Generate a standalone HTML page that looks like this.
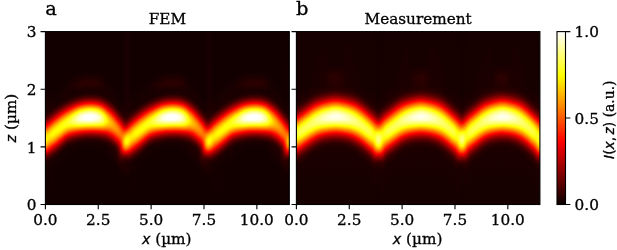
<!DOCTYPE html><html><head><meta charset="utf-8"><title>FEM vs Measurement</title><style>html,body{margin:0;padding:0;background:#fff}svg{display:block}text{font-family:"DejaVu Serif","Liberation Serif",serif;fill:#000;stroke:#000;stroke-width:.3px}.it{font-family:"DejaVu Sans","Liberation Sans",sans-serif;font-style:oblique}.sn{font-family:"DejaVu Sans","Liberation Sans",sans-serif}</style></head><body>
<svg width="617" height="250" viewBox="0 0 617 250">
<defs><linearGradient id="a0" x2="0" y2="1"><stop offset="0" stop-color="#040404"/><stop offset=".34" stop-color="#040404"/><stop offset=".473" stop-color="#090909"/><stop offset=".493" stop-color="#131313"/><stop offset=".51" stop-color="#242424"/><stop offset=".53" stop-color="#414141"/><stop offset=".585" stop-color="#a1a1a1"/><stop offset=".603" stop-color="#b4b4b4"/><stop offset=".62" stop-color="#bbb"/><stop offset=".634" stop-color="#b7b7b7"/><stop offset=".652" stop-color="#a4a4a4"/><stop offset=".669" stop-color="#878787"/><stop offset=".712" stop-color="#313131"/><stop offset=".73" stop-color="#191919"/><stop offset=".747" stop-color="#0b0b0b"/><stop offset=".764" stop-color="#060606"/><stop offset=".802" stop-color="#070707"/><stop offset=".851" stop-color="#030303"/><stop offset="1" stop-color="#030303"/></linearGradient>
<linearGradient id="a1" x2="0" y2="1"><stop offset="0" stop-color="#030303"/><stop offset=".328" stop-color="#030303"/><stop offset=".461" stop-color="#080808"/><stop offset=".478" stop-color="#111"/><stop offset=".496" stop-color="#212121"/><stop offset=".516" stop-color="#3f3f3f"/><stop offset=".571" stop-color="#9f9f9f"/><stop offset=".588" stop-color="#b2b2b2"/><stop offset=".605" stop-color="#b9b9b9"/><stop offset=".62" stop-color="#b5b5b5"/><stop offset=".637" stop-color="#a5a5a5"/><stop offset=".655" stop-color="#8b8b8b"/><stop offset=".707" stop-color="#2d2d2d"/><stop offset=".727" stop-color="#151515"/><stop offset=".744" stop-color="#090909"/><stop offset=".762" stop-color="#050505"/><stop offset=".848" stop-color="#030303"/><stop offset="1" stop-color="#030303"/></linearGradient>
<linearGradient id="a2" x2="0" y2="1"><stop offset="0" stop-color="#030303"/><stop offset=".314" stop-color="#030303"/><stop offset=".449" stop-color="#070707"/><stop offset=".47" stop-color="#121212"/><stop offset=".487" stop-color="#252525"/><stop offset=".507" stop-color="#444"/><stop offset=".559" stop-color="#a2a2a2"/><stop offset=".577" stop-color="#b6b6b6"/><stop offset=".594" stop-color="#bebebe"/><stop offset=".608" stop-color="#bababa"/><stop offset=".626" stop-color="#a9a9a9"/><stop offset=".643" stop-color="#8e8e8e"/><stop offset=".695" stop-color="#2f2f2f"/><stop offset=".715" stop-color="#171717"/><stop offset=".733" stop-color="#0a0a0a"/><stop offset=".756" stop-color="#050505"/><stop offset="1" stop-color="#030303"/></linearGradient>
<linearGradient id="a3" x2="0" y2="1"><stop offset="0" stop-color="#030303"/><stop offset=".302" stop-color="#030303"/><stop offset=".438" stop-color="#070707"/><stop offset=".461" stop-color="#151515"/><stop offset=".481" stop-color="#2c2c2c"/><stop offset=".499" stop-color="#494949"/><stop offset=".536" stop-color="#909090"/><stop offset=".553" stop-color="#ababab"/><stop offset=".571" stop-color="#bcbcbc"/><stop offset=".585" stop-color="#c0c0c0"/><stop offset=".6" stop-color="#bababa"/><stop offset=".614" stop-color="#acacac"/><stop offset=".632" stop-color="#919191"/><stop offset=".669" stop-color="#494949"/><stop offset=".686" stop-color="#2d2d2d"/><stop offset=".704" stop-color="#171717"/><stop offset=".724" stop-color="#090909"/><stop offset=".744" stop-color="#050505"/><stop offset=".825" stop-color="#030303"/><stop offset="1" stop-color="#030303"/></linearGradient>
<linearGradient id="a4" x2="0" y2="1"><stop offset="0" stop-color="#030303"/><stop offset=".293" stop-color="#030303"/><stop offset=".409" stop-color="#040404"/><stop offset=".429" stop-color="#080808"/><stop offset=".449" stop-color="#141414"/><stop offset=".47" stop-color="#2c2c2c"/><stop offset=".487" stop-color="#484848"/><stop offset=".525" stop-color="#909090"/><stop offset=".542" stop-color="#acacac"/><stop offset=".559" stop-color="#bdbdbd"/><stop offset=".574" stop-color="#c1c1c1"/><stop offset=".588" stop-color="#bcbcbc"/><stop offset=".603" stop-color="#adadad"/><stop offset=".62" stop-color="#929292"/><stop offset=".658" stop-color="#4a4a4a"/><stop offset=".675" stop-color="#2d2d2d"/><stop offset=".692" stop-color="#181818"/><stop offset=".712" stop-color="#0a0a0a"/><stop offset=".733" stop-color="#050505"/><stop offset=".814" stop-color="#030303"/><stop offset="1" stop-color="#030303"/></linearGradient>
<linearGradient id="a5" x2="0" y2="1"><stop offset="0" stop-color="#030303"/><stop offset=".285" stop-color="#030303"/><stop offset=".418" stop-color="#070707"/><stop offset=".438" stop-color="#131313"/><stop offset=".458" stop-color="#2a2a2a"/><stop offset=".475" stop-color="#464646"/><stop offset=".516" stop-color="#959595"/><stop offset=".533" stop-color="#b0b0b0"/><stop offset=".548" stop-color="#bdbdbd"/><stop offset=".562" stop-color="#c2c2c2"/><stop offset=".577" stop-color="#bdbdbd"/><stop offset=".591" stop-color="#aeaeae"/><stop offset=".608" stop-color="#929292"/><stop offset=".646" stop-color="#4a4a4a"/><stop offset=".663" stop-color="#2d2d2d"/><stop offset=".681" stop-color="#171717"/><stop offset=".701" stop-color="#090909"/><stop offset=".721" stop-color="#050505"/><stop offset=".802" stop-color="#030303"/><stop offset="1" stop-color="#030303"/></linearGradient>
<linearGradient id="a6" x2="0" y2="1"><stop offset="0" stop-color="#030303"/><stop offset=".276" stop-color="#030303"/><stop offset=".409" stop-color="#070707"/><stop offset=".429" stop-color="#131313"/><stop offset=".449" stop-color="#2c2c2c"/><stop offset=".467" stop-color="#494949"/><stop offset=".504" stop-color="#949494"/><stop offset=".522" stop-color="#afafaf"/><stop offset=".536" stop-color="#bebebe"/><stop offset=".551" stop-color="#c3c3c3"/><stop offset=".565" stop-color="#bebebe"/><stop offset=".579" stop-color="#afafaf"/><stop offset=".597" stop-color="#939393"/><stop offset=".632" stop-color="#4e4e4e"/><stop offset=".649" stop-color="#303030"/><stop offset=".666" stop-color="#191919"/><stop offset=".686" stop-color="#0a0a0a"/><stop offset=".707" stop-color="#050505"/><stop offset=".788" stop-color="#030303"/><stop offset="1" stop-color="#030303"/></linearGradient>
<linearGradient id="a7" x2="0" y2="1"><stop offset="0" stop-color="#030303"/><stop offset=".27" stop-color="#030303"/><stop offset=".4" stop-color="#070707"/><stop offset=".418" stop-color="#111"/><stop offset=".435" stop-color="#242424"/><stop offset=".455" stop-color="#454545"/><stop offset=".49" stop-color="#8c8c8c"/><stop offset=".507" stop-color="#ababab"/><stop offset=".525" stop-color="#bfbfbf"/><stop offset=".539" stop-color="#c5c5c5"/><stop offset=".553" stop-color="#c0c0c0"/><stop offset=".568" stop-color="#b0b0b0"/><stop offset=".585" stop-color="#939393"/><stop offset=".62" stop-color="#4d4d4d"/><stop offset=".637" stop-color="#2e2e2e"/><stop offset=".655" stop-color="#181818"/><stop offset=".675" stop-color="#090909"/><stop offset=".695" stop-color="#050505"/><stop offset=".773" stop-color="#030303"/><stop offset="1" stop-color="#030303"/></linearGradient>
<linearGradient id="a8" x2="0" y2="1"><stop offset="0" stop-color="#030303"/><stop offset=".264" stop-color="#030303"/><stop offset=".395" stop-color="#080808"/><stop offset=".415" stop-color="#151515"/><stop offset=".432" stop-color="#2c2c2c"/><stop offset=".449" stop-color="#4b4b4b"/><stop offset=".487" stop-color="#9a9a9a"/><stop offset=".501" stop-color="#b2b2b2"/><stop offset=".516" stop-color="#c2c2c2"/><stop offset=".53" stop-color="#c8c8c8"/><stop offset=".545" stop-color="#c2c2c2"/><stop offset=".559" stop-color="#b1b1b1"/><stop offset=".574" stop-color="#989898"/><stop offset=".608" stop-color="#4f4f4f"/><stop offset=".626" stop-color="#2f2f2f"/><stop offset=".643" stop-color="#181818"/><stop offset=".663" stop-color="#090909"/><stop offset=".681" stop-color="#050505"/><stop offset=".762" stop-color="#030303"/><stop offset="1" stop-color="#030303"/></linearGradient>
<linearGradient id="a9" x2="0" y2="1"><stop offset="0" stop-color="#030303"/><stop offset=".259" stop-color="#030303"/><stop offset=".322" stop-color="#070707"/><stop offset=".371" stop-color="#050505"/><stop offset=".389" stop-color="#080808"/><stop offset=".409" stop-color="#171717"/><stop offset=".426" stop-color="#2e2e2e"/><stop offset=".444" stop-color="#4f4f4f"/><stop offset=".478" stop-color="#9b9b9b"/><stop offset=".496" stop-color="#b9b9b9"/><stop offset=".51" stop-color="#c9c9c9"/><stop offset=".522" stop-color="#cdcdcd"/><stop offset=".536" stop-color="#c8c8c8"/><stop offset=".551" stop-color="#b7b7b7"/><stop offset=".565" stop-color="#9e9e9e"/><stop offset=".6" stop-color="#525252"/><stop offset=".617" stop-color="#313131"/><stop offset=".634" stop-color="#191919"/><stop offset=".655" stop-color="#090909"/><stop offset=".672" stop-color="#050505"/><stop offset=".75" stop-color="#030303"/><stop offset="1" stop-color="#030303"/></linearGradient>
<linearGradient id="a10" x2="0" y2="1"><stop offset="0" stop-color="#030303"/><stop offset=".25" stop-color="#030303"/><stop offset=".316" stop-color="#080808"/><stop offset=".366" stop-color="#050505"/><stop offset=".383" stop-color="#090909"/><stop offset=".403" stop-color="#181818"/><stop offset=".421" stop-color="#303030"/><stop offset=".438" stop-color="#535353"/><stop offset=".473" stop-color="#a2a2a2"/><stop offset=".487" stop-color="#bdbdbd"/><stop offset=".501" stop-color="#cfcfcf"/><stop offset=".516" stop-color="#d6d6d6"/><stop offset=".53" stop-color="#d0d0d0"/><stop offset=".545" stop-color="#bebebe"/><stop offset=".559" stop-color="#a4a4a4"/><stop offset=".594" stop-color="#555"/><stop offset=".611" stop-color="#323232"/><stop offset=".629" stop-color="#191919"/><stop offset=".649" stop-color="#090909"/><stop offset=".669" stop-color="#040404"/><stop offset=".736" stop-color="#030303"/><stop offset="1" stop-color="#030303"/></linearGradient>
<linearGradient id="a11" x2="0" y2="1"><stop offset="0" stop-color="#030303"/><stop offset=".244" stop-color="#030303"/><stop offset=".311" stop-color="#090909"/><stop offset=".36" stop-color="#050505"/><stop offset=".377" stop-color="#090909"/><stop offset=".395" stop-color="#151515"/><stop offset=".409" stop-color="#282828"/><stop offset=".429" stop-color="#4f4f4f"/><stop offset=".464" stop-color="#a2a2a2"/><stop offset=".478" stop-color="#c0c0c0"/><stop offset=".496" stop-color="#d8d8d8"/><stop offset=".51" stop-color="#e0e0e0"/><stop offset=".525" stop-color="#dadada"/><stop offset=".539" stop-color="#c8c8c8"/><stop offset=".553" stop-color="#adadad"/><stop offset=".591" stop-color="#535353"/><stop offset=".608" stop-color="#303030"/><stop offset=".626" stop-color="#171717"/><stop offset=".646" stop-color="#080808"/><stop offset=".712" stop-color="#030303"/><stop offset="1" stop-color="#030303"/></linearGradient>
<linearGradient id="a12" x2="0" y2="1"><stop offset="0" stop-color="#030303"/><stop offset=".238" stop-color="#030303"/><stop offset=".305" stop-color="#0a0a0a"/><stop offset=".354" stop-color="#060606"/><stop offset=".374" stop-color="#0a0a0a"/><stop offset=".395" stop-color="#1b1b1b"/><stop offset=".412" stop-color="#373737"/><stop offset=".429" stop-color="#5d5d5d"/><stop offset=".464" stop-color="#b4b4b4"/><stop offset=".478" stop-color="#d1d1d1"/><stop offset=".493" stop-color="#e4e4e4"/><stop offset=".507" stop-color="#ebebeb"/><stop offset=".519" stop-color="#e6e6e6"/><stop offset=".533" stop-color="#d4d4d4"/><stop offset=".551" stop-color="#b1b1b1"/><stop offset=".585" stop-color="#5a5a5a"/><stop offset=".603" stop-color="#353535"/><stop offset=".62" stop-color="#1a1a1a"/><stop offset=".64" stop-color="#090909"/><stop offset=".658" stop-color="#050505"/><stop offset=".701" stop-color="#030303"/><stop offset="1" stop-color="#030303"/></linearGradient>
<linearGradient id="a13" x2="0" y2="1"><stop offset="0" stop-color="#030303"/><stop offset=".233" stop-color="#030303"/><stop offset=".302" stop-color="#0b0b0b"/><stop offset=".351" stop-color="#060606"/><stop offset=".368" stop-color="#090909"/><stop offset=".386" stop-color="#161616"/><stop offset=".403" stop-color="#303030"/><stop offset=".421" stop-color="#555"/><stop offset=".455" stop-color="#b0b0b0"/><stop offset=".47" stop-color="#d1d1d1"/><stop offset=".487" stop-color="#ececec"/><stop offset=".501" stop-color="#f5f5f5"/><stop offset=".516" stop-color="#efefef"/><stop offset=".53" stop-color="#dcdcdc"/><stop offset=".545" stop-color="#bebebe"/><stop offset=".582" stop-color="#5c5c5c"/><stop offset=".6" stop-color="#353535"/><stop offset=".617" stop-color="#191919"/><stop offset=".637" stop-color="#090909"/><stop offset=".655" stop-color="#050505"/><stop offset=".701" stop-color="#030303"/><stop offset="1" stop-color="#030303"/></linearGradient>
<linearGradient id="a14" x2="0" y2="1"><stop offset="0" stop-color="#030303"/><stop offset=".236" stop-color="#030303"/><stop offset=".302" stop-color="#0c0c0c"/><stop offset=".348" stop-color="#060606"/><stop offset=".366" stop-color="#090909"/><stop offset=".383" stop-color="#171717"/><stop offset=".4" stop-color="#313131"/><stop offset=".418" stop-color="#585858"/><stop offset=".452" stop-color="#b5b5b5"/><stop offset=".467" stop-color="#d8d8d8"/><stop offset=".484" stop-color="#f4f4f4"/><stop offset=".499" stop-color="#fdfdfd"/><stop offset=".513" stop-color="#f7f7f7"/><stop offset=".527" stop-color="#e3e3e3"/><stop offset=".542" stop-color="#c3c3c3"/><stop offset=".579" stop-color="#5e5e5e"/><stop offset=".597" stop-color="#363636"/><stop offset=".614" stop-color="#1a1a1a"/><stop offset=".634" stop-color="#090909"/><stop offset=".652" stop-color="#050505"/><stop offset=".698" stop-color="#030303"/><stop offset="1" stop-color="#030303"/></linearGradient>
<linearGradient id="a15" x2="0" y2="1"><stop offset="0" stop-color="#030303"/><stop offset=".23" stop-color="#030303"/><stop offset=".296" stop-color="#0d0d0d"/><stop offset=".345" stop-color="#060606"/><stop offset=".366" stop-color="#0a0a0a"/><stop offset=".386" stop-color="#1e1e1e"/><stop offset=".403" stop-color="#3c3c3c"/><stop offset=".421" stop-color="#666"/><stop offset=".455" stop-color="#c6c6c6"/><stop offset=".47" stop-color="#e6e6e6"/><stop offset=".487" stop-color="#fdfdfd"/><stop offset=".501" stop-color="#fff"/><stop offset=".513" stop-color="#f9f9f9"/><stop offset=".53" stop-color="#ddd"/><stop offset=".545" stop-color="#bababa"/><stop offset=".579" stop-color="#5b5b5b"/><stop offset=".597" stop-color="#333"/><stop offset=".614" stop-color="#181818"/><stop offset=".632" stop-color="#090909"/><stop offset=".649" stop-color="#050505"/><stop offset=".695" stop-color="#030303"/><stop offset="1" stop-color="#030303"/></linearGradient>
<linearGradient id="a16" x2="0" y2="1"><stop offset="0" stop-color="#030303"/><stop offset=".233" stop-color="#030303"/><stop offset=".296" stop-color="#0d0d0d"/><stop offset=".342" stop-color="#060606"/><stop offset=".363" stop-color="#0a0a0a"/><stop offset=".383" stop-color="#1c1c1c"/><stop offset=".4" stop-color="#3a3a3a"/><stop offset=".418" stop-color="#646464"/><stop offset=".455" stop-color="#cdcdcd"/><stop offset=".473" stop-color="#f1f1f1"/><stop offset=".484" stop-color="#fff"/><stop offset=".507" stop-color="#fff"/><stop offset=".519" stop-color="#f3f3f3"/><stop offset=".533" stop-color="#d6d6d6"/><stop offset=".577" stop-color="#5f5f5f"/><stop offset=".594" stop-color="#363636"/><stop offset=".611" stop-color="#1a1a1a"/><stop offset=".629" stop-color="#0a0a0a"/><stop offset=".646" stop-color="#050505"/><stop offset=".686" stop-color="#030303"/><stop offset="1" stop-color="#030303"/></linearGradient>
<linearGradient id="a17" x2="0" y2="1"><stop offset="0" stop-color="#030303"/><stop offset=".233" stop-color="#030303"/><stop offset=".296" stop-color="#0d0d0d"/><stop offset=".342" stop-color="#060606"/><stop offset=".363" stop-color="#0a0a0a"/><stop offset=".383" stop-color="#1e1e1e"/><stop offset=".4" stop-color="#3c3c3c"/><stop offset=".418" stop-color="#676767"/><stop offset=".452" stop-color="#c9c9c9"/><stop offset=".47" stop-color="#efefef"/><stop offset=".481" stop-color="#fff"/><stop offset=".507" stop-color="#fff"/><stop offset=".516" stop-color="#f7f7f7"/><stop offset=".53" stop-color="#dcdcdc"/><stop offset=".545" stop-color="#b7b7b7"/><stop offset=".577" stop-color="#5d5d5d"/><stop offset=".594" stop-color="#353535"/><stop offset=".611" stop-color="#191919"/><stop offset=".629" stop-color="#0a0a0a"/><stop offset=".646" stop-color="#050505"/><stop offset=".689" stop-color="#030303"/><stop offset="1" stop-color="#030303"/></linearGradient>
<linearGradient id="a18" x2="0" y2="1"><stop offset="0" stop-color="#030303"/><stop offset=".233" stop-color="#030303"/><stop offset=".296" stop-color="#0d0d0d"/><stop offset=".342" stop-color="#060606"/><stop offset=".363" stop-color="#0a0a0a"/><stop offset=".383" stop-color="#1d1d1d"/><stop offset=".4" stop-color="#3c3c3c"/><stop offset=".418" stop-color="#676767"/><stop offset=".452" stop-color="#c8c8c8"/><stop offset=".47" stop-color="#eee"/><stop offset=".481" stop-color="#fefefe"/><stop offset=".507" stop-color="#fff"/><stop offset=".519" stop-color="#f2f2f2"/><stop offset=".533" stop-color="#d5d5d5"/><stop offset=".577" stop-color="#5d5d5d"/><stop offset=".594" stop-color="#353535"/><stop offset=".611" stop-color="#191919"/><stop offset=".629" stop-color="#0a0a0a"/><stop offset=".646" stop-color="#050505"/><stop offset=".689" stop-color="#030303"/><stop offset="1" stop-color="#030303"/></linearGradient>
<linearGradient id="a19" x2="0" y2="1"><stop offset="0" stop-color="#030303"/><stop offset=".233" stop-color="#030303"/><stop offset=".296" stop-color="#0d0d0d"/><stop offset=".342" stop-color="#060606"/><stop offset=".363" stop-color="#0a0a0a"/><stop offset=".383" stop-color="#1c1c1c"/><stop offset=".4" stop-color="#3a3a3a"/><stop offset=".418" stop-color="#646464"/><stop offset=".452" stop-color="#c4c4c4"/><stop offset=".47" stop-color="#eaeaea"/><stop offset=".484" stop-color="#fefefe"/><stop offset=".501" stop-color="#fff"/><stop offset=".513" stop-color="#f8f8f8"/><stop offset=".53" stop-color="#dadada"/><stop offset=".545" stop-color="#b6b6b6"/><stop offset=".579" stop-color="#565656"/><stop offset=".597" stop-color="#303030"/><stop offset=".611" stop-color="#191919"/><stop offset=".629" stop-color="#0a0a0a"/><stop offset=".646" stop-color="#050505"/><stop offset=".689" stop-color="#030303"/><stop offset="1" stop-color="#030303"/></linearGradient>
<linearGradient id="a20" x2="0" y2="1"><stop offset="0" stop-color="#030303"/><stop offset=".23" stop-color="#030303"/><stop offset=".296" stop-color="#0c0c0c"/><stop offset=".345" stop-color="#060606"/><stop offset=".366" stop-color="#0b0b0b"/><stop offset=".386" stop-color="#1e1e1e"/><stop offset=".403" stop-color="#3d3d3d"/><stop offset=".421" stop-color="#666"/><stop offset=".452" stop-color="#bdbdbd"/><stop offset=".47" stop-color="#e3e3e3"/><stop offset=".484" stop-color="#f7f7f7"/><stop offset=".499" stop-color="#fdfdfd"/><stop offset=".513" stop-color="#f5f5f5"/><stop offset=".53" stop-color="#d8d8d8"/><stop offset=".545" stop-color="#b6b6b6"/><stop offset=".579" stop-color="#585858"/><stop offset=".597" stop-color="#313131"/><stop offset=".614" stop-color="#171717"/><stop offset=".632" stop-color="#090909"/><stop offset=".649" stop-color="#050505"/><stop offset=".695" stop-color="#030303"/><stop offset="1" stop-color="#030303"/></linearGradient>
<linearGradient id="a21" x2="0" y2="1"><stop offset="0" stop-color="#030303"/><stop offset=".23" stop-color="#030303"/><stop offset=".299" stop-color="#0b0b0b"/><stop offset=".348" stop-color="#060606"/><stop offset=".366" stop-color="#090909"/><stop offset=".383" stop-color="#171717"/><stop offset=".397" stop-color="#2b2b2b"/><stop offset=".418" stop-color="#565656"/><stop offset=".452" stop-color="#b0b0b0"/><stop offset=".467" stop-color="#d1d1d1"/><stop offset=".484" stop-color="#ececec"/><stop offset=".499" stop-color="#f4f4f4"/><stop offset=".513" stop-color="#eee"/><stop offset=".527" stop-color="#dadada"/><stop offset=".542" stop-color="#bcbcbc"/><stop offset=".579" stop-color="#5a5a5a"/><stop offset=".597" stop-color="#343434"/><stop offset=".614" stop-color="#191919"/><stop offset=".634" stop-color="#080808"/><stop offset=".701" stop-color="#030303"/><stop offset="1" stop-color="#030303"/></linearGradient>
<linearGradient id="a22" x2="0" y2="1"><stop offset="0" stop-color="#030303"/><stop offset=".236" stop-color="#030303"/><stop offset=".302" stop-color="#0a0a0a"/><stop offset=".351" stop-color="#050505"/><stop offset=".368" stop-color="#080808"/><stop offset=".389" stop-color="#181818"/><stop offset=".406" stop-color="#323232"/><stop offset=".423" stop-color="#565656"/><stop offset=".461" stop-color="#b2b2b2"/><stop offset=".475" stop-color="#cecece"/><stop offset=".49" stop-color="#e1e1e1"/><stop offset=".504" stop-color="#e6e6e6"/><stop offset=".519" stop-color="#dedede"/><stop offset=".536" stop-color="#c5c5c5"/><stop offset=".551" stop-color="#a5a5a5"/><stop offset=".585" stop-color="#505050"/><stop offset=".603" stop-color="#2d2d2d"/><stop offset=".62" stop-color="#151515"/><stop offset=".637" stop-color="#080808"/><stop offset=".655" stop-color="#050505"/><stop offset=".71" stop-color="#030303"/><stop offset="1" stop-color="#030303"/></linearGradient>
<linearGradient id="a23" x2="0" y2="1"><stop offset="0" stop-color="#030303"/><stop offset=".241" stop-color="#030303"/><stop offset=".308" stop-color="#080808"/><stop offset=".357" stop-color="#050505"/><stop offset=".374" stop-color="#080808"/><stop offset=".395" stop-color="#171717"/><stop offset=".412" stop-color="#2f2f2f"/><stop offset=".429" stop-color="#515151"/><stop offset=".464" stop-color="#9f9f9f"/><stop offset=".481" stop-color="#bebebe"/><stop offset=".496" stop-color="#cecece"/><stop offset=".507" stop-color="#d2d2d2"/><stop offset=".522" stop-color="#cdcdcd"/><stop offset=".536" stop-color="#bcbcbc"/><stop offset=".551" stop-color="#a2a2a2"/><stop offset=".585" stop-color="#545454"/><stop offset=".603" stop-color="#323232"/><stop offset=".62" stop-color="#191919"/><stop offset=".64" stop-color="#090909"/><stop offset=".658" stop-color="#050505"/><stop offset=".736" stop-color="#030303"/><stop offset="1" stop-color="#030303"/></linearGradient>
<linearGradient id="a24" x2="0" y2="1"><stop offset="0" stop-color="#030303"/><stop offset=".25" stop-color="#030303"/><stop offset=".38" stop-color="#080808"/><stop offset=".4" stop-color="#141414"/><stop offset=".418" stop-color="#2a2a2a"/><stop offset=".435" stop-color="#474747"/><stop offset=".473" stop-color="#939393"/><stop offset=".487" stop-color="#aaa"/><stop offset=".501" stop-color="#b9b9b9"/><stop offset=".516" stop-color="#bdbdbd"/><stop offset=".527" stop-color="#b9b9b9"/><stop offset=".542" stop-color="#aaa"/><stop offset=".559" stop-color="#8e8e8e"/><stop offset=".591" stop-color="#4d4d4d"/><stop offset=".608" stop-color="#2e2e2e"/><stop offset=".626" stop-color="#181818"/><stop offset=".646" stop-color="#090909"/><stop offset=".663" stop-color="#050505"/><stop offset=".75" stop-color="#030303"/><stop offset="1" stop-color="#030303"/></linearGradient>
<linearGradient id="a25" x2="0" y2="1"><stop offset="0" stop-color="#030303"/><stop offset=".264" stop-color="#030303"/><stop offset=".389" stop-color="#070707"/><stop offset=".406" stop-color="#111"/><stop offset=".423" stop-color="#232323"/><stop offset=".441" stop-color="#3d3d3d"/><stop offset=".49" stop-color="#959595"/><stop offset=".507" stop-color="#a8a8a8"/><stop offset=".522" stop-color="#aeaeae"/><stop offset=".536" stop-color="#aaa"/><stop offset=".551" stop-color="#9c9c9c"/><stop offset=".568" stop-color="#828282"/><stop offset=".617" stop-color="#2b2b2b"/><stop offset=".637" stop-color="#131313"/><stop offset=".655" stop-color="#090909"/><stop offset=".762" stop-color="#030303"/><stop offset="1" stop-color="#030303"/></linearGradient>
<linearGradient id="a26" x2="0" y2="1"><stop offset="0" stop-color="#030303"/><stop offset=".276" stop-color="#030303"/><stop offset=".397" stop-color="#070707"/><stop offset=".415" stop-color="#0f0f0f"/><stop offset=".432" stop-color="#1f1f1f"/><stop offset=".449" stop-color="#373737"/><stop offset=".501" stop-color="#8d8d8d"/><stop offset=".519" stop-color="#9e9e9e"/><stop offset=".533" stop-color="#a3a3a3"/><stop offset=".548" stop-color="#9f9f9f"/><stop offset=".562" stop-color="#919191"/><stop offset=".577" stop-color="#7d7d7d"/><stop offset=".629" stop-color="#272727"/><stop offset=".646" stop-color="#141414"/><stop offset=".663" stop-color="#090909"/><stop offset=".77" stop-color="#030303"/><stop offset="1" stop-color="#030303"/></linearGradient>
<linearGradient id="a27" x2="0" y2="1"><stop offset="0" stop-color="#030303"/><stop offset=".296" stop-color="#030303"/><stop offset=".412" stop-color="#070707"/><stop offset=".432" stop-color="#111"/><stop offset=".452" stop-color="#262626"/><stop offset=".504" stop-color="#777"/><stop offset=".519" stop-color="#8b8b8b"/><stop offset=".533" stop-color="#979797"/><stop offset=".548" stop-color="#9b9b9b"/><stop offset=".562" stop-color="#969696"/><stop offset=".577" stop-color="#898989"/><stop offset=".64" stop-color="#282828"/><stop offset=".66" stop-color="#121212"/><stop offset=".678" stop-color="#090909"/><stop offset=".785" stop-color="#030303"/><stop offset="1" stop-color="#030303"/></linearGradient>
<linearGradient id="a28" x2="0" y2="1"><stop offset="0" stop-color="#030303"/><stop offset=".319" stop-color="#030303"/><stop offset=".426" stop-color="#070707"/><stop offset=".444" stop-color="#0e0e0e"/><stop offset=".461" stop-color="#1c1c1c"/><stop offset=".481" stop-color="#363636"/><stop offset=".53" stop-color="#818181"/><stop offset=".548" stop-color="#919191"/><stop offset=".562" stop-color="#969696"/><stop offset=".577" stop-color="#929292"/><stop offset=".591" stop-color="#868686"/><stop offset=".605" stop-color="#737373"/><stop offset=".655" stop-color="#282828"/><stop offset=".672" stop-color="#161616"/><stop offset=".689" stop-color="#0c0c0c"/><stop offset=".796" stop-color="#030303"/><stop offset="1" stop-color="#030303"/></linearGradient>
<linearGradient id="a29" x2="0" y2="1"><stop offset="0" stop-color="#030303"/><stop offset=".386" stop-color="#030303"/><stop offset=".444" stop-color="#070707"/><stop offset=".461" stop-color="#0e0e0e"/><stop offset=".478" stop-color="#1c1c1c"/><stop offset=".496" stop-color="#313131"/><stop offset=".548" stop-color="#7d7d7d"/><stop offset=".565" stop-color="#8c8c8c"/><stop offset=".579" stop-color="#909090"/><stop offset=".594" stop-color="#8b8b8b"/><stop offset=".608" stop-color="#7f7f7f"/><stop offset=".655" stop-color="#424242"/><stop offset=".672" stop-color="#303030"/><stop offset=".692" stop-color="#212121"/><stop offset=".718" stop-color="#171717"/><stop offset=".764" stop-color="#090909"/><stop offset=".796" stop-color="#040404"/><stop offset="1" stop-color="#030303"/></linearGradient>
<linearGradient id="a30" x2="0" y2="1"><stop offset="0" stop-color="#030303"/><stop offset=".392" stop-color="#030303"/><stop offset=".461" stop-color="#070707"/><stop offset=".481" stop-color="#0f0f0f"/><stop offset=".501" stop-color="#212121"/><stop offset=".553" stop-color="#676767"/><stop offset=".571" stop-color="#7b7b7b"/><stop offset=".588" stop-color="#878787"/><stop offset=".603" stop-color="#8a8a8a"/><stop offset=".626" stop-color="#848484"/><stop offset=".658" stop-color="#6e6e6e"/><stop offset=".681" stop-color="#575757"/><stop offset=".724" stop-color="#1f1f1f"/><stop offset=".75" stop-color="#0c0c0c"/><stop offset=".828" stop-color="#030303"/><stop offset="1" stop-color="#030303"/></linearGradient>
<linearGradient id="a31" x2="0" y2="1"><stop offset="0" stop-color="#040404"/><stop offset=".403" stop-color="#050505"/><stop offset=".481" stop-color="#090909"/><stop offset=".501" stop-color="#111"/><stop offset=".522" stop-color="#222"/><stop offset=".545" stop-color="#404040"/><stop offset=".6" stop-color="#959595"/><stop offset=".617" stop-color="#a7a7a7"/><stop offset=".634" stop-color="#afafaf"/><stop offset=".649" stop-color="#aaa"/><stop offset=".666" stop-color="#979797"/><stop offset=".678" stop-color="#838383"/><stop offset=".718" stop-color="#2c2c2c"/><stop offset=".733" stop-color="#171717"/><stop offset=".747" stop-color="#0c0c0c"/><stop offset=".842" stop-color="#030303"/><stop offset="1" stop-color="#030303"/></linearGradient>
<linearGradient id="a32" x2="0" y2="1"><stop offset="0" stop-color="#060606"/><stop offset=".444" stop-color="#070707"/><stop offset=".493" stop-color="#0b0b0b"/><stop offset=".513" stop-color="#161616"/><stop offset=".53" stop-color="#292929"/><stop offset=".551" stop-color="#494949"/><stop offset=".588" stop-color="#969696"/><stop offset=".603" stop-color="#afafaf"/><stop offset=".617" stop-color="#c1c1c1"/><stop offset=".632" stop-color="#c7c7c7"/><stop offset=".646" stop-color="#c0c0c0"/><stop offset=".66" stop-color="#aeaeae"/><stop offset=".675" stop-color="#919191"/><stop offset=".698" stop-color="#595959"/><stop offset=".715" stop-color="#343434"/><stop offset=".733" stop-color="#191919"/><stop offset=".747" stop-color="#0c0c0c"/><stop offset=".762" stop-color="#080808"/><stop offset=".796" stop-color="#090909"/><stop offset=".848" stop-color="#030303"/><stop offset="1" stop-color="#030303"/></linearGradient>
<linearGradient id="a33" x2="0" y2="1"><stop offset="0" stop-color="#050505"/><stop offset=".342" stop-color="#050505"/><stop offset=".452" stop-color="#060606"/><stop offset=".475" stop-color="#0a0a0a"/><stop offset=".496" stop-color="#141414"/><stop offset=".516" stop-color="#282828"/><stop offset=".536" stop-color="#474747"/><stop offset=".574" stop-color="#8c8c8c"/><stop offset=".591" stop-color="#a8a8a8"/><stop offset=".608" stop-color="#bababa"/><stop offset=".623" stop-color="#bebebe"/><stop offset=".637" stop-color="#b8b8b8"/><stop offset=".652" stop-color="#a9a9a9"/><stop offset=".669" stop-color="#8b8b8b"/><stop offset=".698" stop-color="#4e4e4e"/><stop offset=".715" stop-color="#2e2e2e"/><stop offset=".733" stop-color="#171717"/><stop offset=".747" stop-color="#0b0b0b"/><stop offset=".764" stop-color="#060606"/><stop offset=".802" stop-color="#070707"/><stop offset=".851" stop-color="#030303"/><stop offset="1" stop-color="#030303"/></linearGradient>
<linearGradient id="a34" x2="0" y2="1"><stop offset="0" stop-color="#030303"/><stop offset=".328" stop-color="#030303"/><stop offset=".461" stop-color="#080808"/><stop offset=".484" stop-color="#151515"/><stop offset=".504" stop-color="#2c2c2c"/><stop offset=".522" stop-color="#474747"/><stop offset=".559" stop-color="#8c8c8c"/><stop offset=".577" stop-color="#a5a5a5"/><stop offset=".594" stop-color="#b5b5b5"/><stop offset=".608" stop-color="#b9b9b9"/><stop offset=".623" stop-color="#b4b4b4"/><stop offset=".64" stop-color="#a2a2a2"/><stop offset=".658" stop-color="#878787"/><stop offset=".707" stop-color="#2e2e2e"/><stop offset=".727" stop-color="#151515"/><stop offset=".744" stop-color="#090909"/><stop offset=".762" stop-color="#050505"/><stop offset=".848" stop-color="#030303"/><stop offset="1" stop-color="#030303"/></linearGradient>
<linearGradient id="a35" x2="0" y2="1"><stop offset="0" stop-color="#030303"/><stop offset=".314" stop-color="#030303"/><stop offset=".449" stop-color="#070707"/><stop offset=".47" stop-color="#121212"/><stop offset=".487" stop-color="#242424"/><stop offset=".507" stop-color="#434343"/><stop offset=".559" stop-color="#a1a1a1"/><stop offset=".577" stop-color="#b6b6b6"/><stop offset=".594" stop-color="#bebebe"/><stop offset=".608" stop-color="#bababa"/><stop offset=".626" stop-color="#a9a9a9"/><stop offset=".643" stop-color="#8e8e8e"/><stop offset=".695" stop-color="#303030"/><stop offset=".715" stop-color="#171717"/><stop offset=".733" stop-color="#0a0a0a"/><stop offset=".756" stop-color="#050505"/><stop offset="1" stop-color="#030303"/></linearGradient>
<linearGradient id="a36" x2="0" y2="1"><stop offset="0" stop-color="#030303"/><stop offset=".305" stop-color="#030303"/><stop offset=".421" stop-color="#040404"/><stop offset=".441" stop-color="#080808"/><stop offset=".461" stop-color="#141414"/><stop offset=".481" stop-color="#2c2c2c"/><stop offset=".499" stop-color="#484848"/><stop offset=".536" stop-color="#909090"/><stop offset=".553" stop-color="#ababab"/><stop offset=".571" stop-color="#bcbcbc"/><stop offset=".585" stop-color="#c0c0c0"/><stop offset=".6" stop-color="#bbb"/><stop offset=".614" stop-color="#acacac"/><stop offset=".632" stop-color="#919191"/><stop offset=".669" stop-color="#4a4a4a"/><stop offset=".686" stop-color="#2d2d2d"/><stop offset=".704" stop-color="#181818"/><stop offset=".724" stop-color="#0a0a0a"/><stop offset=".744" stop-color="#050505"/><stop offset=".825" stop-color="#030303"/><stop offset="1" stop-color="#030303"/></linearGradient>
<linearGradient id="a37" x2="0" y2="1"><stop offset="0" stop-color="#030303"/><stop offset=".293" stop-color="#030303"/><stop offset=".429" stop-color="#080808"/><stop offset=".449" stop-color="#141414"/><stop offset=".47" stop-color="#2b2b2b"/><stop offset=".487" stop-color="#484848"/><stop offset=".527" stop-color="#959595"/><stop offset=".545" stop-color="#afafaf"/><stop offset=".559" stop-color="#bdbdbd"/><stop offset=".574" stop-color="#c1c1c1"/><stop offset=".588" stop-color="#bcbcbc"/><stop offset=".603" stop-color="#adadad"/><stop offset=".62" stop-color="#929292"/><stop offset=".658" stop-color="#4a4a4a"/><stop offset=".675" stop-color="#2e2e2e"/><stop offset=".692" stop-color="#181818"/><stop offset=".712" stop-color="#0a0a0a"/><stop offset=".733" stop-color="#050505"/><stop offset=".814" stop-color="#030303"/><stop offset="1" stop-color="#030303"/></linearGradient>
<linearGradient id="a38" x2="0" y2="1"><stop offset="0" stop-color="#030303"/><stop offset=".285" stop-color="#030303"/><stop offset=".418" stop-color="#070707"/><stop offset=".438" stop-color="#131313"/><stop offset=".458" stop-color="#2a2a2a"/><stop offset=".478" stop-color="#4b4b4b"/><stop offset=".516" stop-color="#949494"/><stop offset=".533" stop-color="#afafaf"/><stop offset=".548" stop-color="#bdbdbd"/><stop offset=".562" stop-color="#c2c2c2"/><stop offset=".577" stop-color="#bdbdbd"/><stop offset=".591" stop-color="#aeaeae"/><stop offset=".608" stop-color="#939393"/><stop offset=".646" stop-color="#4a4a4a"/><stop offset=".663" stop-color="#2d2d2d"/><stop offset=".681" stop-color="#181818"/><stop offset=".701" stop-color="#0a0a0a"/><stop offset=".721" stop-color="#050505"/><stop offset=".802" stop-color="#030303"/><stop offset="1" stop-color="#030303"/></linearGradient>
<linearGradient id="a39" x2="0" y2="1"><stop offset="0" stop-color="#030303"/><stop offset=".276" stop-color="#030303"/><stop offset=".409" stop-color="#070707"/><stop offset=".429" stop-color="#131313"/><stop offset=".449" stop-color="#2b2b2b"/><stop offset=".467" stop-color="#494949"/><stop offset=".504" stop-color="#939393"/><stop offset=".522" stop-color="#afafaf"/><stop offset=".536" stop-color="#bebebe"/><stop offset=".551" stop-color="#c3c3c3"/><stop offset=".565" stop-color="#bebebe"/><stop offset=".579" stop-color="#afafaf"/><stop offset=".597" stop-color="#939393"/><stop offset=".632" stop-color="#4e4e4e"/><stop offset=".649" stop-color="#303030"/><stop offset=".669" stop-color="#171717"/><stop offset=".689" stop-color="#090909"/><stop offset=".71" stop-color="#050505"/><stop offset=".79" stop-color="#030303"/><stop offset="1" stop-color="#030303"/></linearGradient>
<linearGradient id="a40" x2="0" y2="1"><stop offset="0" stop-color="#030303"/><stop offset=".27" stop-color="#030303"/><stop offset=".386" stop-color="#050505"/><stop offset=".403" stop-color="#080808"/><stop offset=".423" stop-color="#161616"/><stop offset=".441" stop-color="#2c2c2c"/><stop offset=".458" stop-color="#4b4b4b"/><stop offset=".496" stop-color="#979797"/><stop offset=".51" stop-color="#afafaf"/><stop offset=".525" stop-color="#bfbfbf"/><stop offset=".539" stop-color="#c5c5c5"/><stop offset=".553" stop-color="#c0c0c0"/><stop offset=".568" stop-color="#b0b0b0"/><stop offset=".585" stop-color="#949494"/><stop offset=".62" stop-color="#4d4d4d"/><stop offset=".637" stop-color="#2f2f2f"/><stop offset=".655" stop-color="#181818"/><stop offset=".675" stop-color="#0a0a0a"/><stop offset=".695" stop-color="#050505"/><stop offset=".773" stop-color="#030303"/><stop offset="1" stop-color="#030303"/></linearGradient>
<linearGradient id="a41" x2="0" y2="1"><stop offset="0" stop-color="#030303"/><stop offset=".264" stop-color="#030303"/><stop offset=".395" stop-color="#080808"/><stop offset=".415" stop-color="#151515"/><stop offset=".432" stop-color="#2c2c2c"/><stop offset=".449" stop-color="#4b4b4b"/><stop offset=".487" stop-color="#999"/><stop offset=".501" stop-color="#b2b2b2"/><stop offset=".516" stop-color="#c2c2c2"/><stop offset=".53" stop-color="#c8c8c8"/><stop offset=".545" stop-color="#c2c2c2"/><stop offset=".559" stop-color="#b1b1b1"/><stop offset=".574" stop-color="#989898"/><stop offset=".608" stop-color="#505050"/><stop offset=".626" stop-color="#303030"/><stop offset=".643" stop-color="#181818"/><stop offset=".663" stop-color="#090909"/><stop offset=".681" stop-color="#050505"/><stop offset=".762" stop-color="#030303"/><stop offset="1" stop-color="#030303"/></linearGradient>
<linearGradient id="a42" x2="0" y2="1"><stop offset="0" stop-color="#030303"/><stop offset=".259" stop-color="#030303"/><stop offset=".322" stop-color="#070707"/><stop offset=".371" stop-color="#050505"/><stop offset=".389" stop-color="#080808"/><stop offset=".409" stop-color="#171717"/><stop offset=".426" stop-color="#2e2e2e"/><stop offset=".444" stop-color="#4f4f4f"/><stop offset=".478" stop-color="#9b9b9b"/><stop offset=".496" stop-color="#b9b9b9"/><stop offset=".51" stop-color="#c9c9c9"/><stop offset=".522" stop-color="#cdcdcd"/><stop offset=".536" stop-color="#c8c8c8"/><stop offset=".551" stop-color="#b7b7b7"/><stop offset=".565" stop-color="#9e9e9e"/><stop offset=".6" stop-color="#525252"/><stop offset=".617" stop-color="#313131"/><stop offset=".634" stop-color="#191919"/><stop offset=".655" stop-color="#090909"/><stop offset=".672" stop-color="#050505"/><stop offset=".75" stop-color="#030303"/><stop offset="1" stop-color="#030303"/></linearGradient>
<linearGradient id="a43" x2="0" y2="1"><stop offset="0" stop-color="#030303"/><stop offset=".25" stop-color="#030303"/><stop offset=".316" stop-color="#080808"/><stop offset=".366" stop-color="#050505"/><stop offset=".383" stop-color="#090909"/><stop offset=".403" stop-color="#181818"/><stop offset=".421" stop-color="#303030"/><stop offset=".438" stop-color="#535353"/><stop offset=".473" stop-color="#a2a2a2"/><stop offset=".487" stop-color="#bdbdbd"/><stop offset=".501" stop-color="#cfcfcf"/><stop offset=".516" stop-color="#d6d6d6"/><stop offset=".53" stop-color="#d0d0d0"/><stop offset=".545" stop-color="#bebebe"/><stop offset=".559" stop-color="#a4a4a4"/><stop offset=".594" stop-color="#555"/><stop offset=".611" stop-color="#323232"/><stop offset=".629" stop-color="#191919"/><stop offset=".649" stop-color="#090909"/><stop offset=".669" stop-color="#040404"/><stop offset=".736" stop-color="#030303"/><stop offset="1" stop-color="#030303"/></linearGradient>
<linearGradient id="a44" x2="0" y2="1"><stop offset="0" stop-color="#030303"/><stop offset=".244" stop-color="#030303"/><stop offset=".311" stop-color="#090909"/><stop offset=".36" stop-color="#050505"/><stop offset=".377" stop-color="#090909"/><stop offset=".395" stop-color="#151515"/><stop offset=".409" stop-color="#282828"/><stop offset=".429" stop-color="#4f4f4f"/><stop offset=".464" stop-color="#a2a2a2"/><stop offset=".478" stop-color="#c0c0c0"/><stop offset=".496" stop-color="#d9d9d9"/><stop offset=".51" stop-color="#e0e0e0"/><stop offset=".525" stop-color="#dadada"/><stop offset=".539" stop-color="#c8c8c8"/><stop offset=".553" stop-color="#adadad"/><stop offset=".591" stop-color="#535353"/><stop offset=".608" stop-color="#303030"/><stop offset=".626" stop-color="#171717"/><stop offset=".646" stop-color="#080808"/><stop offset=".712" stop-color="#030303"/><stop offset="1" stop-color="#030303"/></linearGradient>
<linearGradient id="a45" x2="0" y2="1"><stop offset="0" stop-color="#030303"/><stop offset=".238" stop-color="#030303"/><stop offset=".305" stop-color="#0a0a0a"/><stop offset=".354" stop-color="#060606"/><stop offset=".374" stop-color="#0a0a0a"/><stop offset=".395" stop-color="#1b1b1b"/><stop offset=".412" stop-color="#373737"/><stop offset=".429" stop-color="#5d5d5d"/><stop offset=".464" stop-color="#b4b4b4"/><stop offset=".478" stop-color="#d1d1d1"/><stop offset=".493" stop-color="#e4e4e4"/><stop offset=".507" stop-color="#ebebeb"/><stop offset=".519" stop-color="#e6e6e6"/><stop offset=".533" stop-color="#d4d4d4"/><stop offset=".551" stop-color="#b1b1b1"/><stop offset=".585" stop-color="#5a5a5a"/><stop offset=".603" stop-color="#353535"/><stop offset=".62" stop-color="#1a1a1a"/><stop offset=".64" stop-color="#090909"/><stop offset=".658" stop-color="#050505"/><stop offset=".701" stop-color="#030303"/><stop offset="1" stop-color="#030303"/></linearGradient>
<linearGradient id="a46" x2="0" y2="1"><stop offset="0" stop-color="#030303"/><stop offset=".233" stop-color="#030303"/><stop offset=".302" stop-color="#0b0b0b"/><stop offset=".351" stop-color="#060606"/><stop offset=".368" stop-color="#090909"/><stop offset=".386" stop-color="#161616"/><stop offset=".403" stop-color="#303030"/><stop offset=".421" stop-color="#555"/><stop offset=".455" stop-color="#b0b0b0"/><stop offset=".47" stop-color="#d1d1d1"/><stop offset=".487" stop-color="#ededed"/><stop offset=".501" stop-color="#f5f5f5"/><stop offset=".516" stop-color="#efefef"/><stop offset=".53" stop-color="#dcdcdc"/><stop offset=".545" stop-color="#bdbdbd"/><stop offset=".582" stop-color="#5c5c5c"/><stop offset=".6" stop-color="#353535"/><stop offset=".617" stop-color="#191919"/><stop offset=".637" stop-color="#090909"/><stop offset=".655" stop-color="#050505"/><stop offset=".701" stop-color="#030303"/><stop offset="1" stop-color="#030303"/></linearGradient>
<linearGradient id="a47" x2="0" y2="1"><stop offset="0" stop-color="#030303"/><stop offset=".236" stop-color="#030303"/><stop offset=".302" stop-color="#0c0c0c"/><stop offset=".348" stop-color="#060606"/><stop offset=".366" stop-color="#090909"/><stop offset=".383" stop-color="#171717"/><stop offset=".4" stop-color="#313131"/><stop offset=".418" stop-color="#585858"/><stop offset=".452" stop-color="#b5b5b5"/><stop offset=".467" stop-color="#d8d8d8"/><stop offset=".484" stop-color="#f4f4f4"/><stop offset=".499" stop-color="#fdfdfd"/><stop offset=".513" stop-color="#f7f7f7"/><stop offset=".527" stop-color="#e3e3e3"/><stop offset=".542" stop-color="#c3c3c3"/><stop offset=".579" stop-color="#5e5e5e"/><stop offset=".597" stop-color="#363636"/><stop offset=".614" stop-color="#1a1a1a"/><stop offset=".634" stop-color="#090909"/><stop offset=".652" stop-color="#050505"/><stop offset=".698" stop-color="#030303"/><stop offset="1" stop-color="#030303"/></linearGradient>
<linearGradient id="a48" x2="0" y2="1"><stop offset="0" stop-color="#030303"/><stop offset=".23" stop-color="#030303"/><stop offset=".296" stop-color="#0d0d0d"/><stop offset=".345" stop-color="#060606"/><stop offset=".366" stop-color="#0a0a0a"/><stop offset=".386" stop-color="#1e1e1e"/><stop offset=".403" stop-color="#3c3c3c"/><stop offset=".421" stop-color="#676767"/><stop offset=".455" stop-color="#c6c6c6"/><stop offset=".47" stop-color="#e6e6e6"/><stop offset=".487" stop-color="#fdfdfd"/><stop offset=".501" stop-color="#fff"/><stop offset=".513" stop-color="#f9f9f9"/><stop offset=".53" stop-color="#ddd"/><stop offset=".545" stop-color="#bababa"/><stop offset=".579" stop-color="#5a5a5a"/><stop offset=".597" stop-color="#333"/><stop offset=".614" stop-color="#181818"/><stop offset=".632" stop-color="#090909"/><stop offset=".649" stop-color="#050505"/><stop offset=".695" stop-color="#030303"/><stop offset="1" stop-color="#030303"/></linearGradient>
<linearGradient id="a49" x2="0" y2="1"><stop offset="0" stop-color="#030303"/><stop offset=".233" stop-color="#030303"/><stop offset=".296" stop-color="#0d0d0d"/><stop offset=".342" stop-color="#060606"/><stop offset=".363" stop-color="#0a0a0a"/><stop offset=".383" stop-color="#1c1c1c"/><stop offset=".4" stop-color="#3a3a3a"/><stop offset=".418" stop-color="#646464"/><stop offset=".455" stop-color="#cdcdcd"/><stop offset=".473" stop-color="#f1f1f1"/><stop offset=".484" stop-color="#fff"/><stop offset=".507" stop-color="#fff"/><stop offset=".519" stop-color="#f3f3f3"/><stop offset=".533" stop-color="#d6d6d6"/><stop offset=".577" stop-color="#5f5f5f"/><stop offset=".594" stop-color="#363636"/><stop offset=".611" stop-color="#1a1a1a"/><stop offset=".629" stop-color="#0a0a0a"/><stop offset=".646" stop-color="#050505"/><stop offset=".686" stop-color="#030303"/><stop offset="1" stop-color="#030303"/></linearGradient>
<linearGradient id="a50" x2="0" y2="1"><stop offset="0" stop-color="#030303"/><stop offset=".233" stop-color="#030303"/><stop offset=".296" stop-color="#0d0d0d"/><stop offset=".342" stop-color="#060606"/><stop offset=".363" stop-color="#0a0a0a"/><stop offset=".383" stop-color="#1e1e1e"/><stop offset=".4" stop-color="#3c3c3c"/><stop offset=".418" stop-color="#676767"/><stop offset=".452" stop-color="#c9c9c9"/><stop offset=".47" stop-color="#efefef"/><stop offset=".481" stop-color="#fff"/><stop offset=".507" stop-color="#fff"/><stop offset=".516" stop-color="#f7f7f7"/><stop offset=".53" stop-color="#dcdcdc"/><stop offset=".545" stop-color="#b7b7b7"/><stop offset=".577" stop-color="#5d5d5d"/><stop offset=".594" stop-color="#353535"/><stop offset=".611" stop-color="#191919"/><stop offset=".629" stop-color="#0a0a0a"/><stop offset=".646" stop-color="#050505"/><stop offset=".689" stop-color="#030303"/><stop offset="1" stop-color="#030303"/></linearGradient>
<linearGradient id="a51" x2="0" y2="1"><stop offset="0" stop-color="#030303"/><stop offset=".233" stop-color="#030303"/><stop offset=".296" stop-color="#0d0d0d"/><stop offset=".342" stop-color="#060606"/><stop offset=".363" stop-color="#0a0a0a"/><stop offset=".383" stop-color="#1d1d1d"/><stop offset=".4" stop-color="#3c3c3c"/><stop offset=".418" stop-color="#676767"/><stop offset=".452" stop-color="#c8c8c8"/><stop offset=".47" stop-color="#eee"/><stop offset=".481" stop-color="#fefefe"/><stop offset=".507" stop-color="#fff"/><stop offset=".519" stop-color="#f2f2f2"/><stop offset=".533" stop-color="#d5d5d5"/><stop offset=".577" stop-color="#5d5d5d"/><stop offset=".594" stop-color="#353535"/><stop offset=".611" stop-color="#191919"/><stop offset=".629" stop-color="#0a0a0a"/><stop offset=".646" stop-color="#050505"/><stop offset=".689" stop-color="#030303"/><stop offset="1" stop-color="#030303"/></linearGradient>
<linearGradient id="a52" x2="0" y2="1"><stop offset="0" stop-color="#030303"/><stop offset=".233" stop-color="#030303"/><stop offset=".296" stop-color="#0d0d0d"/><stop offset=".342" stop-color="#060606"/><stop offset=".363" stop-color="#0a0a0a"/><stop offset=".383" stop-color="#1c1c1c"/><stop offset=".4" stop-color="#3a3a3a"/><stop offset=".418" stop-color="#646464"/><stop offset=".452" stop-color="#c4c4c4"/><stop offset=".47" stop-color="#eaeaea"/><stop offset=".484" stop-color="#fdfdfd"/><stop offset=".501" stop-color="#fff"/><stop offset=".513" stop-color="#f8f8f8"/><stop offset=".53" stop-color="#dadada"/><stop offset=".545" stop-color="#b6b6b6"/><stop offset=".579" stop-color="#565656"/><stop offset=".597" stop-color="#303030"/><stop offset=".611" stop-color="#191919"/><stop offset=".629" stop-color="#0a0a0a"/><stop offset=".646" stop-color="#050505"/><stop offset=".689" stop-color="#030303"/><stop offset="1" stop-color="#030303"/></linearGradient>
<linearGradient id="a53" x2="0" y2="1"><stop offset="0" stop-color="#030303"/><stop offset=".23" stop-color="#030303"/><stop offset=".296" stop-color="#0c0c0c"/><stop offset=".345" stop-color="#060606"/><stop offset=".366" stop-color="#0a0a0a"/><stop offset=".386" stop-color="#1e1e1e"/><stop offset=".403" stop-color="#3c3c3c"/><stop offset=".421" stop-color="#666"/><stop offset=".452" stop-color="#bcbcbc"/><stop offset=".47" stop-color="#e3e3e3"/><stop offset=".484" stop-color="#f7f7f7"/><stop offset=".499" stop-color="#fdfdfd"/><stop offset=".513" stop-color="#f4f4f4"/><stop offset=".53" stop-color="#d8d8d8"/><stop offset=".545" stop-color="#b6b6b6"/><stop offset=".579" stop-color="#585858"/><stop offset=".597" stop-color="#313131"/><stop offset=".614" stop-color="#171717"/><stop offset=".632" stop-color="#090909"/><stop offset=".649" stop-color="#050505"/><stop offset=".695" stop-color="#030303"/><stop offset="1" stop-color="#030303"/></linearGradient>
<linearGradient id="a54" x2="0" y2="1"><stop offset="0" stop-color="#030303"/><stop offset=".23" stop-color="#030303"/><stop offset=".299" stop-color="#0b0b0b"/><stop offset=".348" stop-color="#060606"/><stop offset=".366" stop-color="#090909"/><stop offset=".383" stop-color="#161616"/><stop offset=".397" stop-color="#2b2b2b"/><stop offset=".418" stop-color="#555"/><stop offset=".452" stop-color="#afafaf"/><stop offset=".467" stop-color="#d0d0d0"/><stop offset=".484" stop-color="#ebebeb"/><stop offset=".499" stop-color="#f4f4f4"/><stop offset=".513" stop-color="#eee"/><stop offset=".527" stop-color="#dadada"/><stop offset=".542" stop-color="#bcbcbc"/><stop offset=".579" stop-color="#5a5a5a"/><stop offset=".597" stop-color="#343434"/><stop offset=".614" stop-color="#191919"/><stop offset=".634" stop-color="#080808"/><stop offset=".701" stop-color="#030303"/><stop offset="1" stop-color="#030303"/></linearGradient>
<linearGradient id="a55" x2="0" y2="1"><stop offset="0" stop-color="#030303"/><stop offset=".238" stop-color="#030303"/><stop offset=".302" stop-color="#0a0a0a"/><stop offset=".351" stop-color="#050505"/><stop offset=".371" stop-color="#0a0a0a"/><stop offset=".392" stop-color="#1b1b1b"/><stop offset=".409" stop-color="#363636"/><stop offset=".426" stop-color="#5c5c5c"/><stop offset=".461" stop-color="#b1b1b1"/><stop offset=".475" stop-color="#cdcdcd"/><stop offset=".49" stop-color="#dfdfdf"/><stop offset=".504" stop-color="#e5e5e5"/><stop offset=".519" stop-color="#ddd"/><stop offset=".536" stop-color="#c4c4c4"/><stop offset=".551" stop-color="#a5a5a5"/><stop offset=".585" stop-color="#505050"/><stop offset=".605" stop-color="#292929"/><stop offset=".62" stop-color="#151515"/><stop offset=".637" stop-color="#090909"/><stop offset=".655" stop-color="#050505"/><stop offset=".712" stop-color="#030303"/><stop offset="1" stop-color="#030303"/></linearGradient>
<linearGradient id="a56" x2="0" y2="1"><stop offset="0" stop-color="#030303"/><stop offset=".241" stop-color="#030303"/><stop offset=".374" stop-color="#080808"/><stop offset=".392" stop-color="#141414"/><stop offset=".406" stop-color="#252525"/><stop offset=".426" stop-color="#4a4a4a"/><stop offset=".461" stop-color="#979797"/><stop offset=".475" stop-color="#b3b3b3"/><stop offset=".493" stop-color="#cacaca"/><stop offset=".507" stop-color="#d1d1d1"/><stop offset=".522" stop-color="#ccc"/><stop offset=".536" stop-color="#bbb"/><stop offset=".551" stop-color="#a1a1a1"/><stop offset=".585" stop-color="#545454"/><stop offset=".603" stop-color="#323232"/><stop offset=".62" stop-color="#191919"/><stop offset=".64" stop-color="#090909"/><stop offset=".658" stop-color="#050505"/><stop offset=".738" stop-color="#030303"/><stop offset="1" stop-color="#030303"/></linearGradient>
<linearGradient id="a57" x2="0" y2="1"><stop offset="0" stop-color="#030303"/><stop offset=".25" stop-color="#030303"/><stop offset=".38" stop-color="#070707"/><stop offset=".4" stop-color="#141414"/><stop offset=".418" stop-color="#292929"/><stop offset=".435" stop-color="#464646"/><stop offset=".473" stop-color="#919191"/><stop offset=".487" stop-color="#a8a8a8"/><stop offset=".501" stop-color="#b7b7b7"/><stop offset=".516" stop-color="#bcbcbc"/><stop offset=".527" stop-color="#b8b8b8"/><stop offset=".542" stop-color="#aaa"/><stop offset=".559" stop-color="#8e8e8e"/><stop offset=".594" stop-color="#484848"/><stop offset=".611" stop-color="#2a2a2a"/><stop offset=".629" stop-color="#151515"/><stop offset=".649" stop-color="#080808"/><stop offset=".753" stop-color="#030303"/><stop offset="1" stop-color="#030303"/></linearGradient>
<linearGradient id="a58" x2="0" y2="1"><stop offset="0" stop-color="#030303"/><stop offset=".264" stop-color="#030303"/><stop offset=".389" stop-color="#070707"/><stop offset=".409" stop-color="#131313"/><stop offset=".426" stop-color="#262626"/><stop offset=".444" stop-color="#414141"/><stop offset=".481" stop-color="#858585"/><stop offset=".496" stop-color="#9b9b9b"/><stop offset=".51" stop-color="#a9a9a9"/><stop offset=".525" stop-color="#adadad"/><stop offset=".539" stop-color="#a8a8a8"/><stop offset=".553" stop-color="#999"/><stop offset=".568" stop-color="#838383"/><stop offset=".617" stop-color="#2b2b2b"/><stop offset=".637" stop-color="#141414"/><stop offset=".655" stop-color="#090909"/><stop offset=".762" stop-color="#030303"/><stop offset="1" stop-color="#030303"/></linearGradient>
<linearGradient id="a59" x2="0" y2="1"><stop offset="0" stop-color="#030303"/><stop offset=".279" stop-color="#030303"/><stop offset=".4" stop-color="#070707"/><stop offset=".418" stop-color="#101010"/><stop offset=".435" stop-color="#212121"/><stop offset=".452" stop-color="#3a3a3a"/><stop offset=".501" stop-color="#8b8b8b"/><stop offset=".519" stop-color="#9d9d9d"/><stop offset=".533" stop-color="#a3a3a3"/><stop offset=".548" stop-color="#9f9f9f"/><stop offset=".562" stop-color="#929292"/><stop offset=".579" stop-color="#797979"/><stop offset=".629" stop-color="#282828"/><stop offset=".649" stop-color="#121212"/><stop offset=".666" stop-color="#080808"/><stop offset=".773" stop-color="#030303"/><stop offset="1" stop-color="#030303"/></linearGradient>
<linearGradient id="a60" x2="0" y2="1"><stop offset="0" stop-color="#030303"/><stop offset=".296" stop-color="#030303"/><stop offset=".412" stop-color="#070707"/><stop offset=".429" stop-color="#0e0e0e"/><stop offset=".447" stop-color="#1d1d1d"/><stop offset=".467" stop-color="#383838"/><stop offset=".516" stop-color="#858585"/><stop offset=".533" stop-color="#969696"/><stop offset=".548" stop-color="#9b9b9b"/><stop offset=".562" stop-color="#979797"/><stop offset=".577" stop-color="#8a8a8a"/><stop offset=".591" stop-color="#777"/><stop offset=".643" stop-color="#252525"/><stop offset=".66" stop-color="#131313"/><stop offset=".678" stop-color="#090909"/><stop offset=".788" stop-color="#030303"/><stop offset="1" stop-color="#030303"/></linearGradient>
<linearGradient id="a61" x2="0" y2="1"><stop offset="0" stop-color="#030303"/><stop offset=".325" stop-color="#030303"/><stop offset=".429" stop-color="#070707"/><stop offset=".449" stop-color="#111"/><stop offset=".47" stop-color="#242424"/><stop offset=".522" stop-color="#737373"/><stop offset=".536" stop-color="#858585"/><stop offset=".551" stop-color="#919191"/><stop offset=".565" stop-color="#959595"/><stop offset=".579" stop-color="#909090"/><stop offset=".594" stop-color="#838383"/><stop offset=".655" stop-color="#2a2a2a"/><stop offset=".672" stop-color="#181818"/><stop offset=".689" stop-color="#0d0d0d"/><stop offset=".796" stop-color="#030303"/><stop offset="1" stop-color="#030303"/></linearGradient>
<linearGradient id="a62" x2="0" y2="1"><stop offset="0" stop-color="#030303"/><stop offset=".357" stop-color="#030303"/><stop offset=".444" stop-color="#060606"/><stop offset=".461" stop-color="#0d0d0d"/><stop offset=".478" stop-color="#1a1a1a"/><stop offset=".499" stop-color="#323232"/><stop offset=".548" stop-color="#7a7a7a"/><stop offset=".565" stop-color="#8a8a8a"/><stop offset=".579" stop-color="#8f8f8f"/><stop offset=".594" stop-color="#8c8c8c"/><stop offset=".608" stop-color="#808080"/><stop offset=".655" stop-color="#454545"/><stop offset=".678" stop-color="#2e2e2e"/><stop offset=".704" stop-color="#1e1e1e"/><stop offset=".738" stop-color="#111"/><stop offset=".77" stop-color="#080808"/><stop offset=".805" stop-color="#040404"/><stop offset="1" stop-color="#030303"/></linearGradient>
<linearGradient id="a63" x2="0" y2="1"><stop offset="0" stop-color="#030303"/><stop offset=".386" stop-color="#030303"/><stop offset=".461" stop-color="#060606"/><stop offset=".481" stop-color="#0e0e0e"/><stop offset=".501" stop-color="#1f1f1f"/><stop offset=".519" stop-color="#333"/><stop offset=".556" stop-color="#686868"/><stop offset=".574" stop-color="#7c7c7c"/><stop offset=".588" stop-color="#868686"/><stop offset=".605" stop-color="#8b8b8b"/><stop offset=".632" stop-color="#858585"/><stop offset=".66" stop-color="#717171"/><stop offset=".681" stop-color="#5b5b5b"/><stop offset=".724" stop-color="#202020"/><stop offset=".736" stop-color="#141414"/><stop offset=".75" stop-color="#0c0c0c"/><stop offset=".831" stop-color="#030303"/><stop offset="1" stop-color="#030303"/></linearGradient>
<linearGradient id="a64" x2="0" y2="1"><stop offset="0" stop-color="#040404"/><stop offset=".409" stop-color="#050505"/><stop offset=".484" stop-color="#090909"/><stop offset=".504" stop-color="#121212"/><stop offset=".525" stop-color="#242424"/><stop offset=".548" stop-color="#434343"/><stop offset=".603" stop-color="#9b9b9b"/><stop offset=".62" stop-color="#adadad"/><stop offset=".634" stop-color="#b3b3b3"/><stop offset=".649" stop-color="#aeaeae"/><stop offset=".663" stop-color="#9f9f9f"/><stop offset=".678" stop-color="#858585"/><stop offset=".718" stop-color="#2d2d2d"/><stop offset=".733" stop-color="#171717"/><stop offset=".747" stop-color="#0c0c0c"/><stop offset=".842" stop-color="#030303"/><stop offset="1" stop-color="#030303"/></linearGradient>
<linearGradient id="a65" x2="0" y2="1"><stop offset="0" stop-color="#060606"/><stop offset=".444" stop-color="#070707"/><stop offset=".49" stop-color="#0b0b0b"/><stop offset=".51" stop-color="#151515"/><stop offset=".53" stop-color="#2a2a2a"/><stop offset=".551" stop-color="#4b4b4b"/><stop offset=".6" stop-color="#acacac"/><stop offset=".617" stop-color="#c1c1c1"/><stop offset=".632" stop-color="#c7c7c7"/><stop offset=".646" stop-color="#c0c0c0"/><stop offset=".66" stop-color="#adadad"/><stop offset=".675" stop-color="#909090"/><stop offset=".698" stop-color="#585858"/><stop offset=".715" stop-color="#343434"/><stop offset=".733" stop-color="#191919"/><stop offset=".747" stop-color="#0c0c0c"/><stop offset=".762" stop-color="#080808"/><stop offset=".799" stop-color="#080808"/><stop offset=".848" stop-color="#030303"/><stop offset="1" stop-color="#030303"/></linearGradient>
<linearGradient id="a66" x2="0" y2="1"><stop offset="0" stop-color="#040404"/><stop offset=".34" stop-color="#040404"/><stop offset=".473" stop-color="#090909"/><stop offset=".493" stop-color="#131313"/><stop offset=".513" stop-color="#272727"/><stop offset=".533" stop-color="#454545"/><stop offset=".571" stop-color="#898989"/><stop offset=".588" stop-color="#a5a5a5"/><stop offset=".605" stop-color="#b7b7b7"/><stop offset=".62" stop-color="#bdbdbd"/><stop offset=".634" stop-color="#b8b8b8"/><stop offset=".652" stop-color="#a6a6a6"/><stop offset=".669" stop-color="#888"/><stop offset=".712" stop-color="#313131"/><stop offset=".73" stop-color="#191919"/><stop offset=".747" stop-color="#0b0b0b"/><stop offset=".764" stop-color="#060606"/><stop offset=".851" stop-color="#030303"/><stop offset="1" stop-color="#030303"/></linearGradient>
<linearGradient id="a67" x2="0" y2="1"><stop offset="0" stop-color="#030303"/><stop offset=".325" stop-color="#030303"/><stop offset=".458" stop-color="#070707"/><stop offset=".478" stop-color="#111"/><stop offset=".496" stop-color="#232323"/><stop offset=".516" stop-color="#404040"/><stop offset=".553" stop-color="#858585"/><stop offset=".571" stop-color="#a0a0a0"/><stop offset=".588" stop-color="#b3b3b3"/><stop offset=".605" stop-color="#bababa"/><stop offset=".62" stop-color="#b5b5b5"/><stop offset=".637" stop-color="#a4a4a4"/><stop offset=".655" stop-color="#8a8a8a"/><stop offset=".689" stop-color="#494949"/><stop offset=".707" stop-color="#2c2c2c"/><stop offset=".724" stop-color="#171717"/><stop offset=".741" stop-color="#0a0a0a"/><stop offset=".764" stop-color="#050505"/><stop offset="1" stop-color="#030303"/></linearGradient>
<linearGradient id="a68" x2="0" y2="1"><stop offset="0" stop-color="#030303"/><stop offset=".314" stop-color="#030303"/><stop offset=".449" stop-color="#070707"/><stop offset=".47" stop-color="#131313"/><stop offset=".49" stop-color="#2a2a2a"/><stop offset=".507" stop-color="#464646"/><stop offset=".548" stop-color="#919191"/><stop offset=".565" stop-color="#acacac"/><stop offset=".579" stop-color="#b9b9b9"/><stop offset=".594" stop-color="#bebebe"/><stop offset=".608" stop-color="#b9b9b9"/><stop offset=".626" stop-color="#a8a8a8"/><stop offset=".643" stop-color="#8c8c8c"/><stop offset=".678" stop-color="#4b4b4b"/><stop offset=".695" stop-color="#2e2e2e"/><stop offset=".715" stop-color="#161616"/><stop offset=".733" stop-color="#0a0a0a"/><stop offset=".756" stop-color="#050505"/><stop offset="1" stop-color="#030303"/></linearGradient>
<linearGradient id="a69" x2="0" y2="1"><stop offset="0" stop-color="#030303"/><stop offset=".302" stop-color="#030303"/><stop offset=".438" stop-color="#070707"/><stop offset=".455" stop-color="#111"/><stop offset=".473" stop-color="#222"/><stop offset=".493" stop-color="#414141"/><stop offset=".533" stop-color="#8d8d8d"/><stop offset=".548" stop-color="#a5a5a5"/><stop offset=".565" stop-color="#b9b9b9"/><stop offset=".582" stop-color="#c0c0c0"/><stop offset=".597" stop-color="#bcbcbc"/><stop offset=".614" stop-color="#aaa"/><stop offset=".632" stop-color="#8f8f8f"/><stop offset=".666" stop-color="#4c4c4c"/><stop offset=".684" stop-color="#2f2f2f"/><stop offset=".704" stop-color="#161616"/><stop offset=".721" stop-color="#0a0a0a"/><stop offset=".744" stop-color="#050505"/><stop offset="1" stop-color="#030303"/></linearGradient>
<linearGradient id="a70" x2="0" y2="1"><stop offset="0" stop-color="#030303"/><stop offset=".29" stop-color="#030303"/><stop offset=".426" stop-color="#070707"/><stop offset=".447" stop-color="#131313"/><stop offset=".464" stop-color="#252525"/><stop offset=".484" stop-color="#454545"/><stop offset=".522" stop-color="#8d8d8d"/><stop offset=".536" stop-color="#a6a6a6"/><stop offset=".553" stop-color="#bababa"/><stop offset=".571" stop-color="#c1c1c1"/><stop offset=".585" stop-color="#bdbdbd"/><stop offset=".603" stop-color="#ababab"/><stop offset=".62" stop-color="#8f8f8f"/><stop offset=".655" stop-color="#4d4d4d"/><stop offset=".672" stop-color="#2f2f2f"/><stop offset=".692" stop-color="#161616"/><stop offset=".71" stop-color="#0a0a0a"/><stop offset=".736" stop-color="#050505"/><stop offset="1" stop-color="#030303"/></linearGradient>
<linearGradient id="a71" x2="0" y2="1"><stop offset="0" stop-color="#030303"/><stop offset=".285" stop-color="#030303"/><stop offset=".418" stop-color="#080808"/><stop offset=".438" stop-color="#141414"/><stop offset=".458" stop-color="#2c2c2c"/><stop offset=".475" stop-color="#494949"/><stop offset=".513" stop-color="#929292"/><stop offset=".53" stop-color="#aeaeae"/><stop offset=".545" stop-color="#bdbdbd"/><stop offset=".559" stop-color="#c2c2c2"/><stop offset=".574" stop-color="#bebebe"/><stop offset=".591" stop-color="#acacac"/><stop offset=".605" stop-color="#959595"/><stop offset=".643" stop-color="#4c4c4c"/><stop offset=".66" stop-color="#2f2f2f"/><stop offset=".678" stop-color="#191919"/><stop offset=".698" stop-color="#0a0a0a"/><stop offset=".718" stop-color="#050505"/><stop offset=".799" stop-color="#030303"/><stop offset="1" stop-color="#030303"/></linearGradient>
<linearGradient id="a72" x2="0" y2="1"><stop offset="0" stop-color="#030303"/><stop offset=".276" stop-color="#030303"/><stop offset=".409" stop-color="#080808"/><stop offset=".429" stop-color="#151515"/><stop offset=".449" stop-color="#2e2e2e"/><stop offset=".467" stop-color="#4c4c4c"/><stop offset=".501" stop-color="#919191"/><stop offset=".519" stop-color="#aeaeae"/><stop offset=".533" stop-color="#bdbdbd"/><stop offset=".548" stop-color="#c3c3c3"/><stop offset=".562" stop-color="#bfbfbf"/><stop offset=".577" stop-color="#b0b0b0"/><stop offset=".594" stop-color="#959595"/><stop offset=".632" stop-color="#4b4b4b"/><stop offset=".649" stop-color="#2d2d2d"/><stop offset=".666" stop-color="#181818"/><stop offset=".686" stop-color="#090909"/><stop offset=".707" stop-color="#050505"/><stop offset=".788" stop-color="#030303"/><stop offset="1" stop-color="#030303"/></linearGradient>
<linearGradient id="a73" x2="0" y2="1"><stop offset="0" stop-color="#030303"/><stop offset=".27" stop-color="#030303"/><stop offset=".4" stop-color="#080808"/><stop offset=".421" stop-color="#151515"/><stop offset=".441" stop-color="#2e2e2e"/><stop offset=".458" stop-color="#4e4e4e"/><stop offset=".493" stop-color="#959595"/><stop offset=".51" stop-color="#b1b1b1"/><stop offset=".525" stop-color="#c0c0c0"/><stop offset=".539" stop-color="#c5c5c5"/><stop offset=".553" stop-color="#bfbfbf"/><stop offset=".568" stop-color="#aeaeae"/><stop offset=".582" stop-color="#969696"/><stop offset=".617" stop-color="#4f4f4f"/><stop offset=".634" stop-color="#303030"/><stop offset=".652" stop-color="#191919"/><stop offset=".672" stop-color="#0a0a0a"/><stop offset=".692" stop-color="#050505"/><stop offset=".77" stop-color="#030303"/><stop offset="1" stop-color="#030303"/></linearGradient>
<linearGradient id="a74" x2="0" y2="1"><stop offset="0" stop-color="#030303"/><stop offset=".264" stop-color="#030303"/><stop offset=".328" stop-color="#070707"/><stop offset=".377" stop-color="#050505"/><stop offset=".395" stop-color="#080808"/><stop offset=".415" stop-color="#171717"/><stop offset=".432" stop-color="#2e2e2e"/><stop offset=".449" stop-color="#4d4d4d"/><stop offset=".484" stop-color="#979797"/><stop offset=".501" stop-color="#b5b5b5"/><stop offset=".516" stop-color="#c4c4c4"/><stop offset=".527" stop-color="#c8c8c8"/><stop offset=".542" stop-color="#c3c3c3"/><stop offset=".556" stop-color="#b4b4b4"/><stop offset=".571" stop-color="#9b9b9b"/><stop offset=".608" stop-color="#4d4d4d"/><stop offset=".626" stop-color="#2d2d2d"/><stop offset=".643" stop-color="#171717"/><stop offset=".663" stop-color="#090909"/><stop offset=".762" stop-color="#030303"/><stop offset="1" stop-color="#030303"/></linearGradient>
<linearGradient id="a75" x2="0" y2="1"><stop offset="0" stop-color="#030303"/><stop offset=".256" stop-color="#030303"/><stop offset=".386" stop-color="#080808"/><stop offset=".406" stop-color="#151515"/><stop offset=".426" stop-color="#313131"/><stop offset=".444" stop-color="#525252"/><stop offset=".478" stop-color="#9e9e9e"/><stop offset=".493" stop-color="#b8b8b8"/><stop offset=".507" stop-color="#c9c9c9"/><stop offset=".522" stop-color="#cecece"/><stop offset=".536" stop-color="#c8c8c8"/><stop offset=".551" stop-color="#b7b7b7"/><stop offset=".565" stop-color="#9c9c9c"/><stop offset=".6" stop-color="#505050"/><stop offset=".617" stop-color="#2f2f2f"/><stop offset=".634" stop-color="#171717"/><stop offset=".655" stop-color="#090909"/><stop offset=".672" stop-color="#050505"/><stop offset=".75" stop-color="#030303"/><stop offset="1" stop-color="#030303"/></linearGradient>
<linearGradient id="a76" x2="0" y2="1"><stop offset="0" stop-color="#030303"/><stop offset=".25" stop-color="#030303"/><stop offset=".316" stop-color="#080808"/><stop offset=".366" stop-color="#050505"/><stop offset=".383" stop-color="#090909"/><stop offset=".403" stop-color="#191919"/><stop offset=".421" stop-color="#333"/><stop offset=".438" stop-color="#565656"/><stop offset=".473" stop-color="#a5a5a5"/><stop offset=".487" stop-color="#c0c0c0"/><stop offset=".501" stop-color="#d2d2d2"/><stop offset=".516" stop-color="#d8d8d8"/><stop offset=".527" stop-color="#d3d3d3"/><stop offset=".542" stop-color="#c3c3c3"/><stop offset=".559" stop-color="#a3a3a3"/><stop offset=".594" stop-color="#535353"/><stop offset=".611" stop-color="#313131"/><stop offset=".629" stop-color="#181818"/><stop offset=".649" stop-color="#080808"/><stop offset=".666" stop-color="#050505"/><stop offset=".733" stop-color="#030303"/><stop offset="1" stop-color="#030303"/></linearGradient>
<linearGradient id="a77" x2="0" y2="1"><stop offset="0" stop-color="#030303"/><stop offset=".244" stop-color="#030303"/><stop offset=".308" stop-color="#090909"/><stop offset=".36" stop-color="#050505"/><stop offset=".377" stop-color="#090909"/><stop offset=".397" stop-color="#191919"/><stop offset=".415" stop-color="#343434"/><stop offset=".432" stop-color="#585858"/><stop offset=".467" stop-color="#acacac"/><stop offset=".481" stop-color="#c8c8c8"/><stop offset=".496" stop-color="#dbdbdb"/><stop offset=".51" stop-color="#e2e2e2"/><stop offset=".525" stop-color="#dcdcdc"/><stop offset=".539" stop-color="#c9c9c9"/><stop offset=".553" stop-color="#acacac"/><stop offset=".588" stop-color="#595959"/><stop offset=".605" stop-color="#343434"/><stop offset=".623" stop-color="#1a1a1a"/><stop offset=".643" stop-color="#090909"/><stop offset=".66" stop-color="#050505"/><stop offset=".701" stop-color="#030303"/><stop offset="1" stop-color="#030303"/></linearGradient>
<linearGradient id="a78" x2="0" y2="1"><stop offset="0" stop-color="#030303"/><stop offset=".238" stop-color="#030303"/><stop offset=".305" stop-color="#0a0a0a"/><stop offset=".354" stop-color="#060606"/><stop offset=".371" stop-color="#090909"/><stop offset=".389" stop-color="#161616"/><stop offset=".406" stop-color="#2e2e2e"/><stop offset=".423" stop-color="#525252"/><stop offset=".458" stop-color="#aaa"/><stop offset=".473" stop-color="#cacaca"/><stop offset=".49" stop-color="#e5e5e5"/><stop offset=".504" stop-color="#ededed"/><stop offset=".519" stop-color="#e7e7e7"/><stop offset=".533" stop-color="#d5d5d5"/><stop offset=".548" stop-color="#b8b8b8"/><stop offset=".585" stop-color="#595959"/><stop offset=".603" stop-color="#333"/><stop offset=".62" stop-color="#191919"/><stop offset=".64" stop-color="#090909"/><stop offset=".704" stop-color="#030303"/><stop offset="1" stop-color="#030303"/></linearGradient>
<linearGradient id="a79" x2="0" y2="1"><stop offset="0" stop-color="#030303"/><stop offset=".233" stop-color="#030303"/><stop offset=".302" stop-color="#0b0b0b"/><stop offset=".351" stop-color="#060606"/><stop offset=".368" stop-color="#090909"/><stop offset=".389" stop-color="#1b1b1b"/><stop offset=".406" stop-color="#373737"/><stop offset=".423" stop-color="#5f5f5f"/><stop offset=".458" stop-color="#bababa"/><stop offset=".475" stop-color="#dfdfdf"/><stop offset=".49" stop-color="#f2f2f2"/><stop offset=".501" stop-color="#f7f7f7"/><stop offset=".516" stop-color="#f0f0f0"/><stop offset=".53" stop-color="#dcdcdc"/><stop offset=".545" stop-color="#bdbdbd"/><stop offset=".579" stop-color="#626262"/><stop offset=".597" stop-color="#3a3a3a"/><stop offset=".614" stop-color="#1c1c1c"/><stop offset=".634" stop-color="#0a0a0a"/><stop offset=".652" stop-color="#050505"/><stop offset=".692" stop-color="#030303"/><stop offset="1" stop-color="#030303"/></linearGradient>
<linearGradient id="a80" x2="0" y2="1"><stop offset="0" stop-color="#030303"/><stop offset=".236" stop-color="#030303"/><stop offset=".302" stop-color="#0c0c0c"/><stop offset=".348" stop-color="#060606"/><stop offset=".366" stop-color="#090909"/><stop offset=".386" stop-color="#1b1b1b"/><stop offset=".403" stop-color="#383838"/><stop offset=".421" stop-color="#616161"/><stop offset=".455" stop-color="#bfbfbf"/><stop offset=".473" stop-color="#e5e5e5"/><stop offset=".487" stop-color="#f9f9f9"/><stop offset=".499" stop-color="#fefefe"/><stop offset=".513" stop-color="#f7f7f7"/><stop offset=".527" stop-color="#e3e3e3"/><stop offset=".542" stop-color="#c3c3c3"/><stop offset=".579" stop-color="#5d5d5d"/><stop offset=".597" stop-color="#363636"/><stop offset=".614" stop-color="#191919"/><stop offset=".634" stop-color="#090909"/><stop offset=".652" stop-color="#050505"/><stop offset=".701" stop-color="#030303"/><stop offset="1" stop-color="#030303"/></linearGradient>
<linearGradient id="a81" x2="0" y2="1"><stop offset="0" stop-color="#030303"/><stop offset=".236" stop-color="#030303"/><stop offset=".299" stop-color="#0d0d0d"/><stop offset=".345" stop-color="#060606"/><stop offset=".363" stop-color="#090909"/><stop offset=".383" stop-color="#1b1b1b"/><stop offset=".4" stop-color="#373737"/><stop offset=".418" stop-color="#606060"/><stop offset=".455" stop-color="#c8c8c8"/><stop offset=".473" stop-color="#ededed"/><stop offset=".487" stop-color="#fefefe"/><stop offset=".504" stop-color="#fff"/><stop offset=".516" stop-color="#f6f6f6"/><stop offset=".533" stop-color="#d6d6d6"/><stop offset=".579" stop-color="#5a5a5a"/><stop offset=".597" stop-color="#323232"/><stop offset=".614" stop-color="#171717"/><stop offset=".632" stop-color="#090909"/><stop offset=".649" stop-color="#050505"/><stop offset=".695" stop-color="#030303"/><stop offset="1" stop-color="#030303"/></linearGradient>
<linearGradient id="a82" x2="0" y2="1"><stop offset="0" stop-color="#030303"/><stop offset=".233" stop-color="#030303"/><stop offset=".296" stop-color="#0d0d0d"/><stop offset=".342" stop-color="#060606"/><stop offset=".363" stop-color="#0a0a0a"/><stop offset=".383" stop-color="#1d1d1d"/><stop offset=".4" stop-color="#3b3b3b"/><stop offset=".418" stop-color="#656565"/><stop offset=".455" stop-color="#cecece"/><stop offset=".473" stop-color="#f2f2f2"/><stop offset=".484" stop-color="#fff"/><stop offset=".507" stop-color="#fff"/><stop offset=".519" stop-color="#f3f3f3"/><stop offset=".533" stop-color="#d6d6d6"/><stop offset=".577" stop-color="#5e5e5e"/><stop offset=".594" stop-color="#363636"/><stop offset=".611" stop-color="#191919"/><stop offset=".629" stop-color="#0a0a0a"/><stop offset=".646" stop-color="#050505"/><stop offset=".689" stop-color="#030303"/><stop offset="1" stop-color="#030303"/></linearGradient>
<linearGradient id="a83" x2="0" y2="1"><stop offset="0" stop-color="#030303"/><stop offset=".233" stop-color="#030303"/><stop offset=".296" stop-color="#0d0d0d"/><stop offset=".342" stop-color="#060606"/><stop offset=".363" stop-color="#0a0a0a"/><stop offset=".383" stop-color="#1e1e1e"/><stop offset=".4" stop-color="#3d3d3d"/><stop offset=".418" stop-color="#676767"/><stop offset=".452" stop-color="#c9c9c9"/><stop offset=".47" stop-color="#efefef"/><stop offset=".481" stop-color="#fff"/><stop offset=".507" stop-color="#fff"/><stop offset=".516" stop-color="#f7f7f7"/><stop offset=".53" stop-color="#dcdcdc"/><stop offset=".545" stop-color="#b7b7b7"/><stop offset=".577" stop-color="#5d5d5d"/><stop offset=".594" stop-color="#353535"/><stop offset=".611" stop-color="#191919"/><stop offset=".629" stop-color="#0a0a0a"/><stop offset=".646" stop-color="#050505"/><stop offset=".689" stop-color="#030303"/><stop offset="1" stop-color="#030303"/></linearGradient>
<linearGradient id="a84" x2="0" y2="1"><stop offset="0" stop-color="#030303"/><stop offset=".233" stop-color="#030303"/><stop offset=".296" stop-color="#0d0d0d"/><stop offset=".342" stop-color="#060606"/><stop offset=".363" stop-color="#0a0a0a"/><stop offset=".383" stop-color="#1d1d1d"/><stop offset=".4" stop-color="#3c3c3c"/><stop offset=".418" stop-color="#666"/><stop offset=".452" stop-color="#c7c7c7"/><stop offset=".47" stop-color="#ededed"/><stop offset=".481" stop-color="#fefefe"/><stop offset=".507" stop-color="#fff"/><stop offset=".519" stop-color="#f2f2f2"/><stop offset=".533" stop-color="#d4d4d4"/><stop offset=".577" stop-color="#5d5d5d"/><stop offset=".594" stop-color="#353535"/><stop offset=".611" stop-color="#191919"/><stop offset=".629" stop-color="#0a0a0a"/><stop offset=".646" stop-color="#050505"/><stop offset=".689" stop-color="#030303"/><stop offset="1" stop-color="#030303"/></linearGradient>
<linearGradient id="a85" x2="0" y2="1"><stop offset="0" stop-color="#030303"/><stop offset=".233" stop-color="#030303"/><stop offset=".299" stop-color="#0d0d0d"/><stop offset=".342" stop-color="#060606"/><stop offset=".363" stop-color="#0a0a0a"/><stop offset=".383" stop-color="#1c1c1c"/><stop offset=".4" stop-color="#393939"/><stop offset=".418" stop-color="#636363"/><stop offset=".452" stop-color="#c2c2c2"/><stop offset=".47" stop-color="#e9e9e9"/><stop offset=".484" stop-color="#fcfcfc"/><stop offset=".499" stop-color="#fff"/><stop offset=".51" stop-color="#fbfbfb"/><stop offset=".525" stop-color="#e5e5e5"/><stop offset=".539" stop-color="#c5c5c5"/><stop offset=".574" stop-color="#666"/><stop offset=".591" stop-color="#3c3c3c"/><stop offset=".608" stop-color="#1d1d1d"/><stop offset=".629" stop-color="#0a0a0a"/><stop offset=".646" stop-color="#050505"/><stop offset=".686" stop-color="#030303"/><stop offset="1" stop-color="#030303"/></linearGradient>
<linearGradient id="a86" x2="0" y2="1"><stop offset="0" stop-color="#030303"/><stop offset=".23" stop-color="#030303"/><stop offset=".296" stop-color="#0c0c0c"/><stop offset=".345" stop-color="#060606"/><stop offset=".366" stop-color="#0a0a0a"/><stop offset=".386" stop-color="#1d1d1d"/><stop offset=".403" stop-color="#3b3b3b"/><stop offset=".421" stop-color="#646464"/><stop offset=".455" stop-color="#c1c1c1"/><stop offset=".47" stop-color="#e0e0e0"/><stop offset=".484" stop-color="#f5f5f5"/><stop offset=".499" stop-color="#fbfbfb"/><stop offset=".51" stop-color="#f6f6f6"/><stop offset=".525" stop-color="#e2e2e2"/><stop offset=".542" stop-color="#bdbdbd"/><stop offset=".577" stop-color="#606060"/><stop offset=".594" stop-color="#383838"/><stop offset=".611" stop-color="#1b1b1b"/><stop offset=".632" stop-color="#090909"/><stop offset=".649" stop-color="#050505"/><stop offset=".695" stop-color="#030303"/><stop offset="1" stop-color="#030303"/></linearGradient>
<linearGradient id="a87" x2="0" y2="1"><stop offset="0" stop-color="#030303"/><stop offset=".233" stop-color="#030303"/><stop offset=".299" stop-color="#0b0b0b"/><stop offset=".348" stop-color="#060606"/><stop offset=".368" stop-color="#0a0a0a"/><stop offset=".389" stop-color="#1c1c1c"/><stop offset=".406" stop-color="#393939"/><stop offset=".423" stop-color="#606060"/><stop offset=".458" stop-color="#b9b9b9"/><stop offset=".473" stop-color="#d7d7d7"/><stop offset=".487" stop-color="#eaeaea"/><stop offset=".501" stop-color="#f0f0f0"/><stop offset=".513" stop-color="#ebebeb"/><stop offset=".527" stop-color="#d8d8d8"/><stop offset=".545" stop-color="#b4b4b4"/><stop offset=".579" stop-color="#5b5b5b"/><stop offset=".597" stop-color="#353535"/><stop offset=".614" stop-color="#1a1a1a"/><stop offset=".634" stop-color="#090909"/><stop offset=".652" stop-color="#050505"/><stop offset=".698" stop-color="#030303"/><stop offset="1" stop-color="#030303"/></linearGradient>
<linearGradient id="a88" x2="0" y2="1"><stop offset="0" stop-color="#030303"/><stop offset=".238" stop-color="#030303"/><stop offset=".302" stop-color="#090909"/><stop offset=".351" stop-color="#050505"/><stop offset=".371" stop-color="#090909"/><stop offset=".392" stop-color="#191919"/><stop offset=".409" stop-color="#333"/><stop offset=".426" stop-color="#575757"/><stop offset=".461" stop-color="#aaa"/><stop offset=".475" stop-color="#c6c6c6"/><stop offset=".49" stop-color="#d9d9d9"/><stop offset=".504" stop-color="#e0e0e0"/><stop offset=".519" stop-color="#dadada"/><stop offset=".533" stop-color="#c7c7c7"/><stop offset=".548" stop-color="#ababab"/><stop offset=".582" stop-color="#585858"/><stop offset=".6" stop-color="#343434"/><stop offset=".617" stop-color="#1a1a1a"/><stop offset=".637" stop-color="#090909"/><stop offset=".655" stop-color="#050505"/><stop offset=".718" stop-color="#030303"/><stop offset="1" stop-color="#030303"/></linearGradient>
<linearGradient id="a89" x2="0" y2="1"><stop offset="0" stop-color="#030303"/><stop offset=".247" stop-color="#030303"/><stop offset=".311" stop-color="#070707"/><stop offset=".36" stop-color="#050505"/><stop offset=".377" stop-color="#090909"/><stop offset=".397" stop-color="#171717"/><stop offset=".415" stop-color="#2f2f2f"/><stop offset=".432" stop-color="#505050"/><stop offset=".467" stop-color="#9b9b9b"/><stop offset=".481" stop-color="#b4b4b4"/><stop offset=".496" stop-color="#c5c5c5"/><stop offset=".51" stop-color="#cbcbcb"/><stop offset=".525" stop-color="#c5c5c5"/><stop offset=".539" stop-color="#b4b4b4"/><stop offset=".553" stop-color="#9a9a9a"/><stop offset=".588" stop-color="#4f4f4f"/><stop offset=".605" stop-color="#2f2f2f"/><stop offset=".623" stop-color="#171717"/><stop offset=".643" stop-color="#080808"/><stop offset=".66" stop-color="#050505"/><stop offset=".744" stop-color="#030303"/><stop offset="1" stop-color="#030303"/></linearGradient>
<linearGradient id="a90" x2="0" y2="1"><stop offset="0" stop-color="#030303"/><stop offset=".256" stop-color="#030303"/><stop offset=".383" stop-color="#070707"/><stop offset=".403" stop-color="#141414"/><stop offset=".421" stop-color="#282828"/><stop offset=".438" stop-color="#454545"/><stop offset=".475" stop-color="#8e8e8e"/><stop offset=".49" stop-color="#a4a4a4"/><stop offset=".504" stop-color="#b3b3b3"/><stop offset=".519" stop-color="#b7b7b7"/><stop offset=".53" stop-color="#b3b3b3"/><stop offset=".545" stop-color="#a5a5a5"/><stop offset=".562" stop-color="#898989"/><stop offset=".594" stop-color="#4b4b4b"/><stop offset=".611" stop-color="#2d2d2d"/><stop offset=".629" stop-color="#171717"/><stop offset=".649" stop-color="#090909"/><stop offset=".756" stop-color="#030303"/><stop offset="1" stop-color="#030303"/></linearGradient>
<linearGradient id="a91" x2="0" y2="1"><stop offset="0" stop-color="#030303"/><stop offset=".267" stop-color="#030303"/><stop offset=".392" stop-color="#070707"/><stop offset=".412" stop-color="#121212"/><stop offset=".432" stop-color="#292929"/><stop offset=".484" stop-color="#838383"/><stop offset=".499" stop-color="#989898"/><stop offset=".513" stop-color="#a5a5a5"/><stop offset=".527" stop-color="#aaa"/><stop offset=".542" stop-color="#a4a4a4"/><stop offset=".556" stop-color="#969696"/><stop offset=".571" stop-color="#808080"/><stop offset=".62" stop-color="#2b2b2b"/><stop offset=".64" stop-color="#131313"/><stop offset=".658" stop-color="#090909"/><stop offset=".764" stop-color="#030303"/><stop offset="1" stop-color="#030303"/></linearGradient>
<linearGradient id="a92" x2="0" y2="1"><stop offset="0" stop-color="#030303"/><stop offset=".285" stop-color="#030303"/><stop offset=".403" stop-color="#070707"/><stop offset=".423" stop-color="#121212"/><stop offset=".444" stop-color="#272727"/><stop offset=".496" stop-color="#7b7b7b"/><stop offset=".51" stop-color="#8f8f8f"/><stop offset=".525" stop-color="#9c9c9c"/><stop offset=".539" stop-color="#a0a0a0"/><stop offset=".553" stop-color="#9b9b9b"/><stop offset=".568" stop-color="#8d8d8d"/><stop offset=".582" stop-color="#797979"/><stop offset=".632" stop-color="#292929"/><stop offset=".652" stop-color="#131313"/><stop offset=".669" stop-color="#090909"/><stop offset=".776" stop-color="#030303"/><stop offset="1" stop-color="#030303"/></linearGradient>
<linearGradient id="a93" x2="0" y2="1"><stop offset="0" stop-color="#030303"/><stop offset=".308" stop-color="#030303"/><stop offset=".418" stop-color="#070707"/><stop offset=".438" stop-color="#111"/><stop offset=".458" stop-color="#252525"/><stop offset=".51" stop-color="#757575"/><stop offset=".525" stop-color="#888"/><stop offset=".539" stop-color="#959595"/><stop offset=".553" stop-color="#999"/><stop offset=".568" stop-color="#949494"/><stop offset=".582" stop-color="#878787"/><stop offset=".649" stop-color="#242424"/><stop offset=".666" stop-color="#131313"/><stop offset=".684" stop-color="#090909"/><stop offset=".793" stop-color="#030303"/><stop offset="1" stop-color="#030303"/></linearGradient>
<linearGradient id="a94" x2="0" y2="1"><stop offset="0" stop-color="#030303"/><stop offset=".328" stop-color="#030303"/><stop offset=".432" stop-color="#060606"/><stop offset=".449" stop-color="#0d0d0d"/><stop offset=".467" stop-color="#1b1b1b"/><stop offset=".487" stop-color="#343434"/><stop offset=".539" stop-color="#818181"/><stop offset=".556" stop-color="#909090"/><stop offset=".571" stop-color="#939393"/><stop offset=".582" stop-color="#909090"/><stop offset=".597" stop-color="#848484"/><stop offset=".611" stop-color="#727272"/><stop offset=".66" stop-color="#2a2a2a"/><stop offset=".675" stop-color="#1c1c1c"/><stop offset=".692" stop-color="#121212"/><stop offset=".796" stop-color="#040404"/><stop offset="1" stop-color="#030303"/></linearGradient>
<linearGradient id="a95" x2="0" y2="1"><stop offset="0" stop-color="#030303"/><stop offset=".377" stop-color="#030303"/><stop offset=".449" stop-color="#060606"/><stop offset=".47" stop-color="#0f0f0f"/><stop offset=".49" stop-color="#202020"/><stop offset=".507" stop-color="#363636"/><stop offset=".545" stop-color="#6d6d6d"/><stop offset=".559" stop-color="#7e7e7e"/><stop offset=".574" stop-color="#898989"/><stop offset=".588" stop-color="#8c8c8c"/><stop offset=".6" stop-color="#898989"/><stop offset=".614" stop-color="#7f7f7f"/><stop offset=".663" stop-color="#4a4a4a"/><stop offset=".695" stop-color="#2f2f2f"/><stop offset=".727" stop-color="#181818"/><stop offset=".75" stop-color="#0d0d0d"/><stop offset=".819" stop-color="#040404"/><stop offset="1" stop-color="#030303"/></linearGradient>
<linearGradient id="a96" x2="0" y2="1"><stop offset="0" stop-color="#030303"/><stop offset=".397" stop-color="#040404"/><stop offset=".47" stop-color="#070707"/><stop offset=".49" stop-color="#101010"/><stop offset=".51" stop-color="#212121"/><stop offset=".568" stop-color="#6d6d6d"/><stop offset=".588" stop-color="#838383"/><stop offset=".605" stop-color="#8f8f8f"/><stop offset=".626" stop-color="#949494"/><stop offset=".646" stop-color="#8f8f8f"/><stop offset=".666" stop-color="#7e7e7e"/><stop offset=".684" stop-color="#666"/><stop offset=".721" stop-color="#252525"/><stop offset=".736" stop-color="#141414"/><stop offset=".747" stop-color="#0c0c0c"/><stop offset=".834" stop-color="#030303"/><stop offset="1" stop-color="#030303"/></linearGradient>
<linearGradient id="a97" x2="0" y2="1"><stop offset="0" stop-color="#040404"/><stop offset=".409" stop-color="#050505"/><stop offset=".487" stop-color="#090909"/><stop offset=".51" stop-color="#141414"/><stop offset=".533" stop-color="#292929"/><stop offset=".556" stop-color="#4a4a4a"/><stop offset=".608" stop-color="#a3a3a3"/><stop offset=".623" stop-color="#b3b3b3"/><stop offset=".637" stop-color="#b9b9b9"/><stop offset=".649" stop-color="#b5b5b5"/><stop offset=".663" stop-color="#a5a5a5"/><stop offset=".678" stop-color="#8a8a8a"/><stop offset=".704" stop-color="#4c4c4c"/><stop offset=".718" stop-color="#2d2d2d"/><stop offset=".733" stop-color="#171717"/><stop offset=".747" stop-color="#0b0b0b"/><stop offset=".842" stop-color="#030303"/><stop offset="1" stop-color="#030303"/></linearGradient><linearGradient id="b0" x2="0" y2="1"><stop offset="0" stop-color="#050505"/><stop offset=".345" stop-color="#050505"/><stop offset=".426" stop-color="#0b0b0b"/><stop offset=".449" stop-color="#181818"/><stop offset=".473" stop-color="#323232"/><stop offset=".493" stop-color="#515151"/><stop offset=".536" stop-color="#9f9f9f"/><stop offset=".553" stop-color="#b8b8b8"/><stop offset=".571" stop-color="#c9c9c9"/><stop offset=".588" stop-color="#cfcfcf"/><stop offset=".605" stop-color="#c9c9c9"/><stop offset=".623" stop-color="#b9b9b9"/><stop offset=".643" stop-color="#9b9b9b"/><stop offset=".684" stop-color="#535353"/><stop offset=".701" stop-color="#373737"/><stop offset=".721" stop-color="#1f1f1f"/><stop offset=".744" stop-color="#0e0e0e"/><stop offset=".764" stop-color="#080808"/><stop offset=".796" stop-color="#060606"/><stop offset="1" stop-color="#050505"/></linearGradient>
<linearGradient id="b1" x2="0" y2="1"><stop offset="0" stop-color="#050505"/><stop offset=".34" stop-color="#050505"/><stop offset=".395" stop-color="#070707"/><stop offset=".418" stop-color="#0b0b0b"/><stop offset=".441" stop-color="#191919"/><stop offset=".464" stop-color="#343434"/><stop offset=".484" stop-color="#545454"/><stop offset=".527" stop-color="#a2a2a2"/><stop offset=".545" stop-color="#bcbcbc"/><stop offset=".562" stop-color="#cdcdcd"/><stop offset=".579" stop-color="#d3d3d3"/><stop offset=".597" stop-color="#cdcdcd"/><stop offset=".614" stop-color="#bcbcbc"/><stop offset=".634" stop-color="#9e9e9e"/><stop offset=".692" stop-color="#383838"/><stop offset=".715" stop-color="#1c1c1c"/><stop offset=".736" stop-color="#0e0e0e"/><stop offset=".776" stop-color="#060606"/><stop offset="1" stop-color="#050505"/></linearGradient>
<linearGradient id="b2" x2="0" y2="1"><stop offset="0" stop-color="#050505"/><stop offset=".328" stop-color="#050505"/><stop offset=".406" stop-color="#0b0b0b"/><stop offset=".429" stop-color="#181818"/><stop offset=".452" stop-color="#323232"/><stop offset=".473" stop-color="#525252"/><stop offset=".516" stop-color="#a2a2a2"/><stop offset=".536" stop-color="#c0c0c0"/><stop offset=".553" stop-color="#d0d0d0"/><stop offset=".568" stop-color="#d5d5d5"/><stop offset=".585" stop-color="#cfcfcf"/><stop offset=".603" stop-color="#bfbfbf"/><stop offset=".623" stop-color="#a1a1a1"/><stop offset=".663" stop-color="#575757"/><stop offset=".684" stop-color="#363636"/><stop offset=".704" stop-color="#1e1e1e"/><stop offset=".727" stop-color="#0d0d0d"/><stop offset=".77" stop-color="#060606"/><stop offset="1" stop-color="#050505"/></linearGradient>
<linearGradient id="b3" x2="0" y2="1"><stop offset="0" stop-color="#050505"/><stop offset=".325" stop-color="#050505"/><stop offset=".377" stop-color="#070707"/><stop offset=".397" stop-color="#0b0b0b"/><stop offset=".421" stop-color="#1a1a1a"/><stop offset=".444" stop-color="#353535"/><stop offset=".464" stop-color="#555"/><stop offset=".504" stop-color="#a0a0a0"/><stop offset=".525" stop-color="#bfbfbf"/><stop offset=".542" stop-color="#d0d0d0"/><stop offset=".559" stop-color="#d5d5d5"/><stop offset=".577" stop-color="#cfcfcf"/><stop offset=".594" stop-color="#bebebe"/><stop offset=".614" stop-color="#9f9f9f"/><stop offset=".655" stop-color="#545454"/><stop offset=".672" stop-color="#383838"/><stop offset=".695" stop-color="#1c1c1c"/><stop offset=".715" stop-color="#0e0e0e"/><stop offset=".759" stop-color="#060606"/><stop offset="1" stop-color="#050505"/></linearGradient>
<linearGradient id="b4" x2="0" y2="1"><stop offset="0" stop-color="#050505"/><stop offset=".319" stop-color="#050505"/><stop offset=".368" stop-color="#070707"/><stop offset=".389" stop-color="#0c0c0c"/><stop offset=".412" stop-color="#1b1b1b"/><stop offset=".432" stop-color="#333"/><stop offset=".452" stop-color="#535353"/><stop offset=".496" stop-color="#a3a3a3"/><stop offset=".513" stop-color="#bebebe"/><stop offset=".53" stop-color="#d0d0d0"/><stop offset=".548" stop-color="#d6d6d6"/><stop offset=".565" stop-color="#d1d1d1"/><stop offset=".582" stop-color="#c1c1c1"/><stop offset=".603" stop-color="#a2a2a2"/><stop offset=".643" stop-color="#575757"/><stop offset=".663" stop-color="#363636"/><stop offset=".684" stop-color="#1e1e1e"/><stop offset=".707" stop-color="#0d0d0d"/><stop offset=".753" stop-color="#060606"/><stop offset="1" stop-color="#050505"/></linearGradient>
<linearGradient id="b5" x2="0" y2="1"><stop offset="0" stop-color="#050505"/><stop offset=".308" stop-color="#050505"/><stop offset=".377" stop-color="#0b0b0b"/><stop offset=".4" stop-color="#1a1a1a"/><stop offset=".423" stop-color="#353535"/><stop offset=".444" stop-color="#565656"/><stop offset=".484" stop-color="#a2a2a2"/><stop offset=".504" stop-color="#c1c1c1"/><stop offset=".522" stop-color="#d3d3d3"/><stop offset=".539" stop-color="#d8d8d8"/><stop offset=".556" stop-color="#d2d2d2"/><stop offset=".574" stop-color="#c1c1c1"/><stop offset=".594" stop-color="#a1a1a1"/><stop offset=".634" stop-color="#555"/><stop offset=".652" stop-color="#393939"/><stop offset=".675" stop-color="#1c1c1c"/><stop offset=".695" stop-color="#0e0e0e"/><stop offset=".712" stop-color="#080808"/><stop offset=".741" stop-color="#060606"/><stop offset="1" stop-color="#050505"/></linearGradient>
<linearGradient id="b6" x2="0" y2="1"><stop offset="0" stop-color="#050505"/><stop offset=".302" stop-color="#060606"/><stop offset=".368" stop-color="#0b0b0b"/><stop offset=".392" stop-color="#1a1a1a"/><stop offset=".415" stop-color="#363636"/><stop offset=".435" stop-color="#585858"/><stop offset=".475" stop-color="#a6a6a6"/><stop offset=".496" stop-color="#c5c5c5"/><stop offset=".513" stop-color="#d6d6d6"/><stop offset=".53" stop-color="#dbdbdb"/><stop offset=".548" stop-color="#d4d4d4"/><stop offset=".565" stop-color="#c2c2c2"/><stop offset=".582" stop-color="#a6a6a6"/><stop offset=".623" stop-color="#595959"/><stop offset=".643" stop-color="#373737"/><stop offset=".663" stop-color="#1e1e1e"/><stop offset=".686" stop-color="#0d0d0d"/><stop offset=".707" stop-color="#080808"/><stop offset=".738" stop-color="#060606"/><stop offset="1" stop-color="#050505"/></linearGradient>
<linearGradient id="b7" x2="0" y2="1"><stop offset="0" stop-color="#050505"/><stop offset=".305" stop-color="#060606"/><stop offset=".345" stop-color="#080808"/><stop offset=".363" stop-color="#0c0c0c"/><stop offset=".386" stop-color="#1c1c1c"/><stop offset=".406" stop-color="#353535"/><stop offset=".426" stop-color="#585858"/><stop offset=".47" stop-color="#acacac"/><stop offset=".487" stop-color="#c8c8c8"/><stop offset=".504" stop-color="#dadada"/><stop offset=".522" stop-color="#dfdfdf"/><stop offset=".536" stop-color="#dadada"/><stop offset=".553" stop-color="#c9c9c9"/><stop offset=".574" stop-color="#a8a8a8"/><stop offset=".614" stop-color="#595959"/><stop offset=".634" stop-color="#363636"/><stop offset=".655" stop-color="#1d1d1d"/><stop offset=".678" stop-color="#0d0d0d"/><stop offset=".698" stop-color="#070707"/><stop offset=".736" stop-color="#060606"/><stop offset="1" stop-color="#050505"/></linearGradient>
<linearGradient id="b8" x2="0" y2="1"><stop offset="0" stop-color="#050505"/><stop offset=".308" stop-color="#060606"/><stop offset=".357" stop-color="#0c0c0c"/><stop offset=".38" stop-color="#1c1c1c"/><stop offset=".4" stop-color="#363636"/><stop offset=".421" stop-color="#595959"/><stop offset=".464" stop-color="#b0b0b0"/><stop offset=".481" stop-color="#ccc"/><stop offset=".499" stop-color="#dedede"/><stop offset=".513" stop-color="#e3e3e3"/><stop offset=".53" stop-color="#ddd"/><stop offset=".548" stop-color="#cacaca"/><stop offset=".565" stop-color="#aeaeae"/><stop offset=".605" stop-color="#5c5c5c"/><stop offset=".626" stop-color="#383838"/><stop offset=".646" stop-color="#1e1e1e"/><stop offset=".669" stop-color="#0d0d0d"/><stop offset=".689" stop-color="#080808"/><stop offset=".73" stop-color="#060606"/><stop offset="1" stop-color="#050505"/></linearGradient>
<linearGradient id="b9" x2="0" y2="1"><stop offset="0" stop-color="#050505"/><stop offset=".316" stop-color="#070707"/><stop offset=".354" stop-color="#0c0c0c"/><stop offset=".377" stop-color="#1e1e1e"/><stop offset=".397" stop-color="#393939"/><stop offset=".418" stop-color="#5e5e5e"/><stop offset=".458" stop-color="#b2b2b2"/><stop offset=".475" stop-color="#d0d0d0"/><stop offset=".493" stop-color="#e2e2e2"/><stop offset=".507" stop-color="#e8e8e8"/><stop offset=".525" stop-color="#e2e2e2"/><stop offset=".542" stop-color="#cfcfcf"/><stop offset=".559" stop-color="#b1b1b1"/><stop offset=".6" stop-color="#5d5d5d"/><stop offset=".62" stop-color="#383838"/><stop offset=".64" stop-color="#1d1d1d"/><stop offset=".663" stop-color="#0c0c0c"/><stop offset=".684" stop-color="#080808"/><stop offset=".73" stop-color="#060606"/><stop offset="1" stop-color="#050505"/></linearGradient>
<linearGradient id="b10" x2="0" y2="1"><stop offset="0" stop-color="#050505"/><stop offset=".322" stop-color="#070707"/><stop offset=".351" stop-color="#0d0d0d"/><stop offset=".374" stop-color="#1f1f1f"/><stop offset=".395" stop-color="#3b3b3b"/><stop offset=".412" stop-color="#5c5c5c"/><stop offset=".452" stop-color="#b3b3b3"/><stop offset=".473" stop-color="#d6d6d6"/><stop offset=".49" stop-color="#e8e8e8"/><stop offset=".504" stop-color="#ededed"/><stop offset=".519" stop-color="#e7e7e7"/><stop offset=".536" stop-color="#d4d4d4"/><stop offset=".553" stop-color="#b7b7b7"/><stop offset=".594" stop-color="#606060"/><stop offset=".614" stop-color="#3a3a3a"/><stop offset=".634" stop-color="#1e1e1e"/><stop offset=".658" stop-color="#0d0d0d"/><stop offset=".678" stop-color="#080808"/><stop offset=".727" stop-color="#060606"/><stop offset="1" stop-color="#050505"/></linearGradient>
<linearGradient id="b11" x2="0" y2="1"><stop offset="0" stop-color="#050505"/><stop offset=".322" stop-color="#080808"/><stop offset=".348" stop-color="#0d0d0d"/><stop offset=".371" stop-color="#1f1f1f"/><stop offset=".392" stop-color="#3c3c3c"/><stop offset=".409" stop-color="#5e5e5e"/><stop offset=".449" stop-color="#b7b7b7"/><stop offset=".467" stop-color="#d6d6d6"/><stop offset=".484" stop-color="#ebebeb"/><stop offset=".501" stop-color="#f1f1f1"/><stop offset=".516" stop-color="#ebebeb"/><stop offset=".533" stop-color="#d7d7d7"/><stop offset=".551" stop-color="#b8b8b8"/><stop offset=".591" stop-color="#5f5f5f"/><stop offset=".608" stop-color="#3e3e3e"/><stop offset=".629" stop-color="#202020"/><stop offset=".652" stop-color="#0d0d0d"/><stop offset=".672" stop-color="#080808"/><stop offset=".718" stop-color="#060606"/><stop offset="1" stop-color="#050505"/></linearGradient>
<linearGradient id="b12" x2="0" y2="1"><stop offset="0" stop-color="#050505"/><stop offset=".198" stop-color="#050505"/><stop offset=".27" stop-color="#0a0a0a"/><stop offset=".325" stop-color="#090909"/><stop offset=".345" stop-color="#0d0d0d"/><stop offset=".368" stop-color="#202020"/><stop offset=".389" stop-color="#3d3d3d"/><stop offset=".406" stop-color="#5f5f5f"/><stop offset=".447" stop-color="#b9b9b9"/><stop offset=".464" stop-color="#d9d9d9"/><stop offset=".481" stop-color="#eee"/><stop offset=".499" stop-color="#f5f5f5"/><stop offset=".513" stop-color="#efefef"/><stop offset=".53" stop-color="#dadada"/><stop offset=".548" stop-color="#bbb"/><stop offset=".588" stop-color="#606060"/><stop offset=".605" stop-color="#3e3e3e"/><stop offset=".626" stop-color="#202020"/><stop offset=".649" stop-color="#0d0d0d"/><stop offset=".669" stop-color="#080808"/><stop offset=".718" stop-color="#060606"/><stop offset="1" stop-color="#050505"/></linearGradient>
<linearGradient id="b13" x2="0" y2="1"><stop offset="0" stop-color="#050505"/><stop offset=".195" stop-color="#050505"/><stop offset=".267" stop-color="#0c0c0c"/><stop offset=".325" stop-color="#090909"/><stop offset=".342" stop-color="#0d0d0d"/><stop offset=".366" stop-color="#202020"/><stop offset=".386" stop-color="#3d3d3d"/><stop offset=".406" stop-color="#656565"/><stop offset=".444" stop-color="#bbb"/><stop offset=".464" stop-color="#e0e0e0"/><stop offset=".481" stop-color="#f3f3f3"/><stop offset=".496" stop-color="#f8f8f8"/><stop offset=".51" stop-color="#f2f2f2"/><stop offset=".527" stop-color="#dedede"/><stop offset=".545" stop-color="#bebebe"/><stop offset=".585" stop-color="#626262"/><stop offset=".605" stop-color="#3b3b3b"/><stop offset=".626" stop-color="#1e1e1e"/><stop offset=".646" stop-color="#0e0e0e"/><stop offset=".666" stop-color="#080808"/><stop offset=".715" stop-color="#060606"/><stop offset="1" stop-color="#050505"/></linearGradient>
<linearGradient id="b14" x2="0" y2="1"><stop offset="0" stop-color="#050505"/><stop offset=".195" stop-color="#050505"/><stop offset=".267" stop-color="#0d0d0d"/><stop offset=".325" stop-color="#0a0a0a"/><stop offset=".342" stop-color="#0e0e0e"/><stop offset=".363" stop-color="#1f1f1f"/><stop offset=".383" stop-color="#3c3c3c"/><stop offset=".403" stop-color="#646464"/><stop offset=".444" stop-color="#c1c1c1"/><stop offset=".461" stop-color="#e1e1e1"/><stop offset=".478" stop-color="#f5f5f5"/><stop offset=".493" stop-color="#fbfbfb"/><stop offset=".507" stop-color="#f5f5f5"/><stop offset=".525" stop-color="#e2e2e2"/><stop offset=".545" stop-color="#bcbcbc"/><stop offset=".582" stop-color="#666"/><stop offset=".603" stop-color="#3d3d3d"/><stop offset=".623" stop-color="#1f1f1f"/><stop offset=".646" stop-color="#0d0d0d"/><stop offset=".666" stop-color="#080808"/><stop offset=".718" stop-color="#060606"/><stop offset="1" stop-color="#050505"/></linearGradient>
<linearGradient id="b15" x2="0" y2="1"><stop offset="0" stop-color="#050505"/><stop offset=".195" stop-color="#050505"/><stop offset=".267" stop-color="#0d0d0d"/><stop offset=".325" stop-color="#0a0a0a"/><stop offset=".342" stop-color="#0f0f0f"/><stop offset=".363" stop-color="#202020"/><stop offset=".383" stop-color="#3d3d3d"/><stop offset=".403" stop-color="#666"/><stop offset=".441" stop-color="#bdbdbd"/><stop offset=".461" stop-color="#e3e3e3"/><stop offset=".478" stop-color="#f7f7f7"/><stop offset=".493" stop-color="#fcfcfc"/><stop offset=".507" stop-color="#f6f6f6"/><stop offset=".525" stop-color="#e2e2e2"/><stop offset=".542" stop-color="#c1c1c1"/><stop offset=".582" stop-color="#646464"/><stop offset=".603" stop-color="#3c3c3c"/><stop offset=".623" stop-color="#1f1f1f"/><stop offset=".646" stop-color="#0d0d0d"/><stop offset=".666" stop-color="#080808"/><stop offset=".721" stop-color="#060606"/><stop offset="1" stop-color="#050505"/></linearGradient>
<linearGradient id="b16" x2="0" y2="1"><stop offset="0" stop-color="#050505"/><stop offset=".195" stop-color="#050505"/><stop offset=".267" stop-color="#0c0c0c"/><stop offset=".325" stop-color="#0a0a0a"/><stop offset=".342" stop-color="#0f0f0f"/><stop offset=".363" stop-color="#1f1f1f"/><stop offset=".383" stop-color="#3d3d3d"/><stop offset=".403" stop-color="#656565"/><stop offset=".444" stop-color="#c2c2c2"/><stop offset=".461" stop-color="#e2e2e2"/><stop offset=".478" stop-color="#f6f6f6"/><stop offset=".493" stop-color="#fbfbfb"/><stop offset=".507" stop-color="#f6f6f6"/><stop offset=".525" stop-color="#e2e2e2"/><stop offset=".542" stop-color="#c2c2c2"/><stop offset=".582" stop-color="#656565"/><stop offset=".603" stop-color="#3c3c3c"/><stop offset=".623" stop-color="#1f1f1f"/><stop offset=".646" stop-color="#0d0d0d"/><stop offset=".666" stop-color="#080808"/><stop offset=".721" stop-color="#060606"/><stop offset="1" stop-color="#050505"/></linearGradient>
<linearGradient id="b17" x2="0" y2="1"><stop offset="0" stop-color="#050505"/><stop offset=".195" stop-color="#050505"/><stop offset=".267" stop-color="#0b0b0b"/><stop offset=".325" stop-color="#090909"/><stop offset=".342" stop-color="#0e0e0e"/><stop offset=".366" stop-color="#202020"/><stop offset=".386" stop-color="#3f3f3f"/><stop offset=".403" stop-color="#616161"/><stop offset=".444" stop-color="#bdbdbd"/><stop offset=".461" stop-color="#ddd"/><stop offset=".478" stop-color="#f3f3f3"/><stop offset=".496" stop-color="#f9f9f9"/><stop offset=".51" stop-color="#f3f3f3"/><stop offset=".527" stop-color="#dedede"/><stop offset=".545" stop-color="#bdbdbd"/><stop offset=".585" stop-color="#616161"/><stop offset=".603" stop-color="#3f3f3f"/><stop offset=".623" stop-color="#212121"/><stop offset=".646" stop-color="#0d0d0d"/><stop offset=".666" stop-color="#080808"/><stop offset=".715" stop-color="#060606"/><stop offset="1" stop-color="#050505"/></linearGradient>
<linearGradient id="b18" x2="0" y2="1"><stop offset="0" stop-color="#050505"/><stop offset=".201" stop-color="#050505"/><stop offset=".267" stop-color="#0a0a0a"/><stop offset=".325" stop-color="#090909"/><stop offset=".345" stop-color="#0e0e0e"/><stop offset=".368" stop-color="#212121"/><stop offset=".389" stop-color="#3f3f3f"/><stop offset=".406" stop-color="#616161"/><stop offset=".447" stop-color="#bcbcbc"/><stop offset=".464" stop-color="#dcdcdc"/><stop offset=".481" stop-color="#f0f0f0"/><stop offset=".496" stop-color="#f6f6f6"/><stop offset=".51" stop-color="#f1f1f1"/><stop offset=".527" stop-color="#dedede"/><stop offset=".548" stop-color="#bababa"/><stop offset=".588" stop-color="#5f5f5f"/><stop offset=".605" stop-color="#3d3d3d"/><stop offset=".626" stop-color="#202020"/><stop offset=".649" stop-color="#0d0d0d"/><stop offset=".669" stop-color="#080808"/><stop offset=".721" stop-color="#060606"/><stop offset="1" stop-color="#050505"/></linearGradient>
<linearGradient id="b19" x2="0" y2="1"><stop offset="0" stop-color="#050505"/><stop offset=".322" stop-color="#080808"/><stop offset=".348" stop-color="#0e0e0e"/><stop offset=".368" stop-color="#1e1e1e"/><stop offset=".389" stop-color="#3a3a3a"/><stop offset=".409" stop-color="#616161"/><stop offset=".449" stop-color="#bababa"/><stop offset=".467" stop-color="#d9d9d9"/><stop offset=".484" stop-color="#ededed"/><stop offset=".499" stop-color="#f2f2f2"/><stop offset=".513" stop-color="#eee"/><stop offset=".53" stop-color="#dbdbdb"/><stop offset=".551" stop-color="#b7b7b7"/><stop offset=".591" stop-color="#5e5e5e"/><stop offset=".608" stop-color="#3c3c3c"/><stop offset=".629" stop-color="#1f1f1f"/><stop offset=".652" stop-color="#0d0d0d"/><stop offset=".672" stop-color="#080808"/><stop offset=".721" stop-color="#060606"/><stop offset="1" stop-color="#050505"/></linearGradient>
<linearGradient id="b20" x2="0" y2="1"><stop offset="0" stop-color="#050505"/><stop offset=".319" stop-color="#070707"/><stop offset=".348" stop-color="#0c0c0c"/><stop offset=".371" stop-color="#1e1e1e"/><stop offset=".392" stop-color="#393939"/><stop offset=".412" stop-color="#606060"/><stop offset=".452" stop-color="#b7b7b7"/><stop offset=".47" stop-color="#d5d5d5"/><stop offset=".487" stop-color="#e9e9e9"/><stop offset=".501" stop-color="#eee"/><stop offset=".519" stop-color="#e8e8e8"/><stop offset=".536" stop-color="#d4d4d4"/><stop offset=".553" stop-color="#b5b5b5"/><stop offset=".594" stop-color="#5e5e5e"/><stop offset=".611" stop-color="#3d3d3d"/><stop offset=".632" stop-color="#202020"/><stop offset=".655" stop-color="#0d0d0d"/><stop offset=".675" stop-color="#080808"/><stop offset=".718" stop-color="#060606"/><stop offset="1" stop-color="#050505"/></linearGradient>
<linearGradient id="b21" x2="0" y2="1"><stop offset="0" stop-color="#050505"/><stop offset=".311" stop-color="#070707"/><stop offset=".351" stop-color="#0c0c0c"/><stop offset=".374" stop-color="#1d1d1d"/><stop offset=".395" stop-color="#383838"/><stop offset=".415" stop-color="#5d5d5d"/><stop offset=".455" stop-color="#b2b2b2"/><stop offset=".473" stop-color="#d0d0d0"/><stop offset=".49" stop-color="#e3e3e3"/><stop offset=".507" stop-color="#eaeaea"/><stop offset=".522" stop-color="#e4e4e4"/><stop offset=".539" stop-color="#d2d2d2"/><stop offset=".559" stop-color="#afafaf"/><stop offset=".597" stop-color="#606060"/><stop offset=".617" stop-color="#3b3b3b"/><stop offset=".637" stop-color="#1f1f1f"/><stop offset=".66" stop-color="#0d0d0d"/><stop offset=".681" stop-color="#080808"/><stop offset=".724" stop-color="#060606"/><stop offset="1" stop-color="#050505"/></linearGradient>
<linearGradient id="b22" x2="0" y2="1"><stop offset="0" stop-color="#050505"/><stop offset=".302" stop-color="#060606"/><stop offset=".354" stop-color="#0c0c0c"/><stop offset=".377" stop-color="#1c1c1c"/><stop offset=".397" stop-color="#353535"/><stop offset=".418" stop-color="#595959"/><stop offset=".461" stop-color="#b0b0b0"/><stop offset=".478" stop-color="#cdcdcd"/><stop offset=".496" stop-color="#dfdfdf"/><stop offset=".513" stop-color="#e5e5e5"/><stop offset=".527" stop-color="#dfdfdf"/><stop offset=".545" stop-color="#cdcdcd"/><stop offset=".565" stop-color="#acacac"/><stop offset=".605" stop-color="#595959"/><stop offset=".623" stop-color="#3b3b3b"/><stop offset=".643" stop-color="#1f1f1f"/><stop offset=".666" stop-color="#0d0d0d"/><stop offset=".686" stop-color="#080808"/><stop offset=".724" stop-color="#060606"/><stop offset="1" stop-color="#050505"/></linearGradient>
<linearGradient id="b23" x2="0" y2="1"><stop offset="0" stop-color="#050505"/><stop offset=".299" stop-color="#060606"/><stop offset=".34" stop-color="#070707"/><stop offset=".36" stop-color="#0c0c0c"/><stop offset=".383" stop-color="#1c1c1c"/><stop offset=".403" stop-color="#353535"/><stop offset=".423" stop-color="#585858"/><stop offset=".467" stop-color="#adadad"/><stop offset=".484" stop-color="#c9c9c9"/><stop offset=".501" stop-color="#dbdbdb"/><stop offset=".519" stop-color="#e1e1e1"/><stop offset=".536" stop-color="#dadada"/><stop offset=".553" stop-color="#c7c7c7"/><stop offset=".571" stop-color="#aaa"/><stop offset=".611" stop-color="#5b5b5b"/><stop offset=".632" stop-color="#383838"/><stop offset=".652" stop-color="#1e1e1e"/><stop offset=".675" stop-color="#0d0d0d"/><stop offset=".695" stop-color="#080808"/><stop offset=".73" stop-color="#060606"/><stop offset="1" stop-color="#050505"/></linearGradient>
<linearGradient id="b24" x2="0" y2="1"><stop offset="0" stop-color="#050505"/><stop offset=".299" stop-color="#060606"/><stop offset=".345" stop-color="#070707"/><stop offset=".366" stop-color="#0c0c0c"/><stop offset=".389" stop-color="#1b1b1b"/><stop offset=".412" stop-color="#373737"/><stop offset=".432" stop-color="#595959"/><stop offset=".473" stop-color="#a7a7a7"/><stop offset=".493" stop-color="#c6c6c6"/><stop offset=".51" stop-color="#d7d7d7"/><stop offset=".527" stop-color="#ddd"/><stop offset=".545" stop-color="#d5d5d5"/><stop offset=".562" stop-color="#c3c3c3"/><stop offset=".579" stop-color="#a7a7a7"/><stop offset=".62" stop-color="#5a5a5a"/><stop offset=".64" stop-color="#373737"/><stop offset=".66" stop-color="#1e1e1e"/><stop offset=".684" stop-color="#0d0d0d"/><stop offset=".704" stop-color="#080808"/><stop offset=".736" stop-color="#060606"/><stop offset="1" stop-color="#050505"/></linearGradient>
<linearGradient id="b25" x2="0" y2="1"><stop offset="0" stop-color="#050505"/><stop offset=".305" stop-color="#050505"/><stop offset=".354" stop-color="#070707"/><stop offset=".374" stop-color="#0c0c0c"/><stop offset=".397" stop-color="#1a1a1a"/><stop offset=".421" stop-color="#353535"/><stop offset=".441" stop-color="#575757"/><stop offset=".481" stop-color="#a3a3a3"/><stop offset=".501" stop-color="#c2c2c2"/><stop offset=".519" stop-color="#d3d3d3"/><stop offset=".536" stop-color="#d9d9d9"/><stop offset=".553" stop-color="#d3d3d3"/><stop offset=".571" stop-color="#c1c1c1"/><stop offset=".588" stop-color="#a7a7a7"/><stop offset=".632" stop-color="#565656"/><stop offset=".652" stop-color="#353535"/><stop offset=".672" stop-color="#1c1c1c"/><stop offset=".695" stop-color="#0d0d0d"/><stop offset=".747" stop-color="#060606"/><stop offset="1" stop-color="#050505"/></linearGradient>
<linearGradient id="b26" x2="0" y2="1"><stop offset="0" stop-color="#050505"/><stop offset=".316" stop-color="#050505"/><stop offset=".366" stop-color="#070707"/><stop offset=".386" stop-color="#0c0c0c"/><stop offset=".409" stop-color="#1b1b1b"/><stop offset=".432" stop-color="#363636"/><stop offset=".452" stop-color="#585858"/><stop offset=".493" stop-color="#a3a3a3"/><stop offset=".513" stop-color="#c1c1c1"/><stop offset=".53" stop-color="#d1d1d1"/><stop offset=".548" stop-color="#d7d7d7"/><stop offset=".565" stop-color="#d0d0d0"/><stop offset=".582" stop-color="#bebebe"/><stop offset=".6" stop-color="#a4a4a4"/><stop offset=".64" stop-color="#595959"/><stop offset=".66" stop-color="#373737"/><stop offset=".681" stop-color="#1e1e1e"/><stop offset=".704" stop-color="#0e0e0e"/><stop offset=".721" stop-color="#080808"/><stop offset=".75" stop-color="#060606"/><stop offset="1" stop-color="#050505"/></linearGradient>
<linearGradient id="b27" x2="0" y2="1"><stop offset="0" stop-color="#050505"/><stop offset=".328" stop-color="#050505"/><stop offset=".377" stop-color="#070707"/><stop offset=".397" stop-color="#0c0c0c"/><stop offset=".421" stop-color="#1b1b1b"/><stop offset=".444" stop-color="#363636"/><stop offset=".464" stop-color="#575757"/><stop offset=".504" stop-color="#a1a1a1"/><stop offset=".525" stop-color="#bfbfbf"/><stop offset=".542" stop-color="#d0d0d0"/><stop offset=".559" stop-color="#d5d5d5"/><stop offset=".577" stop-color="#cecece"/><stop offset=".594" stop-color="#bdbdbd"/><stop offset=".611" stop-color="#a3a3a3"/><stop offset=".652" stop-color="#585858"/><stop offset=".672" stop-color="#373737"/><stop offset=".692" stop-color="#1e1e1e"/><stop offset=".715" stop-color="#0e0e0e"/><stop offset=".759" stop-color="#060606"/><stop offset="1" stop-color="#050505"/></linearGradient>
<linearGradient id="b28" x2="0" y2="1"><stop offset="0" stop-color="#050505"/><stop offset=".337" stop-color="#050505"/><stop offset=".386" stop-color="#070707"/><stop offset=".409" stop-color="#0c0c0c"/><stop offset=".432" stop-color="#1a1a1a"/><stop offset=".455" stop-color="#353535"/><stop offset=".475" stop-color="#555"/><stop offset=".516" stop-color="#9f9f9f"/><stop offset=".536" stop-color="#bdbdbd"/><stop offset=".553" stop-color="#cecece"/><stop offset=".571" stop-color="#d4d4d4"/><stop offset=".588" stop-color="#cecece"/><stop offset=".605" stop-color="#bdbdbd"/><stop offset=".626" stop-color="#9e9e9e"/><stop offset=".684" stop-color="#383838"/><stop offset=".707" stop-color="#1c1c1c"/><stop offset=".727" stop-color="#0e0e0e"/><stop offset=".77" stop-color="#060606"/><stop offset="1" stop-color="#050505"/></linearGradient>
<linearGradient id="b29" x2="0" y2="1"><stop offset="0" stop-color="#050505"/><stop offset=".342" stop-color="#050505"/><stop offset=".397" stop-color="#070707"/><stop offset=".421" stop-color="#0b0b0b"/><stop offset=".444" stop-color="#191919"/><stop offset=".467" stop-color="#333"/><stop offset=".487" stop-color="#525252"/><stop offset=".53" stop-color="#a0a0a0"/><stop offset=".548" stop-color="#bababa"/><stop offset=".565" stop-color="#cbcbcb"/><stop offset=".582" stop-color="#d1d1d1"/><stop offset=".6" stop-color="#cbcbcb"/><stop offset=".617" stop-color="#bbb"/><stop offset=".637" stop-color="#9d9d9d"/><stop offset=".695" stop-color="#393939"/><stop offset=".718" stop-color="#1d1d1d"/><stop offset=".738" stop-color="#0f0f0f"/><stop offset=".759" stop-color="#080808"/><stop offset=".785" stop-color="#060606"/><stop offset="1" stop-color="#050505"/></linearGradient>
<linearGradient id="b30" x2="0" y2="1"><stop offset="0" stop-color="#050505"/><stop offset=".345" stop-color="#050505"/><stop offset=".429" stop-color="#0a0a0a"/><stop offset=".452" stop-color="#161616"/><stop offset=".475" stop-color="#2e2e2e"/><stop offset=".496" stop-color="#4c4c4c"/><stop offset=".542" stop-color="#9b9b9b"/><stop offset=".559" stop-color="#b3b3b3"/><stop offset=".577" stop-color="#c3c3c3"/><stop offset=".594" stop-color="#c9c9c9"/><stop offset=".611" stop-color="#c3c3c3"/><stop offset=".629" stop-color="#b4b4b4"/><stop offset=".649" stop-color="#999"/><stop offset=".712" stop-color="#373737"/><stop offset=".736" stop-color="#1d1d1d"/><stop offset=".756" stop-color="#0f0f0f"/><stop offset=".799" stop-color="#060606"/><stop offset="1" stop-color="#050505"/></linearGradient>
<linearGradient id="b31" x2="0" y2="1"><stop offset="0" stop-color="#040404"/><stop offset=".363" stop-color="#050505"/><stop offset=".421" stop-color="#070707"/><stop offset=".444" stop-color="#0b0b0b"/><stop offset=".47" stop-color="#1a1a1a"/><stop offset=".493" stop-color="#323232"/><stop offset=".513" stop-color="#505050"/><stop offset=".556" stop-color="#989898"/><stop offset=".577" stop-color="#b3b3b3"/><stop offset=".597" stop-color="#c5c5c5"/><stop offset=".614" stop-color="#c9c9c9"/><stop offset=".634" stop-color="#c3c3c3"/><stop offset=".658" stop-color="#acacac"/><stop offset=".678" stop-color="#8e8e8e"/><stop offset=".733" stop-color="#2f2f2f"/><stop offset=".75" stop-color="#191919"/><stop offset=".764" stop-color="#0e0e0e"/><stop offset=".805" stop-color="#070707"/><stop offset="1" stop-color="#040404"/></linearGradient>
<linearGradient id="b32" x2="0" y2="1"><stop offset="0" stop-color="#040404"/><stop offset=".377" stop-color="#040404"/><stop offset=".435" stop-color="#060606"/><stop offset=".461" stop-color="#0c0c0c"/><stop offset=".484" stop-color="#191919"/><stop offset=".504" stop-color="#2f2f2f"/><stop offset=".527" stop-color="#545454"/><stop offset=".571" stop-color="#a9a9a9"/><stop offset=".588" stop-color="#c7c7c7"/><stop offset=".608" stop-color="#dedede"/><stop offset=".626" stop-color="#e4e4e4"/><stop offset=".64" stop-color="#dedede"/><stop offset=".658" stop-color="#cacaca"/><stop offset=".675" stop-color="#aaa"/><stop offset=".712" stop-color="#555"/><stop offset=".727" stop-color="#383838"/><stop offset=".744" stop-color="#1e1e1e"/><stop offset=".762" stop-color="#0e0e0e"/><stop offset=".776" stop-color="#090909"/><stop offset=".799" stop-color="#060606"/><stop offset="1" stop-color="#040404"/></linearGradient>
<linearGradient id="b33" x2="0" y2="1"><stop offset="0" stop-color="#040404"/><stop offset=".371" stop-color="#050505"/><stop offset=".426" stop-color="#060606"/><stop offset=".452" stop-color="#0b0b0b"/><stop offset=".475" stop-color="#171717"/><stop offset=".496" stop-color="#2b2b2b"/><stop offset=".519" stop-color="#4c4c4c"/><stop offset=".565" stop-color="#a1a1a1"/><stop offset=".585" stop-color="#c1c1c1"/><stop offset=".605" stop-color="#d6d6d6"/><stop offset=".623" stop-color="#dcdcdc"/><stop offset=".64" stop-color="#d6d6d6"/><stop offset=".658" stop-color="#c3c3c3"/><stop offset=".678" stop-color="#a0a0a0"/><stop offset=".712" stop-color="#555"/><stop offset=".73" stop-color="#343434"/><stop offset=".747" stop-color="#1b1b1b"/><stop offset=".764" stop-color="#0d0d0d"/><stop offset=".808" stop-color="#060606"/><stop offset="1" stop-color="#040404"/></linearGradient>
<linearGradient id="b34" x2="0" y2="1"><stop offset="0" stop-color="#040404"/><stop offset=".354" stop-color="#050505"/><stop offset=".435" stop-color="#0a0a0a"/><stop offset=".458" stop-color="#171717"/><stop offset=".481" stop-color="#2e2e2e"/><stop offset=".501" stop-color="#4b4b4b"/><stop offset=".548" stop-color="#989898"/><stop offset=".568" stop-color="#b3b3b3"/><stop offset=".585" stop-color="#c2c2c2"/><stop offset=".603" stop-color="#c7c7c7"/><stop offset=".623" stop-color="#c1c1c1"/><stop offset=".646" stop-color="#adadad"/><stop offset=".669" stop-color="#8e8e8e"/><stop offset=".73" stop-color="#2e2e2e"/><stop offset=".747" stop-color="#1a1a1a"/><stop offset=".764" stop-color="#0e0e0e"/><stop offset=".805" stop-color="#070707"/><stop offset="1" stop-color="#050505"/></linearGradient>
<linearGradient id="b35" x2="0" y2="1"><stop offset="0" stop-color="#050505"/><stop offset=".348" stop-color="#050505"/><stop offset=".403" stop-color="#070707"/><stop offset=".426" stop-color="#0b0b0b"/><stop offset=".449" stop-color="#191919"/><stop offset=".473" stop-color="#333"/><stop offset=".493" stop-color="#525252"/><stop offset=".533" stop-color="#9a9a9a"/><stop offset=".553" stop-color="#b8b8b8"/><stop offset=".571" stop-color="#c8c8c8"/><stop offset=".588" stop-color="#cecece"/><stop offset=".605" stop-color="#c8c8c8"/><stop offset=".623" stop-color="#b8b8b8"/><stop offset=".64" stop-color="#a0a0a0"/><stop offset=".701" stop-color="#3c3c3c"/><stop offset=".724" stop-color="#212121"/><stop offset=".747" stop-color="#101010"/><stop offset=".767" stop-color="#090909"/><stop offset=".796" stop-color="#060606"/><stop offset="1" stop-color="#050505"/></linearGradient>
<linearGradient id="b36" x2="0" y2="1"><stop offset="0" stop-color="#050505"/><stop offset=".337" stop-color="#050505"/><stop offset=".415" stop-color="#0b0b0b"/><stop offset=".438" stop-color="#191919"/><stop offset=".461" stop-color="#333"/><stop offset=".481" stop-color="#535353"/><stop offset=".525" stop-color="#a1a1a1"/><stop offset=".542" stop-color="#bbb"/><stop offset=".559" stop-color="#cdcdcd"/><stop offset=".577" stop-color="#d3d3d3"/><stop offset=".594" stop-color="#cecece"/><stop offset=".611" stop-color="#bebebe"/><stop offset=".632" stop-color="#a0a0a0"/><stop offset=".672" stop-color="#565656"/><stop offset=".692" stop-color="#353535"/><stop offset=".712" stop-color="#1d1d1d"/><stop offset=".733" stop-color="#0f0f0f"/><stop offset=".75" stop-color="#090909"/><stop offset=".776" stop-color="#060606"/><stop offset="1" stop-color="#050505"/></linearGradient>
<linearGradient id="b37" x2="0" y2="1"><stop offset="0" stop-color="#050505"/><stop offset=".325" stop-color="#050505"/><stop offset=".403" stop-color="#0b0b0b"/><stop offset=".426" stop-color="#181818"/><stop offset=".449" stop-color="#323232"/><stop offset=".47" stop-color="#525252"/><stop offset=".513" stop-color="#a1a1a1"/><stop offset=".533" stop-color="#bfbfbf"/><stop offset=".551" stop-color="#d0d0d0"/><stop offset=".568" stop-color="#d5d5d5"/><stop offset=".585" stop-color="#cecece"/><stop offset=".603" stop-color="#bcbcbc"/><stop offset=".62" stop-color="#a2a2a2"/><stop offset=".66" stop-color="#575757"/><stop offset=".681" stop-color="#373737"/><stop offset=".701" stop-color="#1e1e1e"/><stop offset=".724" stop-color="#0d0d0d"/><stop offset=".767" stop-color="#060606"/><stop offset="1" stop-color="#050505"/></linearGradient>
<linearGradient id="b38" x2="0" y2="1"><stop offset="0" stop-color="#050505"/><stop offset=".322" stop-color="#050505"/><stop offset=".374" stop-color="#070707"/><stop offset=".395" stop-color="#0c0c0c"/><stop offset=".418" stop-color="#1a1a1a"/><stop offset=".441" stop-color="#353535"/><stop offset=".461" stop-color="#565656"/><stop offset=".501" stop-color="#a1a1a1"/><stop offset=".522" stop-color="#bfbfbf"/><stop offset=".539" stop-color="#d0d0d0"/><stop offset=".556" stop-color="#d6d6d6"/><stop offset=".574" stop-color="#cfcfcf"/><stop offset=".591" stop-color="#bebebe"/><stop offset=".611" stop-color="#9f9f9f"/><stop offset=".649" stop-color="#595959"/><stop offset=".669" stop-color="#383838"/><stop offset=".692" stop-color="#1c1c1c"/><stop offset=".712" stop-color="#0e0e0e"/><stop offset=".756" stop-color="#060606"/><stop offset="1" stop-color="#050505"/></linearGradient>
<linearGradient id="b39" x2="0" y2="1"><stop offset="0" stop-color="#050505"/><stop offset=".311" stop-color="#050505"/><stop offset=".383" stop-color="#0b0b0b"/><stop offset=".406" stop-color="#191919"/><stop offset=".429" stop-color="#343434"/><stop offset=".449" stop-color="#555"/><stop offset=".493" stop-color="#a5a5a5"/><stop offset=".51" stop-color="#bfbfbf"/><stop offset=".527" stop-color="#d1d1d1"/><stop offset=".545" stop-color="#d7d7d7"/><stop offset=".562" stop-color="#d1d1d1"/><stop offset=".579" stop-color="#c0c0c0"/><stop offset=".6" stop-color="#a2a2a2"/><stop offset=".64" stop-color="#565656"/><stop offset=".66" stop-color="#353535"/><stop offset=".681" stop-color="#1d1d1d"/><stop offset=".704" stop-color="#0d0d0d"/><stop offset=".75" stop-color="#060606"/><stop offset="1" stop-color="#050505"/></linearGradient>
<linearGradient id="b40" x2="0" y2="1"><stop offset="0" stop-color="#050505"/><stop offset=".308" stop-color="#060606"/><stop offset=".354" stop-color="#070707"/><stop offset=".374" stop-color="#0c0c0c"/><stop offset=".397" stop-color="#1b1b1b"/><stop offset=".421" stop-color="#373737"/><stop offset=".441" stop-color="#585858"/><stop offset=".481" stop-color="#a5a5a5"/><stop offset=".501" stop-color="#c4c4c4"/><stop offset=".519" stop-color="#d4d4d4"/><stop offset=".536" stop-color="#d9d9d9"/><stop offset=".553" stop-color="#d2d2d2"/><stop offset=".571" stop-color="#c0c0c0"/><stop offset=".588" stop-color="#a5a5a5"/><stop offset=".629" stop-color="#595959"/><stop offset=".649" stop-color="#373737"/><stop offset=".669" stop-color="#1e1e1e"/><stop offset=".692" stop-color="#0d0d0d"/><stop offset=".71" stop-color="#080808"/><stop offset=".741" stop-color="#060606"/><stop offset="1" stop-color="#050505"/></linearGradient>
<linearGradient id="b41" x2="0" y2="1"><stop offset="0" stop-color="#050505"/><stop offset=".305" stop-color="#060606"/><stop offset=".366" stop-color="#0c0c0c"/><stop offset=".389" stop-color="#1b1b1b"/><stop offset=".412" stop-color="#373737"/><stop offset=".432" stop-color="#5a5a5a"/><stop offset=".473" stop-color="#a8a8a8"/><stop offset=".49" stop-color="#c4c4c4"/><stop offset=".507" stop-color="#d6d6d6"/><stop offset=".525" stop-color="#ddd"/><stop offset=".542" stop-color="#d7d7d7"/><stop offset=".559" stop-color="#c5c5c5"/><stop offset=".579" stop-color="#a5a5a5"/><stop offset=".617" stop-color="#5c5c5c"/><stop offset=".637" stop-color="#393939"/><stop offset=".658" stop-color="#1f1f1f"/><stop offset=".681" stop-color="#0e0e0e"/><stop offset=".698" stop-color="#080808"/><stop offset=".73" stop-color="#060606"/><stop offset="1" stop-color="#050505"/></linearGradient>
<linearGradient id="b42" x2="0" y2="1"><stop offset="0" stop-color="#050505"/><stop offset=".308" stop-color="#060606"/><stop offset=".36" stop-color="#0c0c0c"/><stop offset=".383" stop-color="#1c1c1c"/><stop offset=".403" stop-color="#363636"/><stop offset=".423" stop-color="#585858"/><stop offset=".464" stop-color="#a9a9a9"/><stop offset=".484" stop-color="#cacaca"/><stop offset=".501" stop-color="#dcdcdc"/><stop offset=".516" stop-color="#e1e1e1"/><stop offset=".533" stop-color="#dbdbdb"/><stop offset=".551" stop-color="#c9c9c9"/><stop offset=".571" stop-color="#a8a8a8"/><stop offset=".608" stop-color="#5d5d5d"/><stop offset=".629" stop-color="#393939"/><stop offset=".649" stop-color="#1f1f1f"/><stop offset=".672" stop-color="#0d0d0d"/><stop offset=".692" stop-color="#080808"/><stop offset=".727" stop-color="#060606"/><stop offset="1" stop-color="#050505"/></linearGradient>
<linearGradient id="b43" x2="0" y2="1"><stop offset="0" stop-color="#050505"/><stop offset=".319" stop-color="#070707"/><stop offset=".357" stop-color="#0d0d0d"/><stop offset=".38" stop-color="#1f1f1f"/><stop offset=".4" stop-color="#3a3a3a"/><stop offset=".418" stop-color="#595959"/><stop offset=".458" stop-color="#adadad"/><stop offset=".478" stop-color="#cecece"/><stop offset=".496" stop-color="#e1e1e1"/><stop offset=".51" stop-color="#e6e6e6"/><stop offset=".527" stop-color="#dfdfdf"/><stop offset=".545" stop-color="#ccc"/><stop offset=".562" stop-color="#afafaf"/><stop offset=".603" stop-color="#5c5c5c"/><stop offset=".623" stop-color="#383838"/><stop offset=".643" stop-color="#1d1d1d"/><stop offset=".666" stop-color="#0c0c0c"/><stop offset=".686" stop-color="#080808"/><stop offset=".733" stop-color="#060606"/><stop offset="1" stop-color="#050505"/></linearGradient>
<linearGradient id="b44" x2="0" y2="1"><stop offset="0" stop-color="#050505"/><stop offset=".322" stop-color="#070707"/><stop offset=".351" stop-color="#0c0c0c"/><stop offset=".374" stop-color="#1d1d1d"/><stop offset=".395" stop-color="#383838"/><stop offset=".415" stop-color="#5e5e5e"/><stop offset=".455" stop-color="#b4b4b4"/><stop offset=".473" stop-color="#d2d2d2"/><stop offset=".49" stop-color="#e5e5e5"/><stop offset=".504" stop-color="#ebebeb"/><stop offset=".522" stop-color="#e5e5e5"/><stop offset=".539" stop-color="#d1d1d1"/><stop offset=".556" stop-color="#b3b3b3"/><stop offset=".597" stop-color="#5d5d5d"/><stop offset=".614" stop-color="#3d3d3d"/><stop offset=".634" stop-color="#202020"/><stop offset=".658" stop-color="#0e0e0e"/><stop offset=".678" stop-color="#080808"/><stop offset=".721" stop-color="#060606"/><stop offset="1" stop-color="#050505"/></linearGradient>
<linearGradient id="b45" x2="0" y2="1"><stop offset="0" stop-color="#050505"/><stop offset=".204" stop-color="#050505"/><stop offset=".328" stop-color="#080808"/><stop offset=".348" stop-color="#0d0d0d"/><stop offset=".371" stop-color="#1e1e1e"/><stop offset=".392" stop-color="#3a3a3a"/><stop offset=".412" stop-color="#616161"/><stop offset=".452" stop-color="#b9b9b9"/><stop offset=".47" stop-color="#d7d7d7"/><stop offset=".487" stop-color="#eaeaea"/><stop offset=".501" stop-color="#f0f0f0"/><stop offset=".516" stop-color="#eaeaea"/><stop offset=".533" stop-color="#d8d8d8"/><stop offset=".551" stop-color="#b9b9b9"/><stop offset=".594" stop-color="#5b5b5b"/><stop offset=".611" stop-color="#3b3b3b"/><stop offset=".632" stop-color="#1e1e1e"/><stop offset=".655" stop-color="#0d0d0d"/><stop offset=".675" stop-color="#080808"/><stop offset=".724" stop-color="#060606"/><stop offset="1" stop-color="#050505"/></linearGradient>
<linearGradient id="b46" x2="0" y2="1"><stop offset="0" stop-color="#050505"/><stop offset=".198" stop-color="#050505"/><stop offset=".27" stop-color="#0a0a0a"/><stop offset=".325" stop-color="#080808"/><stop offset=".345" stop-color="#0d0d0d"/><stop offset=".368" stop-color="#1f1f1f"/><stop offset=".389" stop-color="#3b3b3b"/><stop offset=".409" stop-color="#636363"/><stop offset=".449" stop-color="#bcbcbc"/><stop offset=".467" stop-color="#dbdbdb"/><stop offset=".484" stop-color="#eee"/><stop offset=".499" stop-color="#f4f4f4"/><stop offset=".513" stop-color="#eee"/><stop offset=".53" stop-color="#dbdbdb"/><stop offset=".548" stop-color="#bcbcbc"/><stop offset=".588" stop-color="#626262"/><stop offset=".608" stop-color="#3b3b3b"/><stop offset=".629" stop-color="#1e1e1e"/><stop offset=".652" stop-color="#0c0c0c"/><stop offset=".672" stop-color="#080808"/><stop offset=".724" stop-color="#060606"/><stop offset="1" stop-color="#050505"/></linearGradient>
<linearGradient id="b47" x2="0" y2="1"><stop offset="0" stop-color="#050505"/><stop offset=".198" stop-color="#050505"/><stop offset=".267" stop-color="#0b0b0b"/><stop offset=".325" stop-color="#090909"/><stop offset=".345" stop-color="#0e0e0e"/><stop offset=".366" stop-color="#1f1f1f"/><stop offset=".386" stop-color="#3c3c3c"/><stop offset=".406" stop-color="#646464"/><stop offset=".447" stop-color="#bfbfbf"/><stop offset=".464" stop-color="#dedede"/><stop offset=".481" stop-color="#f2f2f2"/><stop offset=".496" stop-color="#f7f7f7"/><stop offset=".51" stop-color="#f2f2f2"/><stop offset=".527" stop-color="#dedede"/><stop offset=".545" stop-color="#bfbfbf"/><stop offset=".585" stop-color="#646464"/><stop offset=".605" stop-color="#3c3c3c"/><stop offset=".626" stop-color="#1f1f1f"/><stop offset=".649" stop-color="#0d0d0d"/><stop offset=".669" stop-color="#080808"/><stop offset=".721" stop-color="#060606"/><stop offset="1" stop-color="#050505"/></linearGradient>
<linearGradient id="b48" x2="0" y2="1"><stop offset="0" stop-color="#050505"/><stop offset=".195" stop-color="#050505"/><stop offset=".267" stop-color="#0c0c0c"/><stop offset=".325" stop-color="#090909"/><stop offset=".342" stop-color="#0e0e0e"/><stop offset=".363" stop-color="#1e1e1e"/><stop offset=".383" stop-color="#3b3b3b"/><stop offset=".403" stop-color="#636363"/><stop offset=".444" stop-color="#bfbfbf"/><stop offset=".461" stop-color="#e0e0e0"/><stop offset=".478" stop-color="#f4f4f4"/><stop offset=".493" stop-color="#fafafa"/><stop offset=".507" stop-color="#f5f5f5"/><stop offset=".525" stop-color="#e2e2e2"/><stop offset=".545" stop-color="#bcbcbc"/><stop offset=".585" stop-color="#606060"/><stop offset=".603" stop-color="#3e3e3e"/><stop offset=".623" stop-color="#202020"/><stop offset=".646" stop-color="#0d0d0d"/><stop offset=".666" stop-color="#080808"/><stop offset=".718" stop-color="#060606"/><stop offset="1" stop-color="#050505"/></linearGradient>
<linearGradient id="b49" x2="0" y2="1"><stop offset="0" stop-color="#050505"/><stop offset=".195" stop-color="#050505"/><stop offset=".267" stop-color="#0d0d0d"/><stop offset=".325" stop-color="#0a0a0a"/><stop offset=".342" stop-color="#0f0f0f"/><stop offset=".363" stop-color="#202020"/><stop offset=".383" stop-color="#3d3d3d"/><stop offset=".4" stop-color="#606060"/><stop offset=".444" stop-color="#c3c3c3"/><stop offset=".461" stop-color="#e3e3e3"/><stop offset=".478" stop-color="#f6f6f6"/><stop offset=".493" stop-color="#fcfcfc"/><stop offset=".507" stop-color="#f6f6f6"/><stop offset=".525" stop-color="#e2e2e2"/><stop offset=".542" stop-color="#c1c1c1"/><stop offset=".582" stop-color="#656565"/><stop offset=".603" stop-color="#3c3c3c"/><stop offset=".623" stop-color="#1f1f1f"/><stop offset=".646" stop-color="#0d0d0d"/><stop offset=".666" stop-color="#080808"/><stop offset=".721" stop-color="#060606"/><stop offset="1" stop-color="#050505"/></linearGradient>
<linearGradient id="b50" x2="0" y2="1"><stop offset="0" stop-color="#050505"/><stop offset=".195" stop-color="#050505"/><stop offset=".267" stop-color="#0d0d0d"/><stop offset=".325" stop-color="#0a0a0a"/><stop offset=".342" stop-color="#0f0f0f"/><stop offset=".363" stop-color="#1f1f1f"/><stop offset=".383" stop-color="#3d3d3d"/><stop offset=".403" stop-color="#656565"/><stop offset=".444" stop-color="#c2c2c2"/><stop offset=".461" stop-color="#e2e2e2"/><stop offset=".478" stop-color="#f6f6f6"/><stop offset=".493" stop-color="#fbfbfb"/><stop offset=".507" stop-color="#f6f6f6"/><stop offset=".525" stop-color="#e2e2e2"/><stop offset=".542" stop-color="#c2c2c2"/><stop offset=".582" stop-color="#656565"/><stop offset=".603" stop-color="#3c3c3c"/><stop offset=".623" stop-color="#1f1f1f"/><stop offset=".646" stop-color="#0d0d0d"/><stop offset=".666" stop-color="#080808"/><stop offset=".721" stop-color="#060606"/><stop offset="1" stop-color="#050505"/></linearGradient>
<linearGradient id="b51" x2="0" y2="1"><stop offset="0" stop-color="#050505"/><stop offset=".195" stop-color="#050505"/><stop offset=".267" stop-color="#0b0b0b"/><stop offset=".325" stop-color="#090909"/><stop offset=".342" stop-color="#0e0e0e"/><stop offset=".366" stop-color="#212121"/><stop offset=".386" stop-color="#3f3f3f"/><stop offset=".403" stop-color="#616161"/><stop offset=".444" stop-color="#bebebe"/><stop offset=".461" stop-color="#dedede"/><stop offset=".478" stop-color="#f3f3f3"/><stop offset=".493" stop-color="#f9f9f9"/><stop offset=".51" stop-color="#f3f3f3"/><stop offset=".527" stop-color="#dedede"/><stop offset=".545" stop-color="#bdbdbd"/><stop offset=".585" stop-color="#616161"/><stop offset=".603" stop-color="#3e3e3e"/><stop offset=".623" stop-color="#202020"/><stop offset=".646" stop-color="#0d0d0d"/><stop offset=".666" stop-color="#080808"/><stop offset=".715" stop-color="#060606"/><stop offset="1" stop-color="#050505"/></linearGradient>
<linearGradient id="b52" x2="0" y2="1"><stop offset="0" stop-color="#050505"/><stop offset=".201" stop-color="#050505"/><stop offset=".267" stop-color="#0a0a0a"/><stop offset=".325" stop-color="#090909"/><stop offset=".345" stop-color="#0e0e0e"/><stop offset=".366" stop-color="#1e1e1e"/><stop offset=".386" stop-color="#3a3a3a"/><stop offset=".406" stop-color="#626262"/><stop offset=".447" stop-color="#bcbcbc"/><stop offset=".464" stop-color="#dcdcdc"/><stop offset=".481" stop-color="#f0f0f0"/><stop offset=".496" stop-color="#f6f6f6"/><stop offset=".51" stop-color="#f1f1f1"/><stop offset=".527" stop-color="#dedede"/><stop offset=".548" stop-color="#bababa"/><stop offset=".588" stop-color="#5f5f5f"/><stop offset=".605" stop-color="#3d3d3d"/><stop offset=".626" stop-color="#1f1f1f"/><stop offset=".649" stop-color="#0d0d0d"/><stop offset=".669" stop-color="#080808"/><stop offset=".721" stop-color="#060606"/><stop offset="1" stop-color="#050505"/></linearGradient>
<linearGradient id="b53" x2="0" y2="1"><stop offset="0" stop-color="#050505"/><stop offset=".322" stop-color="#080808"/><stop offset=".348" stop-color="#0e0e0e"/><stop offset=".368" stop-color="#1e1e1e"/><stop offset=".389" stop-color="#3a3a3a"/><stop offset=".409" stop-color="#616161"/><stop offset=".449" stop-color="#bababa"/><stop offset=".467" stop-color="#d9d9d9"/><stop offset=".484" stop-color="#ededed"/><stop offset=".499" stop-color="#f2f2f2"/><stop offset=".513" stop-color="#eee"/><stop offset=".53" stop-color="#dbdbdb"/><stop offset=".551" stop-color="#b7b7b7"/><stop offset=".591" stop-color="#5e5e5e"/><stop offset=".608" stop-color="#3c3c3c"/><stop offset=".629" stop-color="#1f1f1f"/><stop offset=".652" stop-color="#0d0d0d"/><stop offset=".672" stop-color="#080808"/><stop offset=".721" stop-color="#060606"/><stop offset="1" stop-color="#050505"/></linearGradient>
<linearGradient id="b54" x2="0" y2="1"><stop offset="0" stop-color="#050505"/><stop offset=".319" stop-color="#070707"/><stop offset=".348" stop-color="#0c0c0c"/><stop offset=".371" stop-color="#1e1e1e"/><stop offset=".392" stop-color="#393939"/><stop offset=".412" stop-color="#5f5f5f"/><stop offset=".452" stop-color="#b6b6b6"/><stop offset=".47" stop-color="#d5d5d5"/><stop offset=".487" stop-color="#e8e8e8"/><stop offset=".501" stop-color="#eee"/><stop offset=".519" stop-color="#e8e8e8"/><stop offset=".536" stop-color="#d4d4d4"/><stop offset=".553" stop-color="#b5b5b5"/><stop offset=".594" stop-color="#5e5e5e"/><stop offset=".611" stop-color="#3d3d3d"/><stop offset=".632" stop-color="#202020"/><stop offset=".655" stop-color="#0e0e0e"/><stop offset=".675" stop-color="#080808"/><stop offset=".718" stop-color="#060606"/><stop offset="1" stop-color="#050505"/></linearGradient>
<linearGradient id="b55" x2="0" y2="1"><stop offset="0" stop-color="#050505"/><stop offset=".314" stop-color="#070707"/><stop offset=".351" stop-color="#0c0c0c"/><stop offset=".374" stop-color="#1d1d1d"/><stop offset=".395" stop-color="#373737"/><stop offset=".415" stop-color="#5c5c5c"/><stop offset=".455" stop-color="#b1b1b1"/><stop offset=".475" stop-color="#d3d3d3"/><stop offset=".493" stop-color="#e4e4e4"/><stop offset=".507" stop-color="#e9e9e9"/><stop offset=".525" stop-color="#e2e2e2"/><stop offset=".542" stop-color="#cecece"/><stop offset=".559" stop-color="#b0b0b0"/><stop offset=".6" stop-color="#5c5c5c"/><stop offset=".617" stop-color="#3c3c3c"/><stop offset=".637" stop-color="#202020"/><stop offset=".66" stop-color="#0d0d0d"/><stop offset=".681" stop-color="#080808"/><stop offset=".721" stop-color="#060606"/><stop offset="1" stop-color="#050505"/></linearGradient>
<linearGradient id="b56" x2="0" y2="1"><stop offset="0" stop-color="#050505"/><stop offset=".308" stop-color="#060606"/><stop offset=".34" stop-color="#080808"/><stop offset=".357" stop-color="#0d0d0d"/><stop offset=".38" stop-color="#1e1e1e"/><stop offset=".4" stop-color="#383838"/><stop offset=".421" stop-color="#5d5d5d"/><stop offset=".461" stop-color="#aeaeae"/><stop offset=".478" stop-color="#cbcbcb"/><stop offset=".496" stop-color="#dedede"/><stop offset=".513" stop-color="#e4e4e4"/><stop offset=".53" stop-color="#ddd"/><stop offset=".548" stop-color="#cacaca"/><stop offset=".565" stop-color="#adadad"/><stop offset=".605" stop-color="#5b5b5b"/><stop offset=".626" stop-color="#383838"/><stop offset=".646" stop-color="#1d1d1d"/><stop offset=".669" stop-color="#0d0d0d"/><stop offset=".689" stop-color="#080808"/><stop offset=".73" stop-color="#060606"/><stop offset="1" stop-color="#050505"/></linearGradient>
<linearGradient id="b57" x2="0" y2="1"><stop offset="0" stop-color="#050505"/><stop offset=".299" stop-color="#060606"/><stop offset=".36" stop-color="#0c0c0c"/><stop offset=".383" stop-color="#1b1b1b"/><stop offset=".406" stop-color="#383838"/><stop offset=".426" stop-color="#5b5b5b"/><stop offset=".467" stop-color="#aaa"/><stop offset=".487" stop-color="#cacaca"/><stop offset=".504" stop-color="#dbdbdb"/><stop offset=".519" stop-color="#e0e0e0"/><stop offset=".536" stop-color="#dadada"/><stop offset=".553" stop-color="#c8c8c8"/><stop offset=".571" stop-color="#adadad"/><stop offset=".614" stop-color="#585858"/><stop offset=".634" stop-color="#363636"/><stop offset=".655" stop-color="#1d1d1d"/><stop offset=".678" stop-color="#0c0c0c"/><stop offset=".698" stop-color="#070707"/><stop offset=".736" stop-color="#060606"/><stop offset="1" stop-color="#050505"/></linearGradient>
<linearGradient id="b58" x2="0" y2="1"><stop offset="0" stop-color="#050505"/><stop offset=".305" stop-color="#060606"/><stop offset=".348" stop-color="#070707"/><stop offset=".368" stop-color="#0c0c0c"/><stop offset=".392" stop-color="#1c1c1c"/><stop offset=".415" stop-color="#383838"/><stop offset=".435" stop-color="#5a5a5a"/><stop offset=".475" stop-color="#a7a7a7"/><stop offset=".493" stop-color="#c3c3c3"/><stop offset=".51" stop-color="#d5d5d5"/><stop offset=".527" stop-color="#dcdcdc"/><stop offset=".545" stop-color="#d6d6d6"/><stop offset=".562" stop-color="#c5c5c5"/><stop offset=".582" stop-color="#a5a5a5"/><stop offset=".623" stop-color="#585858"/><stop offset=".643" stop-color="#363636"/><stop offset=".663" stop-color="#1d1d1d"/><stop offset=".686" stop-color="#0d0d0d"/><stop offset=".707" stop-color="#080808"/><stop offset=".738" stop-color="#060606"/><stop offset="1" stop-color="#050505"/></linearGradient>
<linearGradient id="b59" x2="0" y2="1"><stop offset="0" stop-color="#050505"/><stop offset=".308" stop-color="#050505"/><stop offset=".357" stop-color="#070707"/><stop offset=".377" stop-color="#0c0c0c"/><stop offset=".4" stop-color="#1a1a1a"/><stop offset=".423" stop-color="#353535"/><stop offset=".444" stop-color="#565656"/><stop offset=".484" stop-color="#a2a2a2"/><stop offset=".504" stop-color="#c1c1c1"/><stop offset=".522" stop-color="#d2d2d2"/><stop offset=".539" stop-color="#d8d8d8"/><stop offset=".556" stop-color="#d2d2d2"/><stop offset=".574" stop-color="#c1c1c1"/><stop offset=".591" stop-color="#a7a7a7"/><stop offset=".634" stop-color="#565656"/><stop offset=".655" stop-color="#353535"/><stop offset=".675" stop-color="#1d1d1d"/><stop offset=".698" stop-color="#0d0d0d"/><stop offset=".747" stop-color="#060606"/><stop offset="1" stop-color="#050505"/></linearGradient>
<linearGradient id="b60" x2="0" y2="1"><stop offset="0" stop-color="#050505"/><stop offset=".319" stop-color="#050505"/><stop offset=".368" stop-color="#070707"/><stop offset=".389" stop-color="#0c0c0c"/><stop offset=".412" stop-color="#1a1a1a"/><stop offset=".435" stop-color="#353535"/><stop offset=".455" stop-color="#565656"/><stop offset=".496" stop-color="#a1a1a1"/><stop offset=".516" stop-color="#bfbfbf"/><stop offset=".533" stop-color="#d0d0d0"/><stop offset=".551" stop-color="#d6d6d6"/><stop offset=".568" stop-color="#d0d0d0"/><stop offset=".585" stop-color="#bfbfbf"/><stop offset=".605" stop-color="#a0a0a0"/><stop offset=".646" stop-color="#555"/><stop offset=".663" stop-color="#393939"/><stop offset=".686" stop-color="#1c1c1c"/><stop offset=".707" stop-color="#0e0e0e"/><stop offset=".75" stop-color="#060606"/><stop offset="1" stop-color="#050505"/></linearGradient>
<linearGradient id="b61" x2="0" y2="1"><stop offset="0" stop-color="#050505"/><stop offset=".328" stop-color="#050505"/><stop offset=".377" stop-color="#070707"/><stop offset=".4" stop-color="#0b0b0b"/><stop offset=".423" stop-color="#191919"/><stop offset=".447" stop-color="#343434"/><stop offset=".467" stop-color="#545454"/><stop offset=".51" stop-color="#a3a3a3"/><stop offset=".527" stop-color="#bdbdbd"/><stop offset=".545" stop-color="#cecece"/><stop offset=".562" stop-color="#d4d4d4"/><stop offset=".579" stop-color="#cfcfcf"/><stop offset=".597" stop-color="#bfbfbf"/><stop offset=".617" stop-color="#a0a0a0"/><stop offset=".658" stop-color="#565656"/><stop offset=".678" stop-color="#363636"/><stop offset=".698" stop-color="#1d1d1d"/><stop offset=".721" stop-color="#0d0d0d"/><stop offset=".764" stop-color="#060606"/><stop offset="1" stop-color="#050505"/></linearGradient>
<linearGradient id="b62" x2="0" y2="1"><stop offset="0" stop-color="#050505"/><stop offset=".334" stop-color="#050505"/><stop offset=".412" stop-color="#0b0b0b"/><stop offset=".435" stop-color="#181818"/><stop offset=".458" stop-color="#313131"/><stop offset=".478" stop-color="#505050"/><stop offset=".525" stop-color="#a4a4a4"/><stop offset=".542" stop-color="#bdbdbd"/><stop offset=".559" stop-color="#cdcdcd"/><stop offset=".577" stop-color="#d3d3d3"/><stop offset=".594" stop-color="#cdcdcd"/><stop offset=".611" stop-color="#bbb"/><stop offset=".632" stop-color="#9d9d9d"/><stop offset=".669" stop-color="#585858"/><stop offset=".689" stop-color="#383838"/><stop offset=".71" stop-color="#1f1f1f"/><stop offset=".733" stop-color="#0e0e0e"/><stop offset=".776" stop-color="#060606"/><stop offset="1" stop-color="#050505"/></linearGradient>
<linearGradient id="b63" x2="0" y2="1"><stop offset="0" stop-color="#050505"/><stop offset=".351" stop-color="#050505"/><stop offset=".403" stop-color="#070707"/><stop offset=".426" stop-color="#0b0b0b"/><stop offset=".449" stop-color="#191919"/><stop offset=".473" stop-color="#333"/><stop offset=".493" stop-color="#525252"/><stop offset=".533" stop-color="#9a9a9a"/><stop offset=".553" stop-color="#b7b7b7"/><stop offset=".571" stop-color="#c8c8c8"/><stop offset=".588" stop-color="#cdcdcd"/><stop offset=".605" stop-color="#c8c8c8"/><stop offset=".623" stop-color="#b8b8b8"/><stop offset=".64" stop-color="#9f9f9f"/><stop offset=".684" stop-color="#545454"/><stop offset=".704" stop-color="#363636"/><stop offset=".724" stop-color="#1f1f1f"/><stop offset=".747" stop-color="#0f0f0f"/><stop offset=".793" stop-color="#060606"/><stop offset="1" stop-color="#050505"/></linearGradient>
<linearGradient id="b64" x2="0" y2="1"><stop offset="0" stop-color="#040404"/><stop offset=".351" stop-color="#050505"/><stop offset=".435" stop-color="#0a0a0a"/><stop offset=".461" stop-color="#181818"/><stop offset=".484" stop-color="#313131"/><stop offset=".504" stop-color="#4e4e4e"/><stop offset=".548" stop-color="#969696"/><stop offset=".568" stop-color="#b1b1b1"/><stop offset=".585" stop-color="#c0c0c0"/><stop offset=".603" stop-color="#c5c5c5"/><stop offset=".623" stop-color="#bfbfbf"/><stop offset=".643" stop-color="#adadad"/><stop offset=".666" stop-color="#8e8e8e"/><stop offset=".727" stop-color="#303030"/><stop offset=".747" stop-color="#191919"/><stop offset=".764" stop-color="#0d0d0d"/><stop offset=".805" stop-color="#070707"/><stop offset="1" stop-color="#050505"/></linearGradient>
<linearGradient id="b65" x2="0" y2="1"><stop offset="0" stop-color="#040404"/><stop offset=".368" stop-color="#050505"/><stop offset=".426" stop-color="#060606"/><stop offset=".452" stop-color="#0b0b0b"/><stop offset=".475" stop-color="#171717"/><stop offset=".496" stop-color="#2b2b2b"/><stop offset=".519" stop-color="#4c4c4c"/><stop offset=".565" stop-color="#9f9f9f"/><stop offset=".582" stop-color="#bababa"/><stop offset=".603" stop-color="#d1d1d1"/><stop offset=".623" stop-color="#d9d9d9"/><stop offset=".64" stop-color="#d2d2d2"/><stop offset=".66" stop-color="#bbb"/><stop offset=".678" stop-color="#9d9d9d"/><stop offset=".73" stop-color="#343434"/><stop offset=".747" stop-color="#1c1c1c"/><stop offset=".764" stop-color="#0d0d0d"/><stop offset=".779" stop-color="#080808"/><stop offset=".808" stop-color="#060606"/><stop offset="1" stop-color="#040404"/></linearGradient>
<linearGradient id="b66" x2="0" y2="1"><stop offset="0" stop-color="#040404"/><stop offset=".374" stop-color="#040404"/><stop offset=".432" stop-color="#060606"/><stop offset=".458" stop-color="#0b0b0b"/><stop offset=".481" stop-color="#181818"/><stop offset=".504" stop-color="#313131"/><stop offset=".527" stop-color="#565656"/><stop offset=".568" stop-color="#a5a5a5"/><stop offset=".585" stop-color="#c3c3c3"/><stop offset=".605" stop-color="#dcdcdc"/><stop offset=".623" stop-color="#e4e4e4"/><stop offset=".64" stop-color="#ddd"/><stop offset=".658" stop-color="#c9c9c9"/><stop offset=".675" stop-color="#aaa"/><stop offset=".712" stop-color="#555"/><stop offset=".727" stop-color="#383838"/><stop offset=".744" stop-color="#1e1e1e"/><stop offset=".762" stop-color="#0e0e0e"/><stop offset=".776" stop-color="#090909"/><stop offset=".802" stop-color="#060606"/><stop offset="1" stop-color="#040404"/></linearGradient>
<linearGradient id="b67" x2="0" y2="1"><stop offset="0" stop-color="#040404"/><stop offset=".363" stop-color="#050505"/><stop offset=".418" stop-color="#070707"/><stop offset=".441" stop-color="#0b0b0b"/><stop offset=".467" stop-color="#1a1a1a"/><stop offset=".49" stop-color="#323232"/><stop offset=".51" stop-color="#505050"/><stop offset=".553" stop-color="#989898"/><stop offset=".574" stop-color="#b4b4b4"/><stop offset=".594" stop-color="#c6c6c6"/><stop offset=".611" stop-color="#cbcbcb"/><stop offset=".632" stop-color="#c5c5c5"/><stop offset=".655" stop-color="#afafaf"/><stop offset=".678" stop-color="#8d8d8d"/><stop offset=".73" stop-color="#323232"/><stop offset=".747" stop-color="#1c1c1c"/><stop offset=".764" stop-color="#0e0e0e"/><stop offset=".805" stop-color="#070707"/><stop offset="1" stop-color="#040404"/></linearGradient>
<linearGradient id="b68" x2="0" y2="1"><stop offset="0" stop-color="#050505"/><stop offset=".342" stop-color="#050505"/><stop offset=".426" stop-color="#0a0a0a"/><stop offset=".449" stop-color="#171717"/><stop offset=".473" stop-color="#2f2f2f"/><stop offset=".493" stop-color="#4d4d4d"/><stop offset=".539" stop-color="#9d9d9d"/><stop offset=".556" stop-color="#b5b5b5"/><stop offset=".574" stop-color="#c5c5c5"/><stop offset=".591" stop-color="#cbcbcb"/><stop offset=".608" stop-color="#c6c6c6"/><stop offset=".626" stop-color="#b7b7b7"/><stop offset=".646" stop-color="#9b9b9b"/><stop offset=".689" stop-color="#555"/><stop offset=".71" stop-color="#383838"/><stop offset=".733" stop-color="#1e1e1e"/><stop offset=".756" stop-color="#0e0e0e"/><stop offset=".802" stop-color="#060606"/><stop offset="1" stop-color="#050505"/></linearGradient>
<linearGradient id="b69" x2="0" y2="1"><stop offset="0" stop-color="#050505"/><stop offset=".342" stop-color="#050505"/><stop offset=".395" stop-color="#070707"/><stop offset=".418" stop-color="#0b0b0b"/><stop offset=".441" stop-color="#191919"/><stop offset=".464" stop-color="#333"/><stop offset=".484" stop-color="#535353"/><stop offset=".527" stop-color="#a1a1a1"/><stop offset=".545" stop-color="#bbb"/><stop offset=".562" stop-color="#ccc"/><stop offset=".579" stop-color="#d2d2d2"/><stop offset=".597" stop-color="#cdcdcd"/><stop offset=".614" stop-color="#bcbcbc"/><stop offset=".634" stop-color="#9e9e9e"/><stop offset=".692" stop-color="#393939"/><stop offset=".715" stop-color="#1d1d1d"/><stop offset=".736" stop-color="#0f0f0f"/><stop offset=".756" stop-color="#080808"/><stop offset=".782" stop-color="#060606"/><stop offset="1" stop-color="#050505"/></linearGradient>
<linearGradient id="b70" x2="0" y2="1"><stop offset="0" stop-color="#050505"/><stop offset=".331" stop-color="#050505"/><stop offset=".383" stop-color="#070707"/><stop offset=".406" stop-color="#0b0b0b"/><stop offset=".429" stop-color="#191919"/><stop offset=".452" stop-color="#343434"/><stop offset=".473" stop-color="#545454"/><stop offset=".516" stop-color="#a3a3a3"/><stop offset=".533" stop-color="#bdbdbd"/><stop offset=".551" stop-color="#cecece"/><stop offset=".568" stop-color="#d4d4d4"/><stop offset=".585" stop-color="#cfcfcf"/><stop offset=".603" stop-color="#bebebe"/><stop offset=".623" stop-color="#a0a0a0"/><stop offset=".663" stop-color="#565656"/><stop offset=".684" stop-color="#353535"/><stop offset=".704" stop-color="#1d1d1d"/><stop offset=".724" stop-color="#0e0e0e"/><stop offset=".764" stop-color="#060606"/><stop offset="1" stop-color="#050505"/></linearGradient>
<linearGradient id="b71" x2="0" y2="1"><stop offset="0" stop-color="#050505"/><stop offset=".322" stop-color="#050505"/><stop offset=".395" stop-color="#0b0b0b"/><stop offset=".418" stop-color="#191919"/><stop offset=".441" stop-color="#333"/><stop offset=".461" stop-color="#545454"/><stop offset=".504" stop-color="#a3a3a3"/><stop offset=".522" stop-color="#bdbdbd"/><stop offset=".539" stop-color="#cfcfcf"/><stop offset=".556" stop-color="#d5d5d5"/><stop offset=".574" stop-color="#d0d0d0"/><stop offset=".591" stop-color="#bfbfbf"/><stop offset=".611" stop-color="#a1a1a1"/><stop offset=".652" stop-color="#565656"/><stop offset=".672" stop-color="#363636"/><stop offset=".692" stop-color="#1d1d1d"/><stop offset=".715" stop-color="#0d0d0d"/><stop offset=".759" stop-color="#060606"/><stop offset="1" stop-color="#050505"/></linearGradient>
<linearGradient id="b72" x2="0" y2="1"><stop offset="0" stop-color="#050505"/><stop offset=".319" stop-color="#060606"/><stop offset=".366" stop-color="#070707"/><stop offset=".386" stop-color="#0c0c0c"/><stop offset=".409" stop-color="#1b1b1b"/><stop offset=".432" stop-color="#373737"/><stop offset=".452" stop-color="#585858"/><stop offset=".493" stop-color="#a3a3a3"/><stop offset=".51" stop-color="#bebebe"/><stop offset=".527" stop-color="#d0d0d0"/><stop offset=".545" stop-color="#d7d7d7"/><stop offset=".562" stop-color="#d2d2d2"/><stop offset=".579" stop-color="#c1c1c1"/><stop offset=".6" stop-color="#a3a3a3"/><stop offset=".64" stop-color="#585858"/><stop offset=".66" stop-color="#373737"/><stop offset=".681" stop-color="#1e1e1e"/><stop offset=".704" stop-color="#0d0d0d"/><stop offset=".75" stop-color="#060606"/><stop offset="1" stop-color="#050505"/></linearGradient>
<linearGradient id="b73" x2="0" y2="1"><stop offset="0" stop-color="#050505"/><stop offset=".311" stop-color="#060606"/><stop offset=".354" stop-color="#070707"/><stop offset=".374" stop-color="#0c0c0c"/><stop offset=".397" stop-color="#1b1b1b"/><stop offset=".421" stop-color="#363636"/><stop offset=".441" stop-color="#585858"/><stop offset=".481" stop-color="#a4a4a4"/><stop offset=".501" stop-color="#c3c3c3"/><stop offset=".519" stop-color="#d4d4d4"/><stop offset=".536" stop-color="#d9d9d9"/><stop offset=".553" stop-color="#d2d2d2"/><stop offset=".571" stop-color="#c0c0c0"/><stop offset=".588" stop-color="#a5a5a5"/><stop offset=".629" stop-color="#595959"/><stop offset=".649" stop-color="#373737"/><stop offset=".669" stop-color="#1e1e1e"/><stop offset=".692" stop-color="#0d0d0d"/><stop offset=".738" stop-color="#060606"/><stop offset="1" stop-color="#050505"/></linearGradient>
<linearGradient id="b74" x2="0" y2="1"><stop offset="0" stop-color="#050505"/><stop offset=".308" stop-color="#060606"/><stop offset=".366" stop-color="#0c0c0c"/><stop offset=".389" stop-color="#1b1b1b"/><stop offset=".412" stop-color="#383838"/><stop offset=".432" stop-color="#5a5a5a"/><stop offset=".473" stop-color="#a9a9a9"/><stop offset=".49" stop-color="#c4c4c4"/><stop offset=".507" stop-color="#d7d7d7"/><stop offset=".525" stop-color="#ddd"/><stop offset=".542" stop-color="#d7d7d7"/><stop offset=".559" stop-color="#c5c5c5"/><stop offset=".577" stop-color="#aaa"/><stop offset=".62" stop-color="#565656"/><stop offset=".637" stop-color="#393939"/><stop offset=".658" stop-color="#1f1f1f"/><stop offset=".681" stop-color="#0e0e0e"/><stop offset=".698" stop-color="#080808"/><stop offset=".73" stop-color="#060606"/><stop offset="1" stop-color="#050505"/></linearGradient>
<linearGradient id="b75" x2="0" y2="1"><stop offset="0" stop-color="#050505"/><stop offset=".314" stop-color="#060606"/><stop offset=".36" stop-color="#0c0c0c"/><stop offset=".383" stop-color="#1d1d1d"/><stop offset=".403" stop-color="#363636"/><stop offset=".423" stop-color="#595959"/><stop offset=".464" stop-color="#aaa"/><stop offset=".484" stop-color="#cbcbcb"/><stop offset=".501" stop-color="#dcdcdc"/><stop offset=".516" stop-color="#e1e1e1"/><stop offset=".533" stop-color="#dbdbdb"/><stop offset=".551" stop-color="#c9c9c9"/><stop offset=".568" stop-color="#adadad"/><stop offset=".608" stop-color="#5c5c5c"/><stop offset=".629" stop-color="#383838"/><stop offset=".649" stop-color="#1e1e1e"/><stop offset=".672" stop-color="#0d0d0d"/><stop offset=".692" stop-color="#080808"/><stop offset=".73" stop-color="#060606"/><stop offset="1" stop-color="#050505"/></linearGradient>
<linearGradient id="b76" x2="0" y2="1"><stop offset="0" stop-color="#050505"/><stop offset=".319" stop-color="#070707"/><stop offset=".354" stop-color="#0c0c0c"/><stop offset=".377" stop-color="#1c1c1c"/><stop offset=".397" stop-color="#363636"/><stop offset=".418" stop-color="#5b5b5b"/><stop offset=".458" stop-color="#aeaeae"/><stop offset=".478" stop-color="#d0d0d0"/><stop offset=".496" stop-color="#e2e2e2"/><stop offset=".51" stop-color="#e6e6e6"/><stop offset=".527" stop-color="#dfdfdf"/><stop offset=".545" stop-color="#ccc"/><stop offset=".562" stop-color="#aeaeae"/><stop offset=".603" stop-color="#5a5a5a"/><stop offset=".62" stop-color="#3b3b3b"/><stop offset=".64" stop-color="#1f1f1f"/><stop offset=".663" stop-color="#0d0d0d"/><stop offset=".684" stop-color="#080808"/><stop offset=".724" stop-color="#060606"/><stop offset="1" stop-color="#050505"/></linearGradient>
<linearGradient id="b77" x2="0" y2="1"><stop offset="0" stop-color="#050505"/><stop offset=".322" stop-color="#070707"/><stop offset=".351" stop-color="#0d0d0d"/><stop offset=".374" stop-color="#1e1e1e"/><stop offset=".395" stop-color="#3a3a3a"/><stop offset=".415" stop-color="#606060"/><stop offset=".455" stop-color="#b6b6b6"/><stop offset=".473" stop-color="#d3d3d3"/><stop offset=".49" stop-color="#e6e6e6"/><stop offset=".504" stop-color="#ececec"/><stop offset=".522" stop-color="#e5e5e5"/><stop offset=".539" stop-color="#d1d1d1"/><stop offset=".556" stop-color="#b2b2b2"/><stop offset=".597" stop-color="#5c5c5c"/><stop offset=".614" stop-color="#3b3b3b"/><stop offset=".634" stop-color="#1f1f1f"/><stop offset=".658" stop-color="#0d0d0d"/><stop offset=".678" stop-color="#080808"/><stop offset=".724" stop-color="#060606"/><stop offset="1" stop-color="#050505"/></linearGradient>
<linearGradient id="b78" x2="0" y2="1"><stop offset="0" stop-color="#050505"/><stop offset=".201" stop-color="#050505"/><stop offset=".328" stop-color="#080808"/><stop offset=".348" stop-color="#0d0d0d"/><stop offset=".371" stop-color="#1f1f1f"/><stop offset=".392" stop-color="#3c3c3c"/><stop offset=".409" stop-color="#5d5d5d"/><stop offset=".449" stop-color="#b5b5b5"/><stop offset=".47" stop-color="#d9d9d9"/><stop offset=".487" stop-color="#ececec"/><stop offset=".501" stop-color="#f1f1f1"/><stop offset=".516" stop-color="#ebebeb"/><stop offset=".533" stop-color="#d7d7d7"/><stop offset=".551" stop-color="#b9b9b9"/><stop offset=".591" stop-color="#606060"/><stop offset=".611" stop-color="#393939"/><stop offset=".632" stop-color="#1e1e1e"/><stop offset=".652" stop-color="#0e0e0e"/><stop offset=".672" stop-color="#080808"/><stop offset=".718" stop-color="#060606"/><stop offset="1" stop-color="#050505"/></linearGradient>
<linearGradient id="b79" x2="0" y2="1"><stop offset="0" stop-color="#050505"/><stop offset=".198" stop-color="#050505"/><stop offset=".27" stop-color="#0a0a0a"/><stop offset=".325" stop-color="#090909"/><stop offset=".345" stop-color="#0d0d0d"/><stop offset=".368" stop-color="#202020"/><stop offset=".389" stop-color="#3d3d3d"/><stop offset=".406" stop-color="#5f5f5f"/><stop offset=".447" stop-color="#b9b9b9"/><stop offset=".464" stop-color="#d9d9d9"/><stop offset=".481" stop-color="#eee"/><stop offset=".499" stop-color="#f5f5f5"/><stop offset=".513" stop-color="#efefef"/><stop offset=".53" stop-color="#dadada"/><stop offset=".548" stop-color="#bbb"/><stop offset=".588" stop-color="#606060"/><stop offset=".605" stop-color="#3e3e3e"/><stop offset=".626" stop-color="#212121"/><stop offset=".649" stop-color="#0d0d0d"/><stop offset=".669" stop-color="#080808"/><stop offset=".718" stop-color="#060606"/><stop offset="1" stop-color="#050505"/></linearGradient>
<linearGradient id="b80" x2="0" y2="1"><stop offset="0" stop-color="#050505"/><stop offset=".195" stop-color="#050505"/><stop offset=".267" stop-color="#0c0c0c"/><stop offset=".325" stop-color="#090909"/><stop offset=".342" stop-color="#0d0d0d"/><stop offset=".366" stop-color="#202020"/><stop offset=".386" stop-color="#3d3d3d"/><stop offset=".403" stop-color="#5f5f5f"/><stop offset=".444" stop-color="#bbb"/><stop offset=".464" stop-color="#e0e0e0"/><stop offset=".481" stop-color="#f3f3f3"/><stop offset=".496" stop-color="#f8f8f8"/><stop offset=".51" stop-color="#f2f2f2"/><stop offset=".527" stop-color="#dedede"/><stop offset=".545" stop-color="#bebebe"/><stop offset=".585" stop-color="#626262"/><stop offset=".603" stop-color="#404040"/><stop offset=".623" stop-color="#212121"/><stop offset=".646" stop-color="#0e0e0e"/><stop offset=".666" stop-color="#080808"/><stop offset=".715" stop-color="#060606"/><stop offset="1" stop-color="#050505"/></linearGradient>
<linearGradient id="b81" x2="0" y2="1"><stop offset="0" stop-color="#050505"/><stop offset=".195" stop-color="#050505"/><stop offset=".267" stop-color="#0d0d0d"/><stop offset=".325" stop-color="#0a0a0a"/><stop offset=".342" stop-color="#0e0e0e"/><stop offset=".363" stop-color="#1f1f1f"/><stop offset=".383" stop-color="#3c3c3c"/><stop offset=".403" stop-color="#656565"/><stop offset=".444" stop-color="#c1c1c1"/><stop offset=".461" stop-color="#e1e1e1"/><stop offset=".478" stop-color="#f5f5f5"/><stop offset=".493" stop-color="#fbfbfb"/><stop offset=".507" stop-color="#f6f6f6"/><stop offset=".525" stop-color="#e2e2e2"/><stop offset=".542" stop-color="#c2c2c2"/><stop offset=".582" stop-color="#656565"/><stop offset=".603" stop-color="#3d3d3d"/><stop offset=".623" stop-color="#1f1f1f"/><stop offset=".646" stop-color="#0d0d0d"/><stop offset=".666" stop-color="#080808"/><stop offset=".718" stop-color="#060606"/><stop offset="1" stop-color="#050505"/></linearGradient>
<linearGradient id="b82" x2="0" y2="1"><stop offset="0" stop-color="#050505"/><stop offset=".195" stop-color="#050505"/><stop offset=".267" stop-color="#0d0d0d"/><stop offset=".325" stop-color="#0a0a0a"/><stop offset=".342" stop-color="#0f0f0f"/><stop offset=".363" stop-color="#202020"/><stop offset=".383" stop-color="#3d3d3d"/><stop offset=".4" stop-color="#606060"/><stop offset=".444" stop-color="#c3c3c3"/><stop offset=".461" stop-color="#e3e3e3"/><stop offset=".478" stop-color="#f7f7f7"/><stop offset=".493" stop-color="#fcfcfc"/><stop offset=".507" stop-color="#f6f6f6"/><stop offset=".525" stop-color="#e2e2e2"/><stop offset=".542" stop-color="#c1c1c1"/><stop offset=".582" stop-color="#646464"/><stop offset=".603" stop-color="#3c3c3c"/><stop offset=".623" stop-color="#1f1f1f"/><stop offset=".646" stop-color="#0d0d0d"/><stop offset=".666" stop-color="#080808"/><stop offset=".721" stop-color="#060606"/><stop offset="1" stop-color="#050505"/></linearGradient>
<linearGradient id="b83" x2="0" y2="1"><stop offset="0" stop-color="#050505"/><stop offset=".195" stop-color="#050505"/><stop offset=".267" stop-color="#0c0c0c"/><stop offset=".325" stop-color="#090909"/><stop offset=".342" stop-color="#0e0e0e"/><stop offset=".363" stop-color="#1e1e1e"/><stop offset=".383" stop-color="#3b3b3b"/><stop offset=".403" stop-color="#646464"/><stop offset=".444" stop-color="#c0c0c0"/><stop offset=".461" stop-color="#e0e0e0"/><stop offset=".478" stop-color="#f5f5f5"/><stop offset=".493" stop-color="#fafafa"/><stop offset=".507" stop-color="#f5f5f5"/><stop offset=".525" stop-color="#e2e2e2"/><stop offset=".545" stop-color="#bcbcbc"/><stop offset=".582" stop-color="#666"/><stop offset=".603" stop-color="#3d3d3d"/><stop offset=".623" stop-color="#202020"/><stop offset=".646" stop-color="#0d0d0d"/><stop offset=".666" stop-color="#080808"/><stop offset=".718" stop-color="#060606"/><stop offset="1" stop-color="#050505"/></linearGradient>
<linearGradient id="b84" x2="0" y2="1"><stop offset="0" stop-color="#050505"/><stop offset=".198" stop-color="#050505"/><stop offset=".267" stop-color="#0b0b0b"/><stop offset=".325" stop-color="#090909"/><stop offset=".345" stop-color="#0e0e0e"/><stop offset=".366" stop-color="#1f1f1f"/><stop offset=".386" stop-color="#3c3c3c"/><stop offset=".403" stop-color="#5e5e5e"/><stop offset=".447" stop-color="#c0c0c0"/><stop offset=".464" stop-color="#dfdfdf"/><stop offset=".481" stop-color="#f3f3f3"/><stop offset=".496" stop-color="#f8f8f8"/><stop offset=".51" stop-color="#f2f2f2"/><stop offset=".527" stop-color="#dedede"/><stop offset=".545" stop-color="#bebebe"/><stop offset=".585" stop-color="#636363"/><stop offset=".605" stop-color="#3b3b3b"/><stop offset=".626" stop-color="#1e1e1e"/><stop offset=".649" stop-color="#0c0c0c"/><stop offset=".669" stop-color="#080808"/><stop offset=".724" stop-color="#060606"/><stop offset="1" stop-color="#050505"/></linearGradient>
<linearGradient id="b85" x2="0" y2="1"><stop offset="0" stop-color="#050505"/><stop offset=".201" stop-color="#050505"/><stop offset=".325" stop-color="#080808"/><stop offset=".345" stop-color="#0d0d0d"/><stop offset=".368" stop-color="#1f1f1f"/><stop offset=".389" stop-color="#3c3c3c"/><stop offset=".409" stop-color="#646464"/><stop offset=".447" stop-color="#b7b7b7"/><stop offset=".467" stop-color="#dcdcdc"/><stop offset=".484" stop-color="#efefef"/><stop offset=".499" stop-color="#f4f4f4"/><stop offset=".513" stop-color="#eee"/><stop offset=".53" stop-color="#dbdbdb"/><stop offset=".548" stop-color="#bbb"/><stop offset=".588" stop-color="#626262"/><stop offset=".608" stop-color="#3a3a3a"/><stop offset=".629" stop-color="#1e1e1e"/><stop offset=".652" stop-color="#0c0c0c"/><stop offset=".672" stop-color="#080808"/><stop offset=".724" stop-color="#060606"/><stop offset="1" stop-color="#050505"/></linearGradient>
<linearGradient id="b86" x2="0" y2="1"><stop offset="0" stop-color="#050505"/><stop offset=".322" stop-color="#080808"/><stop offset=".348" stop-color="#0d0d0d"/><stop offset=".371" stop-color="#1f1f1f"/><stop offset=".392" stop-color="#3b3b3b"/><stop offset=".412" stop-color="#626262"/><stop offset=".449" stop-color="#b4b4b4"/><stop offset=".47" stop-color="#d8d8d8"/><stop offset=".487" stop-color="#ebebeb"/><stop offset=".501" stop-color="#f0f0f0"/><stop offset=".516" stop-color="#ebebeb"/><stop offset=".533" stop-color="#d8d8d8"/><stop offset=".553" stop-color="#b4b4b4"/><stop offset=".591" stop-color="#626262"/><stop offset=".611" stop-color="#3b3b3b"/><stop offset=".632" stop-color="#1f1f1f"/><stop offset=".655" stop-color="#0d0d0d"/><stop offset=".675" stop-color="#080808"/><stop offset=".724" stop-color="#060606"/><stop offset="1" stop-color="#050505"/></linearGradient>
<linearGradient id="b87" x2="0" y2="1"><stop offset="0" stop-color="#050505"/><stop offset=".319" stop-color="#070707"/><stop offset=".351" stop-color="#0d0d0d"/><stop offset=".374" stop-color="#1e1e1e"/><stop offset=".395" stop-color="#393939"/><stop offset=".415" stop-color="#5f5f5f"/><stop offset=".455" stop-color="#b4b4b4"/><stop offset=".473" stop-color="#d2d2d2"/><stop offset=".49" stop-color="#e5e5e5"/><stop offset=".504" stop-color="#ebebeb"/><stop offset=".522" stop-color="#e5e5e5"/><stop offset=".539" stop-color="#d1d1d1"/><stop offset=".556" stop-color="#b4b4b4"/><stop offset=".597" stop-color="#5f5f5f"/><stop offset=".617" stop-color="#393939"/><stop offset=".637" stop-color="#1e1e1e"/><stop offset=".66" stop-color="#0d0d0d"/><stop offset=".681" stop-color="#080808"/><stop offset=".727" stop-color="#060606"/><stop offset="1" stop-color="#050505"/></linearGradient>
<linearGradient id="b88" x2="0" y2="1"><stop offset="0" stop-color="#050505"/><stop offset=".311" stop-color="#070707"/><stop offset=".354" stop-color="#0c0c0c"/><stop offset=".377" stop-color="#1c1c1c"/><stop offset=".397" stop-color="#363636"/><stop offset=".418" stop-color="#5a5a5a"/><stop offset=".461" stop-color="#b2b2b2"/><stop offset=".478" stop-color="#cecece"/><stop offset=".496" stop-color="#e0e0e0"/><stop offset=".51" stop-color="#e5e5e5"/><stop offset=".527" stop-color="#dfdfdf"/><stop offset=".545" stop-color="#cdcdcd"/><stop offset=".562" stop-color="#b0b0b0"/><stop offset=".603" stop-color="#5e5e5e"/><stop offset=".623" stop-color="#3a3a3a"/><stop offset=".643" stop-color="#1f1f1f"/><stop offset=".666" stop-color="#0d0d0d"/><stop offset=".686" stop-color="#080808"/><stop offset=".727" stop-color="#060606"/><stop offset="1" stop-color="#050505"/></linearGradient>
<linearGradient id="b89" x2="0" y2="1"><stop offset="0" stop-color="#050505"/><stop offset=".305" stop-color="#060606"/><stop offset=".342" stop-color="#080808"/><stop offset=".36" stop-color="#0c0c0c"/><stop offset=".383" stop-color="#1c1c1c"/><stop offset=".403" stop-color="#353535"/><stop offset=".423" stop-color="#585858"/><stop offset=".467" stop-color="#adadad"/><stop offset=".484" stop-color="#c9c9c9"/><stop offset=".501" stop-color="#dbdbdb"/><stop offset=".519" stop-color="#e1e1e1"/><stop offset=".536" stop-color="#d9d9d9"/><stop offset=".553" stop-color="#c7c7c7"/><stop offset=".571" stop-color="#aaa"/><stop offset=".611" stop-color="#5b5b5b"/><stop offset=".632" stop-color="#383838"/><stop offset=".652" stop-color="#1e1e1e"/><stop offset=".675" stop-color="#0d0d0d"/><stop offset=".695" stop-color="#080808"/><stop offset=".73" stop-color="#060606"/><stop offset="1" stop-color="#050505"/></linearGradient>
<linearGradient id="b90" x2="0" y2="1"><stop offset="0" stop-color="#050505"/><stop offset=".311" stop-color="#060606"/><stop offset=".348" stop-color="#070707"/><stop offset=".368" stop-color="#0d0d0d"/><stop offset=".392" stop-color="#1d1d1d"/><stop offset=".412" stop-color="#363636"/><stop offset=".432" stop-color="#575757"/><stop offset=".473" stop-color="#a5a5a5"/><stop offset=".493" stop-color="#c5c5c5"/><stop offset=".51" stop-color="#d6d6d6"/><stop offset=".527" stop-color="#dcdcdc"/><stop offset=".545" stop-color="#d6d6d6"/><stop offset=".562" stop-color="#c4c4c4"/><stop offset=".579" stop-color="#a8a8a8"/><stop offset=".62" stop-color="#5b5b5b"/><stop offset=".64" stop-color="#393939"/><stop offset=".66" stop-color="#1f1f1f"/><stop offset=".684" stop-color="#0e0e0e"/><stop offset=".704" stop-color="#080808"/><stop offset=".733" stop-color="#060606"/><stop offset="1" stop-color="#050505"/></linearGradient>
<linearGradient id="b91" x2="0" y2="1"><stop offset="0" stop-color="#050505"/><stop offset=".311" stop-color="#060606"/><stop offset=".357" stop-color="#070707"/><stop offset=".377" stop-color="#0c0c0c"/><stop offset=".4" stop-color="#1b1b1b"/><stop offset=".423" stop-color="#373737"/><stop offset=".444" stop-color="#585858"/><stop offset=".484" stop-color="#a4a4a4"/><stop offset=".504" stop-color="#c3c3c3"/><stop offset=".522" stop-color="#d3d3d3"/><stop offset=".539" stop-color="#d8d8d8"/><stop offset=".556" stop-color="#d2d2d2"/><stop offset=".574" stop-color="#c0c0c0"/><stop offset=".591" stop-color="#a5a5a5"/><stop offset=".632" stop-color="#595959"/><stop offset=".652" stop-color="#383838"/><stop offset=".672" stop-color="#1f1f1f"/><stop offset=".695" stop-color="#0e0e0e"/><stop offset=".712" stop-color="#080808"/><stop offset=".741" stop-color="#060606"/><stop offset="1" stop-color="#050505"/></linearGradient>
<linearGradient id="b92" x2="0" y2="1"><stop offset="0" stop-color="#050505"/><stop offset=".319" stop-color="#050505"/><stop offset=".368" stop-color="#070707"/><stop offset=".389" stop-color="#0c0c0c"/><stop offset=".412" stop-color="#1b1b1b"/><stop offset=".435" stop-color="#363636"/><stop offset=".455" stop-color="#575757"/><stop offset=".496" stop-color="#a1a1a1"/><stop offset=".516" stop-color="#c0c0c0"/><stop offset=".533" stop-color="#d0d0d0"/><stop offset=".551" stop-color="#d6d6d6"/><stop offset=".568" stop-color="#cfcfcf"/><stop offset=".585" stop-color="#bebebe"/><stop offset=".605" stop-color="#9f9f9f"/><stop offset=".643" stop-color="#595959"/><stop offset=".663" stop-color="#383838"/><stop offset=".686" stop-color="#1c1c1c"/><stop offset=".707" stop-color="#0e0e0e"/><stop offset=".75" stop-color="#060606"/><stop offset="1" stop-color="#050505"/></linearGradient>
<linearGradient id="b93" x2="0" y2="1"><stop offset="0" stop-color="#050505"/><stop offset=".328" stop-color="#050505"/><stop offset=".377" stop-color="#070707"/><stop offset=".4" stop-color="#0b0b0b"/><stop offset=".423" stop-color="#191919"/><stop offset=".447" stop-color="#333"/><stop offset=".467" stop-color="#535353"/><stop offset=".51" stop-color="#a2a2a2"/><stop offset=".527" stop-color="#bcbcbc"/><stop offset=".545" stop-color="#cecece"/><stop offset=".562" stop-color="#d4d4d4"/><stop offset=".579" stop-color="#cfcfcf"/><stop offset=".597" stop-color="#bfbfbf"/><stop offset=".617" stop-color="#a1a1a1"/><stop offset=".658" stop-color="#575757"/><stop offset=".678" stop-color="#363636"/><stop offset=".698" stop-color="#1e1e1e"/><stop offset=".721" stop-color="#0d0d0d"/><stop offset=".764" stop-color="#060606"/><stop offset="1" stop-color="#050505"/></linearGradient>
<linearGradient id="b94" x2="0" y2="1"><stop offset="0" stop-color="#050505"/><stop offset=".342" stop-color="#050505"/><stop offset=".392" stop-color="#070707"/><stop offset=".415" stop-color="#0c0c0c"/><stop offset=".438" stop-color="#1a1a1a"/><stop offset=".461" stop-color="#343434"/><stop offset=".481" stop-color="#545454"/><stop offset=".525" stop-color="#a2a2a2"/><stop offset=".542" stop-color="#bcbcbc"/><stop offset=".559" stop-color="#ccc"/><stop offset=".577" stop-color="#d2d2d2"/><stop offset=".594" stop-color="#cdcdcd"/><stop offset=".611" stop-color="#bcbcbc"/><stop offset=".632" stop-color="#9e9e9e"/><stop offset=".689" stop-color="#393939"/><stop offset=".712" stop-color="#1d1d1d"/><stop offset=".733" stop-color="#0f0f0f"/><stop offset=".753" stop-color="#080808"/><stop offset=".779" stop-color="#060606"/><stop offset="1" stop-color="#050505"/></linearGradient>
<linearGradient id="b95" x2="0" y2="1"><stop offset="0" stop-color="#050505"/><stop offset=".348" stop-color="#050505"/><stop offset=".426" stop-color="#0b0b0b"/><stop offset=".449" stop-color="#181818"/><stop offset=".473" stop-color="#313131"/><stop offset=".493" stop-color="#505050"/><stop offset=".536" stop-color="#9c9c9c"/><stop offset=".556" stop-color="#b8b8b8"/><stop offset=".574" stop-color="#c8c8c8"/><stop offset=".591" stop-color="#ccc"/><stop offset=".608" stop-color="#c6c6c6"/><stop offset=".626" stop-color="#b5b5b5"/><stop offset=".643" stop-color="#9d9d9d"/><stop offset=".704" stop-color="#3b3b3b"/><stop offset=".727" stop-color="#202020"/><stop offset=".75" stop-color="#101010"/><stop offset=".77" stop-color="#090909"/><stop offset=".796" stop-color="#060606"/><stop offset="1" stop-color="#050505"/></linearGradient>
<linearGradient id="b96" x2="0" y2="1"><stop offset="0" stop-color="#040404"/><stop offset=".357" stop-color="#050505"/><stop offset=".438" stop-color="#0b0b0b"/><stop offset=".461" stop-color="#171717"/><stop offset=".484" stop-color="#2e2e2e"/><stop offset=".504" stop-color="#4b4b4b"/><stop offset=".551" stop-color="#969696"/><stop offset=".571" stop-color="#b1b1b1"/><stop offset=".591" stop-color="#c2c2c2"/><stop offset=".608" stop-color="#c7c7c7"/><stop offset=".629" stop-color="#c2c2c2"/><stop offset=".652" stop-color="#adadad"/><stop offset=".675" stop-color="#8c8c8c"/><stop offset=".733" stop-color="#2d2d2d"/><stop offset=".75" stop-color="#191919"/><stop offset=".764" stop-color="#0e0e0e"/><stop offset=".805" stop-color="#070707"/><stop offset="1" stop-color="#050505"/></linearGradient>
<linearGradient id="b97" x2="0" y2="1"><stop offset="0" stop-color="#040404"/><stop offset=".368" stop-color="#050505"/><stop offset=".426" stop-color="#070707"/><stop offset=".449" stop-color="#0b0b0b"/><stop offset=".473" stop-color="#181818"/><stop offset=".499" stop-color="#333"/><stop offset=".522" stop-color="#555"/><stop offset=".571" stop-color="#a4a4a4"/><stop offset=".591" stop-color="#c0c0c0"/><stop offset=".608" stop-color="#d0d0d0"/><stop offset=".626" stop-color="#d6d6d6"/><stop offset=".643" stop-color="#d0d0d0"/><stop offset=".663" stop-color="#bababa"/><stop offset=".681" stop-color="#9c9c9c"/><stop offset=".718" stop-color="#4c4c4c"/><stop offset=".733" stop-color="#313131"/><stop offset=".75" stop-color="#1a1a1a"/><stop offset=".764" stop-color="#0e0e0e"/><stop offset=".779" stop-color="#090909"/><stop offset=".808" stop-color="#070707"/><stop offset="1" stop-color="#040404"/></linearGradient><linearGradient id="cb" x1="0" y1="0" x2="0" y2="1"><stop offset="0.0000" stop-color="#fff"/><stop offset="0.0250" stop-color="#ffffe6"/><stop offset="0.0500" stop-color="#ffffcd"/><stop offset="0.0750" stop-color="#ffffb4"/><stop offset="0.1000" stop-color="#ffff9b"/><stop offset="0.1250" stop-color="#ffff81"/><stop offset="0.1500" stop-color="#ffff68"/><stop offset="0.1750" stop-color="#ffff4f"/><stop offset="0.2000" stop-color="#ffff36"/><stop offset="0.2250" stop-color="#ffff1d"/><stop offset="0.2500" stop-color="#ffff04"/><stop offset="0.2750" stop-color="#fff100"/><stop offset="0.3000" stop-color="#ffe000"/><stop offset="0.3250" stop-color="#ffcf00"/><stop offset="0.3500" stop-color="#ffbf00"/><stop offset="0.3750" stop-color="#ffae00"/><stop offset="0.4000" stop-color="#ff9d00"/><stop offset="0.4250" stop-color="#ff8d00"/><stop offset="0.4500" stop-color="#ff7c00"/><stop offset="0.4750" stop-color="#ff6b00"/><stop offset="0.5000" stop-color="#ff5a00"/><stop offset="0.5250" stop-color="#ff4a00"/><stop offset="0.5500" stop-color="#ff3900"/><stop offset="0.5750" stop-color="#ff2800"/><stop offset="0.6000" stop-color="#ff1700"/><stop offset="0.6250" stop-color="#ff0700"/><stop offset="0.6500" stop-color="#f50000"/><stop offset="0.6750" stop-color="#e40000"/><stop offset="0.7000" stop-color="#d30000"/><stop offset="0.7250" stop-color="#c30000"/><stop offset="0.7500" stop-color="#b20000"/><stop offset="0.7750" stop-color="#a10000"/><stop offset="0.8000" stop-color="#900000"/><stop offset="0.8250" stop-color="#800000"/><stop offset="0.8500" stop-color="#6f0000"/><stop offset="0.8750" stop-color="#5e0000"/><stop offset="0.9000" stop-color="#4e0000"/><stop offset="0.9250" stop-color="#3d0000"/><stop offset="0.9500" stop-color="#2c0000"/><stop offset="0.9750" stop-color="#1b0000"/><stop offset="1.0000" stop-color="#0b0000"/></linearGradient></defs>
<rect width="617" height="250" fill="#fff"/>
<filter id="hot" filterUnits="userSpaceOnUse" x="0" y="0" width="617" height="250" color-interpolation-filters="sRGB"><feGaussianBlur stdDeviation="1.2 0"/><feComponentTransfer><feFuncR type="table" tableValues="0.0416 0.0833 0.1249 0.1666 0.2083 0.2499 0.2916 0.3333 0.375 0.4166 0.4583 0.5 0.5416 0.5833 0.625 0.6666 0.7083 0.75 0.7917 0.8333 0.875 0.9167 0.9583 1 1 1 1 1 1 1 1 1 1 1 1 1 1 1 1 1 1 1 1 1 1 1 1 1 1 1 1 1 1 1 1 1 1 1 1 1 1 1 1 1"/><feFuncG type="table" tableValues="0 0 0 0 0 0 0 0 0 0 0 0 0 0 0 0 0 0 0 0 0 0 0 0 0.0417 0.0833 0.125 0.1667 0.2083 0.25 0.2917 0.3333 0.375 0.4167 0.4583 0.5 0.5417 0.5833 0.625 0.6667 0.7083 0.75 0.7917 0.8333 0.875 0.9167 0.9583 1 1 1 1 1 1 1 1 1 1 1 1 1 1 1 1 1"/><feFuncB type="table" tableValues="0 0 0 0 0 0 0 0 0 0 0 0 0 0 0 0 0 0 0 0 0 0 0 0 0 0 0 0 0 0 0 0 0 0 0 0 0 0 0 0 0 0 0 0 0 0 0 0 0.0625 0.125 0.1875 0.25 0.3125 0.375 0.4375 0.5 0.5625 0.625 0.6875 0.75 0.8125 0.875 0.9375 1"/></feComponentTransfer></filter>
<clipPath id="clipA"><rect x="45.40" y="31.60" width="243.90" height="172.90"/></clipPath>
<g clip-path="url(#clipA)"><g filter="url(#hot)"><rect x="41.4" y="31.6" width="10.0" height="172.9" fill="url(#a0)"/>
<rect x="47.9" y="31.6" width="6.0" height="172.9" fill="url(#a1)"/>
<rect x="50.4" y="31.6" width="6.0" height="172.9" fill="url(#a2)"/>
<rect x="52.9" y="31.6" width="6.0" height="172.9" fill="url(#a3)"/>
<rect x="55.4" y="31.6" width="6.0" height="172.9" fill="url(#a4)"/>
<rect x="57.9" y="31.6" width="6.0" height="172.9" fill="url(#a5)"/>
<rect x="60.4" y="31.6" width="6.0" height="172.9" fill="url(#a6)"/>
<rect x="62.9" y="31.6" width="6.0" height="172.9" fill="url(#a7)"/>
<rect x="65.4" y="31.6" width="6.0" height="172.9" fill="url(#a8)"/>
<rect x="67.9" y="31.6" width="6.0" height="172.9" fill="url(#a9)"/>
<rect x="70.4" y="31.6" width="6.0" height="172.9" fill="url(#a10)"/>
<rect x="72.9" y="31.6" width="6.0" height="172.9" fill="url(#a11)"/>
<rect x="75.4" y="31.6" width="6.0" height="172.9" fill="url(#a12)"/>
<rect x="77.9" y="31.6" width="6.0" height="172.9" fill="url(#a13)"/>
<rect x="80.4" y="31.6" width="6.0" height="172.9" fill="url(#a14)"/>
<rect x="82.9" y="31.6" width="6.0" height="172.9" fill="url(#a15)"/>
<rect x="85.4" y="31.6" width="6.0" height="172.9" fill="url(#a16)"/>
<rect x="87.9" y="31.6" width="6.0" height="172.9" fill="url(#a17)"/>
<rect x="90.4" y="31.6" width="6.0" height="172.9" fill="url(#a18)"/>
<rect x="92.9" y="31.6" width="6.0" height="172.9" fill="url(#a19)"/>
<rect x="95.4" y="31.6" width="6.0" height="172.9" fill="url(#a20)"/>
<rect x="97.9" y="31.6" width="6.0" height="172.9" fill="url(#a21)"/>
<rect x="100.4" y="31.6" width="6.0" height="172.9" fill="url(#a22)"/>
<rect x="102.9" y="31.6" width="6.0" height="172.9" fill="url(#a23)"/>
<rect x="105.4" y="31.6" width="6.0" height="172.9" fill="url(#a24)"/>
<rect x="107.9" y="31.6" width="6.0" height="172.9" fill="url(#a25)"/>
<rect x="110.4" y="31.6" width="6.0" height="172.9" fill="url(#a26)"/>
<rect x="112.9" y="31.6" width="6.0" height="172.9" fill="url(#a27)"/>
<rect x="115.4" y="31.6" width="6.0" height="172.9" fill="url(#a28)"/>
<rect x="117.9" y="31.6" width="6.0" height="172.9" fill="url(#a29)"/>
<rect x="120.4" y="31.6" width="6.0" height="172.9" fill="url(#a30)"/>
<rect x="122.9" y="31.6" width="6.0" height="172.9" fill="url(#a31)"/>
<rect x="125.4" y="31.6" width="6.0" height="172.9" fill="url(#a32)"/>
<rect x="127.9" y="31.6" width="6.0" height="172.9" fill="url(#a33)"/>
<rect x="130.4" y="31.6" width="6.0" height="172.9" fill="url(#a34)"/>
<rect x="132.9" y="31.6" width="6.0" height="172.9" fill="url(#a35)"/>
<rect x="135.4" y="31.6" width="6.0" height="172.9" fill="url(#a36)"/>
<rect x="137.9" y="31.6" width="6.0" height="172.9" fill="url(#a37)"/>
<rect x="140.4" y="31.6" width="6.0" height="172.9" fill="url(#a38)"/>
<rect x="142.9" y="31.6" width="6.0" height="172.9" fill="url(#a39)"/>
<rect x="145.4" y="31.6" width="6.0" height="172.9" fill="url(#a40)"/>
<rect x="147.9" y="31.6" width="6.0" height="172.9" fill="url(#a41)"/>
<rect x="150.4" y="31.6" width="6.0" height="172.9" fill="url(#a42)"/>
<rect x="152.9" y="31.6" width="6.0" height="172.9" fill="url(#a43)"/>
<rect x="155.4" y="31.6" width="6.0" height="172.9" fill="url(#a44)"/>
<rect x="157.9" y="31.6" width="6.0" height="172.9" fill="url(#a45)"/>
<rect x="160.4" y="31.6" width="6.0" height="172.9" fill="url(#a46)"/>
<rect x="162.9" y="31.6" width="6.0" height="172.9" fill="url(#a47)"/>
<rect x="165.4" y="31.6" width="6.0" height="172.9" fill="url(#a48)"/>
<rect x="167.9" y="31.6" width="6.0" height="172.9" fill="url(#a49)"/>
<rect x="170.4" y="31.6" width="6.0" height="172.9" fill="url(#a50)"/>
<rect x="172.9" y="31.6" width="6.0" height="172.9" fill="url(#a51)"/>
<rect x="175.4" y="31.6" width="6.0" height="172.9" fill="url(#a52)"/>
<rect x="177.9" y="31.6" width="6.0" height="172.9" fill="url(#a53)"/>
<rect x="180.4" y="31.6" width="6.0" height="172.9" fill="url(#a54)"/>
<rect x="182.9" y="31.6" width="6.0" height="172.9" fill="url(#a55)"/>
<rect x="185.4" y="31.6" width="6.0" height="172.9" fill="url(#a56)"/>
<rect x="187.9" y="31.6" width="6.0" height="172.9" fill="url(#a57)"/>
<rect x="190.4" y="31.6" width="6.0" height="172.9" fill="url(#a58)"/>
<rect x="192.9" y="31.6" width="6.0" height="172.9" fill="url(#a59)"/>
<rect x="195.4" y="31.6" width="6.0" height="172.9" fill="url(#a60)"/>
<rect x="197.9" y="31.6" width="6.0" height="172.9" fill="url(#a61)"/>
<rect x="200.4" y="31.6" width="6.0" height="172.9" fill="url(#a62)"/>
<rect x="202.9" y="31.6" width="6.0" height="172.9" fill="url(#a63)"/>
<rect x="205.4" y="31.6" width="6.0" height="172.9" fill="url(#a64)"/>
<rect x="207.9" y="31.6" width="6.0" height="172.9" fill="url(#a65)"/>
<rect x="210.4" y="31.6" width="6.0" height="172.9" fill="url(#a66)"/>
<rect x="212.9" y="31.6" width="6.0" height="172.9" fill="url(#a67)"/>
<rect x="215.4" y="31.6" width="6.0" height="172.9" fill="url(#a68)"/>
<rect x="217.9" y="31.6" width="6.0" height="172.9" fill="url(#a69)"/>
<rect x="220.4" y="31.6" width="6.0" height="172.9" fill="url(#a70)"/>
<rect x="222.9" y="31.6" width="6.0" height="172.9" fill="url(#a71)"/>
<rect x="225.4" y="31.6" width="6.0" height="172.9" fill="url(#a72)"/>
<rect x="227.9" y="31.6" width="6.0" height="172.9" fill="url(#a73)"/>
<rect x="230.4" y="31.6" width="6.0" height="172.9" fill="url(#a74)"/>
<rect x="232.9" y="31.6" width="6.0" height="172.9" fill="url(#a75)"/>
<rect x="235.4" y="31.6" width="6.0" height="172.9" fill="url(#a76)"/>
<rect x="237.9" y="31.6" width="6.0" height="172.9" fill="url(#a77)"/>
<rect x="240.4" y="31.6" width="6.0" height="172.9" fill="url(#a78)"/>
<rect x="242.9" y="31.6" width="6.0" height="172.9" fill="url(#a79)"/>
<rect x="245.4" y="31.6" width="6.0" height="172.9" fill="url(#a80)"/>
<rect x="247.9" y="31.6" width="6.0" height="172.9" fill="url(#a81)"/>
<rect x="250.4" y="31.6" width="6.0" height="172.9" fill="url(#a82)"/>
<rect x="252.9" y="31.6" width="6.0" height="172.9" fill="url(#a83)"/>
<rect x="255.4" y="31.6" width="6.0" height="172.9" fill="url(#a84)"/>
<rect x="257.9" y="31.6" width="6.0" height="172.9" fill="url(#a85)"/>
<rect x="260.4" y="31.6" width="6.0" height="172.9" fill="url(#a86)"/>
<rect x="262.9" y="31.6" width="6.0" height="172.9" fill="url(#a87)"/>
<rect x="265.4" y="31.6" width="6.0" height="172.9" fill="url(#a88)"/>
<rect x="267.9" y="31.6" width="6.0" height="172.9" fill="url(#a89)"/>
<rect x="270.4" y="31.6" width="6.0" height="172.9" fill="url(#a90)"/>
<rect x="272.9" y="31.6" width="6.0" height="172.9" fill="url(#a91)"/>
<rect x="275.4" y="31.6" width="6.0" height="172.9" fill="url(#a92)"/>
<rect x="277.9" y="31.6" width="6.0" height="172.9" fill="url(#a93)"/>
<rect x="280.4" y="31.6" width="6.0" height="172.9" fill="url(#a94)"/>
<rect x="282.9" y="31.6" width="6.0" height="172.9" fill="url(#a95)"/>
<rect x="285.4" y="31.6" width="6.0" height="172.9" fill="url(#a96)"/>
<rect x="287.9" y="31.6" width="5.4" height="172.9" fill="url(#a97)"/></g></g>
<clipPath id="clipB"><rect x="296.40" y="31.60" width="243.50" height="172.90"/></clipPath>
<g clip-path="url(#clipB)"><g filter="url(#hot)"><rect x="292.4" y="31.6" width="10.0" height="172.9" fill="url(#b0)"/>
<rect x="298.9" y="31.6" width="6.0" height="172.9" fill="url(#b1)"/>
<rect x="301.4" y="31.6" width="6.0" height="172.9" fill="url(#b2)"/>
<rect x="303.9" y="31.6" width="6.0" height="172.9" fill="url(#b3)"/>
<rect x="306.4" y="31.6" width="6.0" height="172.9" fill="url(#b4)"/>
<rect x="308.9" y="31.6" width="6.0" height="172.9" fill="url(#b5)"/>
<rect x="311.4" y="31.6" width="6.0" height="172.9" fill="url(#b6)"/>
<rect x="313.9" y="31.6" width="6.0" height="172.9" fill="url(#b7)"/>
<rect x="316.4" y="31.6" width="6.0" height="172.9" fill="url(#b8)"/>
<rect x="318.9" y="31.6" width="6.0" height="172.9" fill="url(#b9)"/>
<rect x="321.4" y="31.6" width="6.0" height="172.9" fill="url(#b10)"/>
<rect x="323.9" y="31.6" width="6.0" height="172.9" fill="url(#b11)"/>
<rect x="326.4" y="31.6" width="6.0" height="172.9" fill="url(#b12)"/>
<rect x="328.9" y="31.6" width="6.0" height="172.9" fill="url(#b13)"/>
<rect x="331.4" y="31.6" width="6.0" height="172.9" fill="url(#b14)"/>
<rect x="333.9" y="31.6" width="6.0" height="172.9" fill="url(#b15)"/>
<rect x="336.4" y="31.6" width="6.0" height="172.9" fill="url(#b16)"/>
<rect x="338.9" y="31.6" width="6.0" height="172.9" fill="url(#b17)"/>
<rect x="341.4" y="31.6" width="6.0" height="172.9" fill="url(#b18)"/>
<rect x="343.9" y="31.6" width="6.0" height="172.9" fill="url(#b19)"/>
<rect x="346.4" y="31.6" width="6.0" height="172.9" fill="url(#b20)"/>
<rect x="348.9" y="31.6" width="6.0" height="172.9" fill="url(#b21)"/>
<rect x="351.4" y="31.6" width="6.0" height="172.9" fill="url(#b22)"/>
<rect x="353.9" y="31.6" width="6.0" height="172.9" fill="url(#b23)"/>
<rect x="356.4" y="31.6" width="6.0" height="172.9" fill="url(#b24)"/>
<rect x="358.9" y="31.6" width="6.0" height="172.9" fill="url(#b25)"/>
<rect x="361.4" y="31.6" width="6.0" height="172.9" fill="url(#b26)"/>
<rect x="363.9" y="31.6" width="6.0" height="172.9" fill="url(#b27)"/>
<rect x="366.4" y="31.6" width="6.0" height="172.9" fill="url(#b28)"/>
<rect x="368.9" y="31.6" width="6.0" height="172.9" fill="url(#b29)"/>
<rect x="371.4" y="31.6" width="6.0" height="172.9" fill="url(#b30)"/>
<rect x="373.9" y="31.6" width="6.0" height="172.9" fill="url(#b31)"/>
<rect x="376.4" y="31.6" width="6.0" height="172.9" fill="url(#b32)"/>
<rect x="378.9" y="31.6" width="6.0" height="172.9" fill="url(#b33)"/>
<rect x="381.4" y="31.6" width="6.0" height="172.9" fill="url(#b34)"/>
<rect x="383.9" y="31.6" width="6.0" height="172.9" fill="url(#b35)"/>
<rect x="386.4" y="31.6" width="6.0" height="172.9" fill="url(#b36)"/>
<rect x="388.9" y="31.6" width="6.0" height="172.9" fill="url(#b37)"/>
<rect x="391.4" y="31.6" width="6.0" height="172.9" fill="url(#b38)"/>
<rect x="393.9" y="31.6" width="6.0" height="172.9" fill="url(#b39)"/>
<rect x="396.4" y="31.6" width="6.0" height="172.9" fill="url(#b40)"/>
<rect x="398.9" y="31.6" width="6.0" height="172.9" fill="url(#b41)"/>
<rect x="401.4" y="31.6" width="6.0" height="172.9" fill="url(#b42)"/>
<rect x="403.9" y="31.6" width="6.0" height="172.9" fill="url(#b43)"/>
<rect x="406.4" y="31.6" width="6.0" height="172.9" fill="url(#b44)"/>
<rect x="408.9" y="31.6" width="6.0" height="172.9" fill="url(#b45)"/>
<rect x="411.4" y="31.6" width="6.0" height="172.9" fill="url(#b46)"/>
<rect x="413.9" y="31.6" width="6.0" height="172.9" fill="url(#b47)"/>
<rect x="416.4" y="31.6" width="6.0" height="172.9" fill="url(#b48)"/>
<rect x="418.9" y="31.6" width="6.0" height="172.9" fill="url(#b49)"/>
<rect x="421.4" y="31.6" width="6.0" height="172.9" fill="url(#b50)"/>
<rect x="423.9" y="31.6" width="6.0" height="172.9" fill="url(#b51)"/>
<rect x="426.4" y="31.6" width="6.0" height="172.9" fill="url(#b52)"/>
<rect x="428.9" y="31.6" width="6.0" height="172.9" fill="url(#b53)"/>
<rect x="431.4" y="31.6" width="6.0" height="172.9" fill="url(#b54)"/>
<rect x="433.9" y="31.6" width="6.0" height="172.9" fill="url(#b55)"/>
<rect x="436.4" y="31.6" width="6.0" height="172.9" fill="url(#b56)"/>
<rect x="438.9" y="31.6" width="6.0" height="172.9" fill="url(#b57)"/>
<rect x="441.4" y="31.6" width="6.0" height="172.9" fill="url(#b58)"/>
<rect x="443.9" y="31.6" width="6.0" height="172.9" fill="url(#b59)"/>
<rect x="446.4" y="31.6" width="6.0" height="172.9" fill="url(#b60)"/>
<rect x="448.9" y="31.6" width="6.0" height="172.9" fill="url(#b61)"/>
<rect x="451.4" y="31.6" width="6.0" height="172.9" fill="url(#b62)"/>
<rect x="453.9" y="31.6" width="6.0" height="172.9" fill="url(#b63)"/>
<rect x="456.4" y="31.6" width="6.0" height="172.9" fill="url(#b64)"/>
<rect x="458.9" y="31.6" width="6.0" height="172.9" fill="url(#b65)"/>
<rect x="461.4" y="31.6" width="6.0" height="172.9" fill="url(#b66)"/>
<rect x="463.9" y="31.6" width="6.0" height="172.9" fill="url(#b67)"/>
<rect x="466.4" y="31.6" width="6.0" height="172.9" fill="url(#b68)"/>
<rect x="468.9" y="31.6" width="6.0" height="172.9" fill="url(#b69)"/>
<rect x="471.4" y="31.6" width="6.0" height="172.9" fill="url(#b70)"/>
<rect x="473.9" y="31.6" width="6.0" height="172.9" fill="url(#b71)"/>
<rect x="476.4" y="31.6" width="6.0" height="172.9" fill="url(#b72)"/>
<rect x="478.9" y="31.6" width="6.0" height="172.9" fill="url(#b73)"/>
<rect x="481.4" y="31.6" width="6.0" height="172.9" fill="url(#b74)"/>
<rect x="483.9" y="31.6" width="6.0" height="172.9" fill="url(#b75)"/>
<rect x="486.4" y="31.6" width="6.0" height="172.9" fill="url(#b76)"/>
<rect x="488.9" y="31.6" width="6.0" height="172.9" fill="url(#b77)"/>
<rect x="491.4" y="31.6" width="6.0" height="172.9" fill="url(#b78)"/>
<rect x="493.9" y="31.6" width="6.0" height="172.9" fill="url(#b79)"/>
<rect x="496.4" y="31.6" width="6.0" height="172.9" fill="url(#b80)"/>
<rect x="498.9" y="31.6" width="6.0" height="172.9" fill="url(#b81)"/>
<rect x="501.4" y="31.6" width="6.0" height="172.9" fill="url(#b82)"/>
<rect x="503.9" y="31.6" width="6.0" height="172.9" fill="url(#b83)"/>
<rect x="506.4" y="31.6" width="6.0" height="172.9" fill="url(#b84)"/>
<rect x="508.9" y="31.6" width="6.0" height="172.9" fill="url(#b85)"/>
<rect x="511.4" y="31.6" width="6.0" height="172.9" fill="url(#b86)"/>
<rect x="513.9" y="31.6" width="6.0" height="172.9" fill="url(#b87)"/>
<rect x="516.4" y="31.6" width="6.0" height="172.9" fill="url(#b88)"/>
<rect x="518.9" y="31.6" width="6.0" height="172.9" fill="url(#b89)"/>
<rect x="521.4" y="31.6" width="6.0" height="172.9" fill="url(#b90)"/>
<rect x="523.9" y="31.6" width="6.0" height="172.9" fill="url(#b91)"/>
<rect x="526.4" y="31.6" width="6.0" height="172.9" fill="url(#b92)"/>
<rect x="528.9" y="31.6" width="6.0" height="172.9" fill="url(#b93)"/>
<rect x="531.4" y="31.6" width="6.0" height="172.9" fill="url(#b94)"/>
<rect x="533.9" y="31.6" width="6.0" height="172.9" fill="url(#b95)"/>
<rect x="536.4" y="31.6" width="6.0" height="172.9" fill="url(#b96)"/>
<rect x="538.9" y="31.6" width="5.0" height="172.9" fill="url(#b97)"/></g></g>
<rect x="557.00" y="31.60" width="8.50" height="172.90" fill="url(#cb)"/>
<rect x="45.40" y="31.60" width="243.90" height="172.90" fill="none" stroke="#000" stroke-width="1.11"/>
<rect x="296.40" y="31.60" width="243.50" height="172.90" fill="none" stroke="#000" stroke-width="1.11"/>
<rect x="557.00" y="31.60" width="8.50" height="172.90" fill="none" stroke="#000" stroke-width="1.11"/>
<path d="M45.40 204.50v4.86M98.26 204.50v4.86M151.12 204.50v4.86M203.99 204.50v4.86M256.85 204.50v4.86M45.40 204.50h-4.86M45.40 146.87h-4.86M45.40 89.23h-4.86M45.40 31.60h-4.86M296.40 204.50v4.86M349.26 204.50v4.86M402.12 204.50v4.86M454.99 204.50v4.86M507.85 204.50v4.86M296.40 204.50h-4.86M296.40 146.87h-4.86M296.40 89.23h-4.86M296.40 31.60h-4.86M565.50 204.50h4.86M565.50 118.05h4.86M565.50 31.60h4.86" stroke="#000" stroke-width="1.11" fill="none"/>
<text x="45.40" y="225.20" font-size="15.28" text-anchor="middle">0.0</text>
<text x="98.26" y="225.20" font-size="15.28" text-anchor="middle">2.5</text>
<text x="151.12" y="225.20" font-size="15.28" text-anchor="middle">5.0</text>
<text x="203.99" y="225.20" font-size="15.28" text-anchor="middle">7.5</text>
<text x="256.85" y="225.20" font-size="15.28" text-anchor="middle">10.0</text>
<text x="296.40" y="225.20" font-size="15.28" text-anchor="middle">0.0</text>
<text x="349.26" y="225.20" font-size="15.28" text-anchor="middle">2.5</text>
<text x="402.12" y="225.20" font-size="15.28" text-anchor="middle">5.0</text>
<text x="454.99" y="225.20" font-size="15.28" text-anchor="middle">7.5</text>
<text x="507.85" y="225.20" font-size="15.28" text-anchor="middle">10.0</text>
<text x="36.40" y="210.30" font-size="15.28" text-anchor="end">0</text>
<text x="36.40" y="152.67" font-size="15.28" text-anchor="end">1</text>
<text x="36.40" y="95.03" font-size="15.28" text-anchor="end">2</text>
<text x="36.40" y="37.40" font-size="15.28" text-anchor="end">3</text>
<text x="574.60" y="210.30" font-size="15.28" text-anchor="start">0.0</text>
<text x="574.60" y="123.85" font-size="15.28" text-anchor="start">0.5</text>
<text x="574.60" y="37.40" font-size="15.28" text-anchor="start">1.0</text>
<text x="166.75" y="244.40" font-size="15.28" text-anchor="middle"><tspan class="it" font-size="14.3">x</tspan> (µm)</text>
<text x="417.55" y="244.40" font-size="15.28" text-anchor="middle"><tspan class="it" font-size="14.3">x</tspan> (µm)</text>
<text transform="translate(16.20 118.05) rotate(-90)" font-size="15.28" text-anchor="middle"><tspan class="it" font-size="14.3">z</tspan> (µm)</text>
<text transform="translate(614.20 119.70) rotate(-90)" font-size="13.89" text-anchor="middle"><tspan class="it">I</tspan><tspan class="sn">(</tspan><tspan class="it">x</tspan><tspan class="sn">, </tspan><tspan class="it" dx="-2.1">z</tspan><tspan class="sn">)</tspan> (a.u.)</text>
<text x="167.35" y="24.30" font-size="15.28" text-anchor="middle">FEM</text>
<text x="418.15" y="24.30" font-size="15.28" text-anchor="middle">Measurement</text>
<text x="45.30" y="14.80" font-size="19.44" text-anchor="start">a</text>
<text x="295.90" y="14.80" font-size="19.44" text-anchor="start">b</text>
</svg></body></html>
